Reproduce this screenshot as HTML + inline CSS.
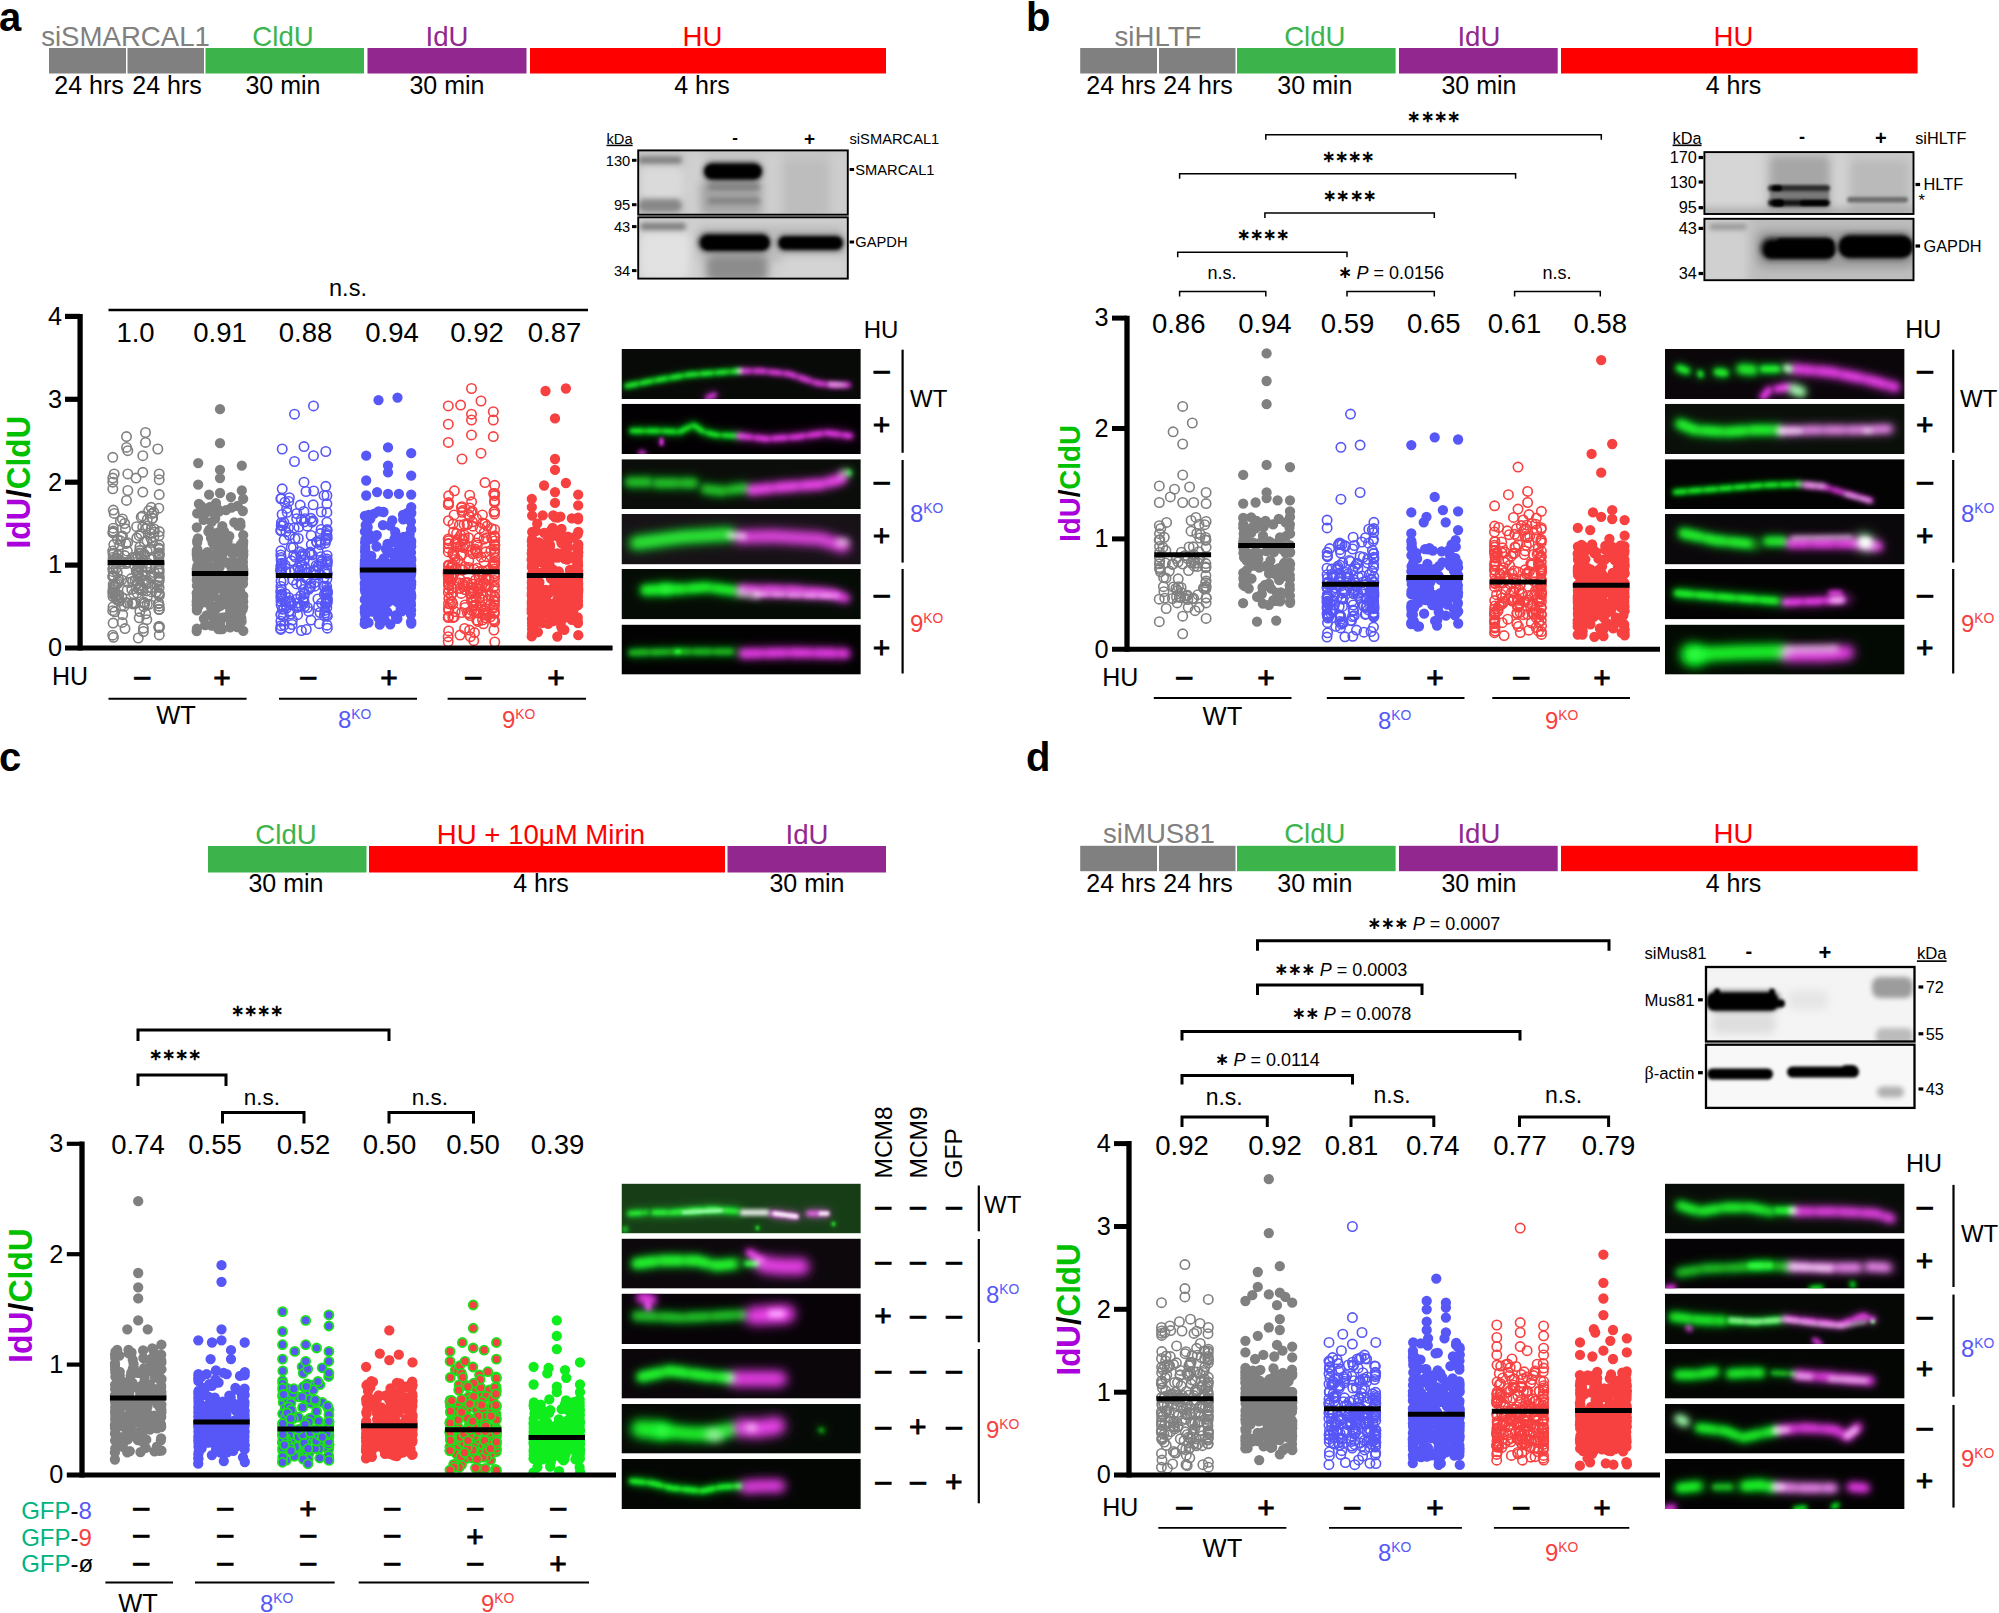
<!DOCTYPE html>
<html><head><meta charset="utf-8"><title>Figure</title>
<style>
html,body{margin:0;padding:0;background:#fff}
svg{display:block}
text{font-family:"Liberation Sans",sans-serif}
.fs{fill:none;stroke-linecap:round;stroke-linejoin:round;mix-blend-mode:screen}
</style></head><body>
<svg width="1999" height="1613" viewBox="0 0 1999 1613">
<defs><marker id="mopen808080" markerUnits="userSpaceOnUse" markerWidth="16" markerHeight="16" refX="8" refY="8"><circle cx="8" cy="8" r="4.7" fill="none" stroke="#808080" stroke-width="1.6"/></marker><marker id="mopen5757f7" markerUnits="userSpaceOnUse" markerWidth="16" markerHeight="16" refX="8" refY="8"><circle cx="8" cy="8" r="4.7" fill="none" stroke="#5757f7" stroke-width="1.6"/></marker><marker id="mopenf74040" markerUnits="userSpaceOnUse" markerWidth="16" markerHeight="16" refX="8" refY="8"><circle cx="8" cy="8" r="4.7" fill="none" stroke="#f74040" stroke-width="1.6"/></marker><marker id="mlime5757f7" markerUnits="userSpaceOnUse" markerWidth="16" markerHeight="16" refX="8" refY="8"><circle cx="8" cy="8" r="4.5" fill="#5757f7" stroke="#1ee01e" stroke-width="1.8"/></marker><marker id="mlimef74040" markerUnits="userSpaceOnUse" markerWidth="16" markerHeight="16" refX="8" refY="8"><circle cx="8" cy="8" r="4.5" fill="#f74040" stroke="#1ee01e" stroke-width="1.8"/></marker><filter id="b1" x="-30%" y="-60%" width="160%" height="220%"><feGaussianBlur stdDeviation="1.0"/></filter><filter id="b2" x="-30%" y="-60%" width="160%" height="220%"><feGaussianBlur stdDeviation="1.7"/></filter><filter id="b3" x="-30%" y="-60%" width="160%" height="220%"><feGaussianBlur stdDeviation="2.6"/></filter><filter id="b4" x="-30%" y="-60%" width="160%" height="220%"><feGaussianBlur stdDeviation="4.5"/></filter><filter id="fb0" filterUnits="userSpaceOnUse" x="-20" y="-20" width="280" height="90"><feGaussianBlur stdDeviation="0.8"/></filter><filter id="fb1" filterUnits="userSpaceOnUse" x="-20" y="-20" width="280" height="90"><feGaussianBlur stdDeviation="1.1"/></filter><filter id="fb2" filterUnits="userSpaceOnUse" x="-20" y="-20" width="280" height="90"><feGaussianBlur stdDeviation="1.5"/></filter><filter id="fb3" filterUnits="userSpaceOnUse" x="-20" y="-20" width="280" height="90"><feGaussianBlur stdDeviation="2.0"/></filter><filter id="fb4" filterUnits="userSpaceOnUse" x="-20" y="-20" width="280" height="90"><feGaussianBlur stdDeviation="2.6"/></filter><filter id="fb5" filterUnits="userSpaceOnUse" x="-20" y="-20" width="280" height="90"><feGaussianBlur stdDeviation="3.2"/></filter><filter id="fb6" filterUnits="userSpaceOnUse" x="-20" y="-20" width="280" height="90"><feGaussianBlur stdDeviation="4.0"/></filter><filter id="fb7" filterUnits="userSpaceOnUse" x="-20" y="-20" width="280" height="90"><feGaussianBlur stdDeviation="5.0"/></filter><filter id="fb8" filterUnits="userSpaceOnUse" x="-20" y="-20" width="280" height="90"><feGaussianBlur stdDeviation="6.0"/></filter><clipPath id="ca1"><rect x="638.2" y="150.4" width="209.6" height="64.3"/></clipPath><clipPath id="ca2"><rect x="638.2" y="217.3" width="209.6" height="61.3"/></clipPath><clipPath id="cb1"><rect x="1704.4" y="152.1" width="209.1" height="61.9"/></clipPath><clipPath id="cb2"><rect x="1704.4" y="218.8" width="209.1" height="61.4"/></clipPath><clipPath id="cd1"><rect x="1706" y="967" width="208.5" height="74.5"/></clipPath><clipPath id="cd2"><rect x="1706" y="1044.7" width="208.5" height="63.2"/></clipPath></defs>
<text x="-1" y="30.5" font-size="40" font-weight="bold">a</text>
<rect x="49" y="48" width="77" height="25.5" fill="#808080"/>
<rect x="127.5" y="48" width="76.5" height="25.5" fill="#808080"/>
<rect x="205.5" y="48" width="158.5" height="25.5" fill="#3cb44b"/>
<rect x="367.5" y="48" width="159" height="25.5" fill="#92278f"/>
<rect x="530" y="48" width="356" height="25.5" fill="#fe0000"/>
<text x="125.5" y="46" font-size="27.6" text-anchor="middle" fill="#808080">siSMARCAL1</text>
<text x="283" y="46" font-size="27.6" text-anchor="middle" fill="#3cb44b">CldU</text>
<text x="447" y="46" font-size="27.6" text-anchor="middle" fill="#92278f">IdU</text>
<text x="702.5" y="46" font-size="27.6" text-anchor="middle" fill="#fe0000">HU</text>
<text x="89" y="94" font-size="25" text-anchor="middle">24 hrs</text>
<text x="167" y="94" font-size="25" text-anchor="middle">24 hrs</text>
<text x="283" y="94" font-size="25" text-anchor="middle">30 min</text>
<text x="447" y="94" font-size="25" text-anchor="middle">30 min</text>
<text x="702" y="94" font-size="25" text-anchor="middle">4 hrs</text>
<polyline points="139.7,578.5 118.5,578.8 113,607 159.3,577.2 138.4,565.9 142.5,515.9 131.2,578.6 142.7,527.1 139.6,550.6 139.2,535.7 113.2,531 115.9,568.7 139.3,553.1 113.5,637.3 113,596.5 117.6,583.5 117.3,572.6 149.8,559 152.6,518.3 141.2,517.2 113.2,575.6 159.3,609.4 115.5,595.5 157.4,585.4 138.2,588 147.3,519.4 115.1,592.6 146.6,590.9 143.8,602.1 159.2,549.5 112.9,560.4 117.4,539.3 159.1,552.7 113.2,553.2 158.8,580.9 127.2,589.9 113.1,623.1 112.9,569.2 151.3,576.4 139.9,611.5 147.4,596.6 117.3,594.5 158.2,569.5 128.1,582.5 112.9,532.9 113.1,554.5 146.8,619.7 127.4,551.2 147.2,551.5 115.6,597 138.4,573.3 152.4,542.4 112.7,610.7 146.1,582.7 138.7,566.7 151.2,507.3 146.9,567.1 120.4,521 114.9,585.9 159,627.6 154.1,572.5 135.6,603.2 158.8,603.7 146.1,580.5 133.7,593.7 113.3,510.1 113.2,557.2 159,555.3 132.5,581.4 144.2,541.8 115.8,584.2 121.5,563.8 137.9,556.9 122.5,536.1 137,569.6 121.6,561.5 154.2,532.2 136.8,537.8 124.8,555.6 153.8,512.3 112.7,550.9 135.1,580.2 139.2,617.8 158.9,626.5 142,574.8 159.3,563.8 152,513.6 159.2,606.2 145.7,528.8 152.2,518.2 151.1,529.4 150.4,577.8 113.1,568.6 113.2,571.7 141,553.4 144.7,555.4 144.8,575.4 114.5,558.9 150.3,549.7 159.1,570.6 139.3,567.6 159.1,555.8 136.4,562.3 124.3,606.2 154.2,528.9 142.8,560.6 117.4,598.8 159.2,595.8 159.3,626.5 158.8,556.8 144.7,603.4 147.5,526.1 125.9,543.6 118.6,581.8 137.2,593 122.4,519 120.5,540.8 150.2,548.4 159.1,572.9 121.6,580 127.8,603.2 127.6,542.7 133.6,604 132,603.2 159.3,531.6 151.6,591.9 135.3,557.3 118.7,594.9 113.3,528.2 137.9,572.7 146.1,567.1 147.3,604.2 149.4,604.2 151.5,587.4 118.7,594.9 144,553.9 133.4,603.2 153.9,536.7 159.1,627.5 119.6,545.1 139.9,547 137.4,583.8 159.2,580 119.4,600.7 113,594.1 126.3,563.6 159.3,593.8 150,533 116.2,562.5 140.9,533.8 143.8,606.7 131.8,589.4 116.9,558.3 159,553.9 136.2,570.7 117.8,555.1 159.3,545.1 142.6,590.3 112.8,592.1 149.7,566.1 121.3,536.6 139.8,563.4 121.3,606.1 158.8,508.2 126.9,562.2 159,568.6 113.1,532.3 122.7,614.7 152.1,576.1 113.2,584.3 140.4,585.5 159,554.3 140.9,588.6 150.8,538.2 150.9,568.3 119.2,559.8 122,597.5 116.7,599.6 148.7,510.7 148,563.3 148.2,582 158.9,548.1 143.4,628.3 146.7,567.7 132.4,557.4 159.1,609.3 122.2,622.4 158.7,603.2 112.8,576.6 143.5,579.9 156,592.4 158.9,609.4 158.9,560.2 113.2,586.8 158.9,582.1 143.4,631.5 113.8,544.6 124.6,523.5 114.8,611.8 118.9,601 145.7,613.8 114.2,513.4 126.6,602.6 136.6,526.7 113.3,575.4 134.2,564.9 159,535.8 159.1,587.4 112.9,564 113,576.4 156.6,591.9 118.1,555.1 147,541 158.7,577.1 158.9,593 113,589.7 136.1,558.8 139.2,589.7 125,628.6 137.8,576.6 125.5,528.8 112.7,635.2 138.3,638 159.3,634.9 126.5,436.6 145.5,432.5 145.5,442.4 126.5,447.4 127.8,450.7 157.8,449 112.8,457.3 142.8,455.7 114.2,473.9 112.8,478.1 112.8,482.2 112.8,488.8 127.8,473.9 136,478.1 142.8,472.3 159.2,473.9 159.2,479.7 127.8,490.5 142.8,492.1 159.2,494.6 126.5,500.4" fill="none" stroke="none" marker-start="url(#mopen808080)" marker-mid="url(#mopen808080)" marker-end="url(#mopen808080)"/>
<path d="M243.2 535.1h0M216.4 585h0M235 591.6h0M234.2 581.5h0M232.4 592.9h0M215.8 606.6h0M218.1 532.5h0M236.4 598.5h0M208.6 567.7h0M217.9 563.1h0M196.8 527.3h0M240.5 525.6h0M199.3 602.6h0M230.5 615.7h0M197 599.2h0M212.2 554.8h0M202.4 571.8h0M225.2 577.4h0M219.7 567h0M202 558.9h0M237.2 627h0M232.5 623h0M243.1 543.4h0M197.2 600.2h0M240.3 522.7h0M233.9 548.4h0M202.3 591.9h0M197.2 574.9h0M230.1 627.3h0M215.2 576.8h0M210 506.9h0M197.2 540.7h0M197.1 608.3h0M201.8 568.2h0M209.4 529.6h0M232.9 589.9h0M203.9 618.6h0M217.2 508.4h0M240.9 544.7h0M203.6 519.9h0M216.5 552.8h0M227.6 541.6h0M234.7 562.7h0M242.8 511h0M243 568.4h0M222 555h0M197 579.7h0M209.6 557.7h0M216 503.1h0M242.9 569.5h0M240.9 613.4h0M243.2 595.9h0M224.4 593.7h0M224.2 602.9h0M243.2 541.3h0M234.2 583.7h0M242.8 582.3h0M197.3 566.2h0M239.8 612.4h0M229.8 587.4h0M242.7 609.3h0M243.3 554.5h0M227.7 600.7h0M234.3 522.3h0M233.1 561.3h0M199.8 595.1h0M196.9 610.4h0M197 596.9h0M205.2 625h0M208.2 564.7h0M196.9 608.9h0M242.9 551.1h0M199.8 589.7h0M218.3 561.9h0M203.6 578.9h0M209.5 580.4h0M215.7 535.4h0M237.7 506h0M212.6 542.5h0M204.9 601.1h0M228.1 605h0M242.7 598.2h0M220.4 539.7h0M201.1 505.8h0M243 571.6h0M213.9 544.5h0M223.7 601.6h0M233.1 611.1h0M197.3 606.8h0M202.4 596.1h0M242.8 547.7h0M239.9 567.8h0M222.3 526.2h0M232.2 591.4h0M211 538h0M202.2 585h0M196.7 601.7h0M225.5 617.2h0M231.7 552.9h0M208.6 589.9h0M211.6 625.5h0M222 617.6h0M218.3 623.8h0M196.9 628.7h0M228.5 590.7h0M243.1 579h0M243 600.9h0M211.6 521.8h0M231.8 570.7h0M230.9 623.2h0M239.9 592.2h0M196.7 593.2h0M197 610.3h0M206 568.8h0M197.2 513.4h0M197.1 604h0M208.4 531.5h0M237.9 581.9h0M239.5 574.8h0M197 555.3h0M219.7 599.9h0M242.4 605.4h0M219 511.6h0M237.3 589.6h0M198.9 503.8h0M242.9 546.5h0M196.8 553.2h0M220.1 624.1h0M235.7 615.3h0M216.3 545.7h0M243.3 551.1h0M243 583.8h0M203.7 577.3h0M213.9 596.4h0M210.6 584.1h0M226.7 595.5h0M209.7 604.6h0M243 577.4h0M242.9 566.2h0M221.5 581.3h0M243.3 569.7h0M217.5 585.8h0M196.9 585.6h0M225.9 543.9h0M241.4 618.4h0M198 538.4h0M242.9 561.9h0M206.6 615.4h0M238.8 552.5h0M241.6 621.6h0M226 510.1h0M233.8 610.4h0M220.1 587h0M233.7 551.3h0M227.4 598.6h0M243.2 606.8h0M198.8 581.2h0M213.6 617.9h0M196.8 555h0M238.2 562.6h0M242.9 557.4h0M197.2 558.6h0M201.9 559.1h0M197.5 555.6h0M213.2 536.3h0M221 599.2h0M225.3 590h0M235.5 601.8h0M229.3 536.2h0M231.5 507.7h0M196.8 550.4h0M231.2 593.5h0M198.6 606.1h0M201.6 595.5h0M234.3 585.3h0M235 550h0M197.1 576.5h0M197.3 554.6h0M232.7 572.2h0M234.9 552.2h0M240.1 590.2h0M196.7 569.1h0M202.2 555.6h0M216.1 608.9h0M201.6 554.9h0M230.2 610.6h0M205.1 602.1h0M242.8 599.5h0M220.4 605.9h0M197.1 567.8h0M226.9 562.4h0M226.2 548.4h0M208.2 590.9h0M242.4 571.4h0M201.7 567.7h0M228.7 588.6h0M214.8 590.4h0M239.7 600.1h0M196.8 552.9h0M197.4 549.4h0M222.8 562.1h0M208.7 599.3h0M227.3 547.5h0M218.7 577.1h0M217.7 544.7h0M215.2 518.6h0M210.3 582.7h0M231.7 616.2h0M197.2 542.5h0M197.2 607.8h0M243.2 601.7h0M208.9 582.1h0M213 512.4h0M214.4 615.1h0M211.4 576.6h0M224.1 531.3h0M233.3 568.2h0M222.5 583.1h0M207.4 552.1h0M237.5 523.8h0M218.4 629.1h0M240.7 548.7h0M202.3 597h0M215 578.4h0M210.5 587.4h0M238 525.5h0M196.8 579.9h0M197.5 598.7h0M208.3 575.9h0M205.3 513.3h0M237.2 605.9h0M215 568.6h0M242.7 564.5h0M228.8 563.9h0M243.2 573.7h0M235.4 616.6h0M210.9 607h0M234.7 550.7h0M229.9 578.5h0M196.7 605h0M233.9 602.5h0M199 577.2h0M204.3 592.4h0M229.6 564.5h0M222 546.3h0M241.6 570.2h0M220.5 553.5h0M196.7 631h0M222.3 629.1h0M243.3 630.9h0M220 409.2h0M220 443.2h0M198.2 463.1h0M241.8 465.6h0M220 469.8h0M220 478.1h0M198.2 484.7h0M241.8 490.5h0M220 493h0M209.1 494.6h0M230.9 497.1h0M243.2 498.8h0" stroke="#808080" stroke-width="10.3" stroke-linecap="round" fill="none"/>
<polyline points="311.3,544.6 327,531 327.1,603.2 311.1,535.5 320.9,556.7 292.4,620.1 310.8,583.2 281.3,572.4 312.1,554.9 327,598.7 281.3,595.1 280.7,591.7 307.6,578.6 324.5,586.4 301.6,584.5 324.4,594.5 297.7,575.6 291,603.7 327,562.4 299.4,551.7 301.1,605.8 305,554.7 300.2,505.1 318.5,606.5 327.1,529.6 314.7,586.2 310,587.7 327,600.4 301.3,519.6 300.8,595.8 290.9,602.3 283.7,580.8 305.1,568.5 327.1,562.3 327.2,592.3 293.7,555.3 281.1,565.9 294.1,527.9 326.9,589.7 302.1,564.7 327.2,538.3 297.6,614.7 307.3,572.6 300.9,556.5 304.5,594 303.5,589.5 327.2,560.7 327.3,616.2 304,560.3 316.8,542.3 298.9,606.4 307.4,607.5 308.8,611.4 296.7,518.7 326.9,579.1 320,574.2 289.9,600.7 296.8,607.5 286.7,508.4 323.7,586.3 301,583.5 318.2,551.3 318.1,566.4 281.2,567.8 311,620.1 318.4,566.7 284.9,502.2 281.1,572 285.9,571.4 280.9,621.2 288.9,597.6 289.4,497.7 293.3,547.3 304.3,521.8 301.4,566.7 326.8,597.6 280.8,569.9 281,597 292.1,624.5 320.4,533.6 281.2,525.6 280.7,569.6 298.7,606.5 310.4,553.3 281.1,559.9 326.7,586.3 290.6,614 299.9,570.3 281.2,557.4 320,612.5 319.2,623.7 294.5,570.6 307.3,526.2 315.4,570.6 311,518.3 306,577.8 327.1,564.9 281.1,598.7 291.2,547.4 321.1,529.4 327,625.2 302.6,553.6 325.1,612.9 304.1,602 280.7,530.7 293,580.1 313.7,491 280.9,550.8 311,571.9 320.8,541.7 281,614.7 288.4,528 281,581.2 327.3,573.6 315.2,575.1 321.3,511.9 301.3,555.8 324,577.6 321.4,561.7 325.8,540.3 310.1,552.1 313,520.8 285.1,565.1 287.1,512.3 281,614.4 327.2,598.9 306.5,578.6 281.9,594.1 281,601.5 280.8,629.4 324.8,610.4 322.1,561.1 285.5,601.8 311.9,522.1 283.5,615.6 327.2,600.6 296.5,599.2 326.8,607.7 324.4,615.4 280.8,554.9 316.6,541.8 319.8,540.5 281,565.6 281.1,595.5 295.4,557.1 284.1,539.7 296.6,583.9 327.1,555.4 326.7,535.1 306,491.5 303.4,599.7 282.3,609.2 326.9,602.3 303.9,597.4 281,625.7 313.2,504.8 320.3,544.7 326.9,522.2 298,567.7 281.1,604.9 285.9,531.9 326.9,503.8 326.9,495.5 297.7,603.1 303.6,601 316.1,565.6 298.3,538.5 289.3,535.3 296.8,513.5 281.1,530 280.9,586.4 321.1,564.2 325.3,543.2 281.2,498.2 313.6,570.5 283.9,522.4 281.3,589.4 286,605.2 321.5,603.1 282.1,514.5 326.8,614.8 327.1,591.1 289.2,611.1 288.7,501.4 327,594.6 298.8,527.1 326.9,512.4 281.4,522.7 305.1,518.7 308.7,589.3 284.2,625.1 283,525.7 327,535.6 325.8,593.7 303.9,511.4 313.1,562.7 281.8,563.2 324.8,571.5 310.5,586.6 290,572 326.8,594.1 291.3,560.8 314.4,582.5 286.5,608 304.6,606.5 326.7,569.5 280.9,498.8 324,495.4 295,538.6 289.7,628.2 300.3,562.5 317.9,599 283.8,608.8 281.2,571.6 326.6,533.4 326.1,603.9 326.9,559 301.4,630.6 285.3,593.7 325.4,604 327.3,592.4 280.7,628.5 306.3,629.5 327.3,628.2 313.5,405.9 294.5,414.2 304,446.6 282.2,449 325.8,451.5 313.5,455.7 294.5,461.5 304,482.2 325.8,486.3 282.2,488.8" fill="none" stroke="none" marker-start="url(#mopen5757f7)" marker-mid="url(#mopen5757f7)" marker-end="url(#mopen5757f7)"/>
<path d="M411.1 610.1h0M402.6 552.5h0M385.8 581.9h0M411.1 542.7h0M411.1 558.1h0M365.3 559.1h0M369 539.4h0M365 611h0M365.1 565.9h0M394.5 578.8h0M382.8 576.2h0M386 599.8h0M396.2 556.1h0M398.9 591.1h0M379.3 585.3h0M366.4 574.9h0M410.8 540.5h0M365.7 525.2h0M385.7 593.3h0M410.7 588h0M376.3 567.7h0M367.7 532.6h0M398.6 570.1h0M386.7 573.9h0M374.9 581.2h0M388 551.5h0M365.1 598.9h0M401.5 574.7h0M396.5 551.6h0M401.6 604.6h0M411.2 581.8h0M376.9 599.1h0M365.1 531.2h0M405 596.6h0M368.2 565.3h0M377.9 592.3h0M364.9 531.6h0M364.7 573.9h0M411 584h0M365.2 559.1h0M364.8 582.8h0M411.2 595.5h0M365 561.7h0M364.8 566.4h0M365.2 547h0M411.1 528.8h0M371.5 582.3h0M403.5 570.7h0M371 595.5h0M403.6 537h0M377.4 587.2h0M410.8 602.4h0M373.8 513.9h0M410.9 587.5h0M395.5 567.6h0M381.1 596.4h0M410.9 614.3h0M378.6 511.3h0M407.5 585.3h0M370.3 518.8h0M389.8 575.4h0M365.2 556.1h0M387.2 611.8h0M365 569.1h0M403.2 519.4h0M370.9 567.8h0M383.1 606h0M365.2 549.4h0M401.7 611.3h0M410.9 575.2h0M409.1 542.5h0M404 548.8h0M365.2 586.3h0M395.5 536.3h0M376.8 535.1h0M411.3 559.9h0M366.2 591.8h0M365.1 587.9h0M411 564.3h0M365 551.6h0M410.8 609.6h0M409.6 551.7h0M365.1 583.3h0M369.4 534.9h0M398.5 579.9h0M386 549h0M364.9 516h0M381 578.7h0M393.4 541.8h0M364.8 607.8h0M400.7 609.4h0M411.3 621.8h0M371.2 572.9h0M379.8 624.7h0M401.1 592h0M407.4 596.7h0M408.4 555.9h0M406.4 561.2h0M386.2 567.7h0M377.3 574.6h0M365.5 564.3h0M396.4 579.8h0M365.3 615h0M383.4 559.3h0M409.6 534.4h0M370.6 576.6h0M411.2 540.9h0M364.8 612h0M395 600.5h0M403.5 564.7h0M408 595.3h0M365.3 612.4h0M400.1 545.3h0M400.5 589.9h0M372 585.6h0M366.9 599.9h0M399.2 603.6h0M379.9 574.4h0M370.2 575.8h0M397.4 602h0M384.8 620.1h0M397.2 589.2h0M411.2 546.3h0M394.4 539.2h0M411 605h0M393 598.4h0M401.8 590.8h0M376.1 598.1h0M364.9 565.6h0M395.6 615.5h0M399.5 564.5h0M364.8 563.4h0M410.9 593.2h0M382.1 576h0M377.7 600.8h0M406.7 609h0M410.9 521.5h0M376.5 546.5h0M411.2 569.5h0M400.6 577.7h0M401.4 543.3h0M396.5 598.4h0M393.1 571.4h0M387.6 602.7h0M368.7 514.8h0M410.9 571.9h0M367.7 527.1h0M368.5 622.7h0M410.8 521.4h0M383.8 558.3h0M387.5 543.9h0M409.4 561.7h0M388 546h0M391.8 596.6h0M382.9 525.1h0M411.2 584.3h0M410.8 610h0M392.3 520.5h0M394.9 558.4h0M364.9 577.1h0M373.7 575h0M407.9 572.2h0M380.8 572.4h0M406.7 593h0M378.2 617.5h0M372.3 611.5h0M382.6 587.1h0M402.2 568.8h0M411 582.4h0M364.9 584.9h0M410.3 552.7h0M374.5 573h0M411.2 597.6h0M395.4 565.4h0M387.4 571.5h0M411.3 513h0M397.3 578h0M371.4 561.2h0M364.8 583.6h0M401.7 540.4h0M375.8 577.2h0M365 620.1h0M410.9 513.9h0M394.6 565.2h0M411 622h0M396.2 617.9h0M411.2 566.1h0M410.9 609.6h0M390.1 525.5h0M388.3 598.2h0M380 615.9h0M364.9 589.4h0M374.1 538.3h0M397.4 618.8h0M364.8 599.7h0M411.2 529.7h0M378.5 593.2h0M390.6 563.6h0M411 546.8h0M364.9 560.6h0M388.6 588.3h0M377.7 585.9h0M410.8 567.2h0M380 562.9h0M401.1 566.1h0M375.9 588.8h0M383.5 512h0M369.8 604.4h0M390.4 552.6h0M407.6 564.1h0M364.9 568.9h0M365 608.1h0M365.3 587.2h0M403 547.3h0M407.5 513h0M394.3 592.3h0M408.3 550.1h0M395.2 531.9h0M390 586.1h0M365.2 591.6h0M365 551.5h0M385 582.4h0M409.3 559.7h0M403.8 559.5h0M365.1 542.4h0M395.6 554.3h0M401.5 560.5h0M365.2 612.6h0M386.9 550h0M367.5 555.2h0M403 514.9h0M365 588.2h0M410.7 576.7h0M404.7 588.4h0M401.8 546.4h0M411 552.4h0M404.7 567.7h0M365.4 539.3h0M375.3 596.8h0M411.2 573.2h0M384.5 577.5h0M379.2 604.9h0M388 586.5h0M400.9 585.5h0M381.5 609.7h0M403.1 581.8h0M371.3 556h0M364.7 623.9h0M390.3 624.3h0M411.3 623.6h0M397.5 397.6h0M378.5 400.1h0M388 447.4h0M411.2 453.2h0M366.2 455.7h0M388 465.6h0M388 472.3h0M411.2 475.6h0M366.2 480.5h0M377.1 492.1h0M388 493.8h0M398.9 493.8h0M411.2 494.6h0M366.2 495.5h0M411.2 507.1h0" stroke="#5757f7" stroke-width="10.3" stroke-linecap="round" fill="none"/>
<polyline points="476.5,518.6 450.4,604 448.8,585.1 454.2,616.9 483.2,614.7 478.9,537.9 465,604.9 455.1,611.7 470.5,590.8 462.6,510.6 476.2,604.9 484,561.8 448.3,551.9 457.2,547.2 494.7,557.7 453,592.4 470.1,615.5 469.7,507.9 494.6,535.9 484.1,610.1 467.4,612.7 455.2,559.4 465,582.7 486.1,617.9 494.6,551.6 462.1,512.3 468.8,560.5 448.4,543.5 494.6,597.1 448.8,598.5 481,593.4 469.7,495.2 490.2,604.9 494.5,576.4 494.6,495.6 448.8,565.5 480.9,606.8 490.9,550.4 470.9,550.1 473.8,606 494.6,502.4 462.7,583.6 484.2,532.4 477.1,553 493.9,630 464.2,538.7 482.9,571.5 494.3,611.5 494.7,562 463.1,569.9 457.6,544 494.5,500.9 473.6,600.3 491.7,538.3 448.7,589.1 461.7,554.6 474.2,590.7 460,588.4 488.6,586.3 491.4,528.5 494.5,553.2 464.7,589.5 485.6,587.5 460.4,546.5 482.4,514.9 493.1,566.3 479.4,574.2 478.9,576.6 468.6,514.6 473.4,605.4 448.5,504.4 464.6,628.5 448.7,585.2 472.9,526.2 494.5,604.8 478,621.5 478.8,588.8 475.5,580 494.7,493.4 475.3,549 481.8,585.8 464.3,535 494.5,613.4 472.8,553.8 493.6,493.5 480.1,528.2 476,597.8 463.3,547.6 474.5,632.6 448.2,572.7 456.1,567.6 494.4,580.4 482.6,574.4 448.2,570.5 484.9,523.8 494.5,514 482.5,620.1 453.5,532 494.7,536.3 493.8,601.5 494.4,564.3 467.4,524.6 454.8,556.4 451.7,567.1 450.6,581.3 494.8,545.2 461.7,612.5 472.4,521.8 448.7,610.4 448.5,564.9 460,635.1 452.6,564.3 474,611.5 483.3,595.7 448.7,578.4 469.7,516.7 448.4,582.7 484.8,611 488.5,599.8 494.7,501.3 450.7,567.9 448.4,520.7 486.1,579.6 494.8,537.3 448.3,548.2 461.9,506.7 494.3,564.2 475.4,550.5 448.2,636.7 494.6,548.9 476.7,551.5 464.7,566.7 448.3,504.5 461.7,569.6 464.8,545.1 452.8,604 465.2,607.4 488.3,570.1 494.4,620.3 468.9,567.5 448.5,578.1 459.4,525.1 452.8,617.5 494.6,621.9 494.7,596.4 471.6,501.8 493.3,619.4 450.9,576.5 478.1,609.7 486.4,537.8 448.6,502.6 476.7,543 448.2,575.5 470.3,594.1 459.4,583.1 474.1,569.4 477.4,545 472.1,587.6 453.6,554.6 448.5,616.4 467,524.1 464.1,524.4 469.6,630.1 467.4,582.6 494.4,575.8 481.2,557.2 486.4,585.5 483.4,623.8 448.6,495.8 494.6,511.5 471.8,583.9 448.4,576.9 448.6,630.9 494.7,485.3 469.1,613.5 494.6,573.5 484.8,613.1 456.8,546.9 459.9,579.1 477.7,613.1 485.7,551.8 463,586.7 479.8,583.2 460.8,555.3 461.3,593.4 454.9,543.1 471.6,610.4 448.9,565.6 490.5,594.9 451.3,595 463.2,540.4 470.4,636.7 454.4,490.8 471.3,512.4 479.5,597.4 454.1,514.9 494.7,541 478.8,589.5 448.6,573.5 482.4,599.9 494.6,590.8 451.9,601.9 494.7,544.8 492.6,607.6 486.4,556.7 462.4,539.2 471.6,601.3 477,568.2 448.7,571.8 489.1,579.5 448.6,544 452.6,577.7 479.2,571.4 476.7,620.2 453.8,573.8 486.7,615.3 471.5,597.4 448.4,608.5 494.5,585.9 494.4,565.4 448.4,592.7 460.7,535.2 485,482.6 448.2,539.1 477.4,585.9 467.6,546.2 452.8,553.4 448.5,603.6 494.2,607.9 488.5,613.2 448.2,617.5 494.7,529.4 452.2,588.1 475.4,610.9 494.6,600.7 448.7,579 494.3,569.1 471.2,593.7 456.9,539.6 473,592.2 487.2,526.1 472.3,511.2 490.5,616.8 494.7,562.5 464.3,585.5 478,591.6 456.6,533.4 482.6,523 448.7,540.7 483.9,539.2 494,511.9 483.6,582.4 453,523.9 461.4,507.7 486.2,584.6 448.2,573.4 456.5,541.7 458,560.4 494.7,546.1 493.8,587.3 468.6,537.7 448.2,641.8 473.8,640.7 494.8,642 471.5,388.5 481,401 460.6,405.1 448.3,405.9 493.3,411.7 471.5,414.2 471.5,420 493.3,420 448.3,424.2 471.5,434.9 493.3,436.6 448.3,442.4 481,453.2 462,459" fill="none" stroke="none" marker-start="url(#mopenf74040)" marker-mid="url(#mopenf74040)" marker-end="url(#mopenf74040)"/>
<path d="M577.9 603.6h0M535.6 572.3h0M543.4 594.8h0M563 600.7h0M544.9 556.9h0M568 556.1h0M550.9 536.5h0M548.9 612.8h0M531.9 618.9h0M560.5 614.6h0M577.8 576.3h0M578 518.6h0M578 588.4h0M543.3 606.2h0M578.1 583.5h0M546.6 554.4h0M567.6 604.4h0M578.3 552.3h0M532 622.8h0M578.1 586.2h0M574.3 577.3h0M577.7 578.6h0M574.9 555.9h0M553.2 515.5h0M570.9 613.9h0M534.4 531.4h0M577.7 584.4h0M532.1 608.2h0M549.7 561h0M555.1 517.3h0M532 550.4h0M550.9 578.6h0M577.8 545.9h0M559.9 538.6h0M544.1 532.8h0M565.9 554.2h0M531.9 592.9h0M542.6 548.3h0M534.8 576.3h0M532 545.5h0M557.4 600.4h0M578.1 605h0M552.2 617h0M532.3 583.7h0M563.1 584.8h0M565.4 580.8h0M535.8 531h0M531.7 609h0M535 588.8h0M577.8 557h0M577.9 566.3h0M531.7 595.5h0M564 603.1h0M532.2 531.9h0M558.6 553.7h0M535.6 619.7h0M567.5 592.5h0M548.2 604.1h0M534.8 561h0M532 565h0M557.1 553.3h0M532 633.6h0M537.2 523.6h0M558.2 595h0M539.4 582.2h0M542.4 611.7h0M569.4 587.7h0M558.8 571.5h0M561.5 529h0M540.8 600.2h0M576.3 602.7h0M578.1 591.2h0M547.6 536.6h0M559.4 573.3h0M536.4 600.8h0M536.2 606.9h0M539.1 542.5h0M551 578.2h0M572.1 574.6h0M532.2 602.9h0M561.2 626.5h0M578.1 592.8h0M578 547.7h0M532.1 635.4h0M565.6 549.5h0M577.9 597.8h0M567.3 559.7h0M578 562.2h0M575.2 574.7h0M542.4 603.3h0M578.1 555.8h0M563 599.8h0M539.6 561.8h0M578.2 583.7h0M554.9 580.9h0M572.3 579.7h0M546.2 597.3h0M578.2 570.8h0M578.2 547.6h0M578 581.2h0M532 574.1h0M560.8 622.4h0M531.8 593.1h0M537.9 632.1h0M550.6 553.5h0M532.8 567.6h0M545.2 544.4h0M531.8 603.8h0M578.1 565h0M574.3 608.3h0M532 584.6h0M531.8 541.1h0M574.3 596.7h0M578.1 545.5h0M531.9 605.8h0M532 602.6h0M551.5 578.2h0M557.6 517.5h0M573.2 537.7h0M546 589.9h0M539.8 547.5h0M575.8 586.4h0M557.4 599.3h0M548.6 565.5h0M550 546.6h0M538.3 561.4h0M533.7 627.3h0M531.8 582.4h0M557.7 557.7h0M543.9 562.5h0M551 530.3h0M532.1 625.8h0M547.8 592.9h0M554 581.9h0M568.4 547.5h0M549.5 615.7h0M531.8 601.9h0M570.3 613.7h0M554.3 535.5h0M541.8 590.8h0M542.7 515.4h0M577.8 594h0M572 571.3h0M554.8 591.7h0M577.8 562.1h0M532.2 554.3h0M577.8 534h0M542.3 622.9h0M578.2 588.7h0M532.2 612.4h0M578.3 590.5h0M570.2 604.2h0M537.4 609.1h0M565.2 578.9h0M532.1 515.6h0M561.9 628.3h0M545.4 601.4h0M564.4 629.8h0M563.4 605.7h0M575.9 568.1h0M577.9 594.4h0M559.3 610.5h0M540.9 615.7h0M532 577.3h0M545.1 593.4h0M564.7 617.5h0M564.7 558.8h0M567.3 536.8h0M539.1 608.9h0M533.9 615.7h0M569.4 589.1h0M578 578.5h0M569.9 570h0M552.4 613.1h0M540.3 604.8h0M538.8 556.8h0M561.5 543h0M574.5 568.6h0M539 545.7h0M564.6 609.8h0M558.8 577.7h0M577.6 581.6h0M541.4 547.8h0M533 585.4h0M531.7 553.6h0M548.9 547.6h0M532.1 539h0M578 549.5h0M572.9 591.4h0M577.8 560.1h0M578.2 574.7h0M565.4 548h0M537.7 604.4h0M548.2 623.9h0M532 599.9h0M532.1 629.2h0M548.7 591.3h0M564.3 586.2h0M578 601.1h0M553.5 557.7h0M531.9 567.4h0M549.9 566.2h0M535.3 576.8h0M559.2 587.4h0M578.1 517.6h0M569.7 597.2h0M578 519.4h0M531.9 559.6h0M557.5 587.3h0M549.6 571.1h0M548.2 593.7h0M577.8 557.9h0M531.8 588h0M575.6 604.8h0M536.3 583.3h0M578.3 544.4h0M567.9 536.6h0M545.6 563.9h0M546.2 599.4h0M531.7 559.9h0M576.1 599.4h0M532 596.1h0M544 547.5h0M532.3 585.6h0M571.8 518.3h0M569.1 579.6h0M531.7 612.5h0M577.8 621.3h0M551.9 568.9h0M563.2 606.2h0M531.8 594.9h0M569.1 576h0M532.1 590.4h0M551.6 608.2h0M552.9 569.4h0M577.9 566.8h0M531.8 558.7h0M534.4 595h0M549.9 544.6h0M577.8 617.5h0M539.5 547.5h0M560.4 516.6h0M539.4 593.4h0M553.4 603.7h0M553 621.1h0M532 611h0M551.4 589.3h0M567.4 545h0M557.8 593h0M578 595.9h0M552.6 527.8h0M534 568.8h0M532.1 579h0M531.9 581.7h0M542.6 571.8h0M540.7 588.4h0M537.4 552.8h0M578 623.1h0M571.8 619.8h0M578.3 531.8h0M575.7 560h0M531.7 636.4h0M557.3 636.6h0M578.3 635.2h0M565.9 388.5h0M545.5 391h0M555 418.4h0M555 459h0M555 469.8h0M565.9 483h0M544.1 485.5h0M555 492.1h0M578.2 494.6h0M531.8 498.8h0M555 502.9h0M578.2 505.4h0M531.8 507.1h0" stroke="#f74040" stroke-width="10.3" stroke-linecap="round" fill="none"/>
<path d="M107.8 562.6L164.2 562.6" stroke="#000" stroke-width="5"/>
<path d="M191.8 573.4L248.2 573.4" stroke="#000" stroke-width="5"/>
<path d="M275.8 575.5L332.2 575.5" stroke="#000" stroke-width="5"/>
<path d="M359.8 570.1L416.2 570.1" stroke="#000" stroke-width="5"/>
<path d="M443.3 571.7L499.7 571.7" stroke="#000" stroke-width="5"/>
<path d="M526.8 575.5L583.2 575.5" stroke="#000" stroke-width="5"/>
<path d="M80.1 313.9L80.1 650.5" stroke="#000" stroke-width="5.3"/>
<path d="M65 648L612.6 648" stroke="#000" stroke-width="5"/>
<text x="62" y="656.3" font-size="25.3" text-anchor="end">0</text>
<path d="M65 565.1L80.1 565.1" stroke="#000" stroke-width="5.2"/>
<text x="62" y="573.4" font-size="25.3" text-anchor="end">1</text>
<path d="M65 482.2L80.1 482.2" stroke="#000" stroke-width="5.2"/>
<text x="62" y="490.5" font-size="25.3" text-anchor="end">2</text>
<path d="M65 399.3L80.1 399.3" stroke="#000" stroke-width="5.2"/>
<text x="62" y="407.6" font-size="25.3" text-anchor="end">3</text>
<path d="M65 316.4L80.1 316.4" stroke="#000" stroke-width="5.2"/>
<text x="62" y="324.7" font-size="25.3" text-anchor="end">4</text>
<text transform="translate(30.4 482.2) rotate(-90) scale(0.95 1)" font-size="33.1" font-weight="bold" text-anchor="middle"><tspan fill="#aa00dc">IdU</tspan>/<tspan fill="#00c000">CldU</tspan></text>
<path d="M108.5 310L588 310" stroke="#000" stroke-width="2.5"/>
<text x="348" y="295.5" font-size="23.5" text-anchor="middle">n.s.</text>
<text x="135.5" y="342" font-size="27.5" text-anchor="middle">1.0</text>
<text x="220" y="342" font-size="27.5" text-anchor="middle">0.91</text>
<text x="305.5" y="342" font-size="27.5" text-anchor="middle">0.88</text>
<text x="392" y="342" font-size="27.5" text-anchor="middle">0.94</text>
<text x="477" y="342" font-size="27.5" text-anchor="middle">0.92</text>
<text x="554.6" y="342" font-size="27.5" text-anchor="middle">0.87</text>
<text x="52" y="685" font-size="25">HU</text>
<text x="142" y="689" font-size="32.5" text-anchor="middle" stroke="#000" stroke-width="0.8">−</text>
<text x="222" y="688.1" font-size="30" text-anchor="middle" stroke="#000" stroke-width="0.8">+</text>
<text x="308" y="689" font-size="32.5" text-anchor="middle" stroke="#000" stroke-width="0.8">−</text>
<text x="389" y="688.1" font-size="30" text-anchor="middle" stroke="#000" stroke-width="0.8">+</text>
<text x="473" y="689" font-size="32.5" text-anchor="middle" stroke="#000" stroke-width="0.8">−</text>
<text x="556" y="688.1" font-size="30" text-anchor="middle" stroke="#000" stroke-width="0.8">+</text>
<path d="M108.5 698.7L246.6 698.7" stroke="#000" stroke-width="1.9"/>
<path d="M279 698.7L417 698.7" stroke="#000" stroke-width="1.9"/>
<path d="M447.6 698.7L586 698.7" stroke="#000" stroke-width="1.9"/>
<text x="176" y="724" font-size="25.5" text-anchor="middle">WT</text>
<text x="338" y="728" font-size="24" fill="#5757f7">8<tspan font-size="13.9" dy="-8.6">KO</tspan></text>
<text x="502" y="728" font-size="24" fill="#f74040">9<tspan font-size="13.9" dy="-8.6">KO</tspan></text>
<text x="606.5" y="143.7" font-size="14.7" text-decoration="underline">kDa</text>
<text x="735" y="143.3" font-size="17" text-anchor="middle" font-weight="bold">-</text>
<text x="809.5" y="145" font-size="19" text-anchor="middle" font-weight="bold">+</text>
<text x="849.5" y="143.7" font-size="14.7">siSMARCAL1</text>
<g clip-path="url(#ca1)">
<rect x="638.2" y="150.4" width="209.6" height="64.3" fill="#c6c6c6"/>
<g filter="url(#b4)">
<rect x="640" y="166" width="44" height="34" rx="8" ry="8" fill="#dadada"/>
<rect x="686" y="150" width="18" height="66" rx="4" ry="4" fill="#d0d0d0"/>
<rect x="700" y="180" width="66" height="34" rx="6" ry="6" fill="#a4a4a4"/>
<rect x="762" y="150" width="20" height="66" rx="4" ry="4" fill="#cecece"/>
<rect x="782" y="160" width="48" height="56" rx="6" ry="6" fill="#bdbdbd"/>
<rect x="830" y="150" width="20" height="66" rx="4" ry="4" fill="#cdcdcd"/>
</g><g filter="url(#b3)">
<rect x="638" y="156.5" width="44" height="7" rx="3.5" ry="3.5" fill="#7e7e7e"/>
<rect x="638" y="199" width="44" height="13" rx="6.5" ry="6.5" fill="#888"/>
<rect x="708" y="184.5" width="52" height="5" rx="2.5" ry="2.5" fill="#777"/>
<rect x="708" y="198" width="52" height="5.5" rx="2.8" ry="2.8" fill="#808080"/>
<rect x="703" y="162" width="60" height="19" rx="9.5" ry="9.5" fill="#333"/>
</g><g filter="url(#b2)">
<rect x="705" y="164.5" width="56" height="14" rx="7" ry="7" fill="#000"/>
</g></g>
<g clip-path="url(#ca2)">
<rect x="638.2" y="217.3" width="209.6" height="61.3" fill="#cfcfcf"/>
<g filter="url(#b4)">
<rect x="640" y="232" width="50" height="48" rx="8" ry="8" fill="#e2e2e2"/>
<rect x="696" y="226" width="150" height="36" rx="10" ry="10" fill="#bcbcbc"/>
<rect x="706" y="254" width="62" height="28" rx="8" ry="8" fill="#8c8c8c"/>
<rect x="780" y="256" width="66" height="26" rx="8" ry="8" fill="#d4d4d4"/>
</g><g filter="url(#b3)">
<rect x="640" y="223" width="46" height="7" rx="3.5" ry="3.5" fill="#7c7c7c"/>
<rect x="698" y="233" width="73" height="19" rx="9.5" ry="9.5" fill="#333"/>
<rect x="777" y="235" width="67" height="16" rx="8" ry="8" fill="#3a3a3a"/>
</g><g filter="url(#b2)">
<rect x="701" y="235.5" width="68" height="14.5" rx="7.2" ry="7.2" fill="#000"/>
<rect x="779" y="237" width="63" height="12" rx="6" ry="6" fill="#000"/>
</g></g>
<rect x="638.2" y="150.4" width="209.6" height="64.3" fill="none" stroke="#000" stroke-width="1.9"/>
<rect x="638.2" y="217.3" width="209.6" height="61.3" fill="none" stroke="#000" stroke-width="1.9"/>
<text x="630.3" y="165.5" font-size="14.7" text-anchor="end">130</text>
<rect x="632" y="158.8" width="4.5" height="3" fill="#000"/>
<text x="630.3" y="209.9" font-size="14.7" text-anchor="end">95</text>
<rect x="632" y="203.2" width="4.5" height="3" fill="#000"/>
<text x="630.3" y="231.8" font-size="14.7" text-anchor="end">43</text>
<rect x="632" y="225.1" width="4.5" height="3" fill="#000"/>
<text x="630.3" y="275.8" font-size="14.7" text-anchor="end">34</text>
<rect x="632" y="269.1" width="4.5" height="3" fill="#000"/>
<rect x="849.6" y="168" width="4.5" height="3" fill="#000"/>
<text x="855.3" y="174.7" font-size="14.7">SMARCAL1</text>
<rect x="849.6" y="240.5" width="4.5" height="3" fill="#000"/>
<text x="855.3" y="247.3" font-size="14.7">GAPDH</text>
<svg x="621.5" y="349" width="239.3" height="50" style="isolation:isolate">
<rect width="239.3" height="50" fill="#080a08"/>
<path d="M5 37L30 32L68 25.6L118 22" stroke="#0cff1a" stroke-width="5.2" class="fs" opacity="0.6" filter="url(#fb5)"/>
<path d="M5 37L30 32L68 25.6L118 22" stroke="#0cff1a" stroke-width="4.3" class="fs" stroke-dasharray="10.4 4.8" filter="url(#fb3)"/>
<path d="M118 22L140 22L168 25L195 34L210 36L227 36" stroke="#de2ade" stroke-width="5.2" class="fs" opacity="0.6" filter="url(#fb5)"/>
<path d="M118 22L140 22L168 25L195 34L210 36L227 36" stroke="#de2ade" stroke-width="4.3" class="fs" stroke-dasharray="10.4 4.8" filter="url(#fb3)"/>
<path d="M86 49L93 46" stroke="#de2ade" stroke-width="5.8" class="fs" opacity="0.6" filter="url(#fb6)"/>
<path d="M86 49L93 46" stroke="#de2ade" stroke-width="4.6" class="fs" stroke-dasharray="11 5" filter="url(#fb3)"/>
<path d="M208 35L222 36" stroke="#fff" stroke-width="3.8" class="fs" opacity="0.55" filter="url(#fb3)"/>
</svg>
<svg x="621.5" y="403.8" width="239.3" height="50.2" style="isolation:isolate">
<rect width="239.3" height="50.2" fill="#030003"/>
<path d="M10 27.1L40 27.1L58 28.1L72 21.1L82 28.1L95 31.1L117 32.1" stroke="#0cff1a" stroke-width="5.8" class="fs" opacity="0.6" filter="url(#fb6)"/>
<path d="M10 27.1L40 27.1L58 28.1L72 21.1L82 28.1L95 31.1L117 32.1" stroke="#0cff1a" stroke-width="4.6" class="fs" stroke-dasharray="11 5" filter="url(#fb3)"/>
<path d="M117 32.1L145 35.1L175 33.1L205 29.1L229 32.1" stroke="#de2ade" stroke-width="6.9" class="fs" opacity="0.6" filter="url(#fb6)"/>
<path d="M117 32.1L145 35.1L175 33.1L205 29.1L229 32.1" stroke="#de2ade" stroke-width="5.2" class="fs" stroke-dasharray="12.2 5.5" filter="url(#fb3)"/>
<path d="M40 36.1L40 40.2" stroke="#de2ade" stroke-width="4" class="fs" opacity="0.6" filter="url(#fb5)"/>
<path d="M40 36.1L40 40.2" stroke="#de2ade" stroke-width="3.7" class="fs" stroke-dasharray="9.2 4.2" filter="url(#fb2)"/>
<path d="M19 49.2L22 49.2" stroke="#de2ade" stroke-width="4.6" class="fs" opacity="0.6" filter="url(#fb5)"/>
<path d="M19 49.2L22 49.2" stroke="#de2ade" stroke-width="4" class="fs" stroke-dasharray="9.8 4.5" filter="url(#fb3)"/>
</svg>
<svg x="621.5" y="459.2" width="239.3" height="49.8" style="isolation:isolate">
<rect width="239.3" height="49.8" fill="#0a0d09"/>
<path d="M8 22.9L28 22.9" stroke="#0aa614" stroke-width="12.6" class="fs" opacity="0.6" filter="url(#fb7)"/>
<path d="M8 22.9L28 22.9" stroke="#0aa614" stroke-width="8.2" class="fs" stroke-dasharray="18.2 8" filter="url(#fb5)"/>
<path d="M36 23.9L72 23.9" stroke="#0aa614" stroke-width="12.6" class="fs" opacity="0.6" filter="url(#fb7)"/>
<path d="M36 23.9L72 23.9" stroke="#0aa614" stroke-width="8.2" class="fs" stroke-dasharray="18.2 8" filter="url(#fb5)"/>
<path d="M84 29.9L100 31.9L122 28.9" stroke="#0aa614" stroke-width="12.6" class="fs" opacity="0.6" filter="url(#fb7)"/>
<path d="M84 29.9L100 31.9L122 28.9" stroke="#0aa614" stroke-width="8.2" class="fs" stroke-dasharray="18.2 8" filter="url(#fb5)"/>
<path d="M130 30.9L160 27.9L200 24.9L220 19.9" stroke="#de2ade" stroke-width="12.6" class="fs" opacity="0.6" filter="url(#fb7)"/>
<path d="M130 30.9L160 27.9L200 24.9L220 19.9" stroke="#de2ade" stroke-width="8.2" class="fs" stroke-dasharray="18.2 8" filter="url(#fb5)"/>
<path d="M221 14.9L224 13.9" stroke="#fff" stroke-width="8" class="fs" opacity="0.55" filter="url(#fb5)"/>
<path d="M227 12.9L228 13.9" stroke="#0cff1a" stroke-width="5.8" class="fs" opacity="0.6" filter="url(#fb6)"/>
<path d="M227 12.9L228 13.9" stroke="#0cff1a" stroke-width="4.6" class="fs" stroke-dasharray="11 5" filter="url(#fb3)"/>
</svg>
<svg x="621.5" y="514" width="239.3" height="50.4" style="isolation:isolate">
<rect width="239.3" height="50.4" fill="#161216"/>
<path d="M14 29.2L60 23.2L108 20.2" stroke="#0cff1a" stroke-width="13.8" class="fs" opacity="0.6" filter="url(#fb8)"/>
<path d="M14 29.2L60 23.2L108 20.2" stroke="#0cff1a" stroke-width="8.8" class="fs" filter="url(#fb6)"/>
<path d="M118 23.2L150 22.2L200 25.2L222 32.3" stroke="#de2ade" stroke-width="13.8" class="fs" opacity="0.6" filter="url(#fb8)"/>
<path d="M118 23.2L150 22.2L200 25.2L222 32.3" stroke="#de2ade" stroke-width="8.8" class="fs" filter="url(#fb6)"/>
<path d="M218 28.2L224 28.2" stroke="#fff" stroke-width="8" class="fs" opacity="0.55" filter="url(#fb5)"/>
<path d="M108 21.2L122 22.2" stroke="#fff" stroke-width="6.6" class="fs" opacity="0.55" filter="url(#fb4)"/>
</svg>
<svg x="621.5" y="569" width="239.3" height="50.3" style="isolation:isolate">
<rect width="239.3" height="50.3" fill="#050c05"/>
<path d="M24 21.1L45 20.1" stroke="#0cff1a" stroke-width="12.6" class="fs" opacity="0.6" filter="url(#fb7)"/>
<path d="M24 21.1L45 20.1" stroke="#0cff1a" stroke-width="8.2" class="fs" stroke-dasharray="18.2 8" filter="url(#fb5)"/>
<path d="M45 20.1L60 20.1L85 18.1L115 22.1" stroke="#0cff1a" stroke-width="11.5" class="fs" opacity="0.6" filter="url(#fb7)"/>
<path d="M45 20.1L60 20.1L85 18.1L115 22.1" stroke="#0cff1a" stroke-width="7.6" class="fs" stroke-dasharray="17 7.5" filter="url(#fb5)"/>
<path d="M120 20.1L170 21.1L210 24.1L224 29.2" stroke="#de2ade" stroke-width="10.3" class="fs" opacity="0.6" filter="url(#fb7)"/>
<path d="M120 20.1L170 21.1L210 24.1L224 29.2" stroke="#de2ade" stroke-width="7" class="fs" stroke-dasharray="15.8 7" filter="url(#fb5)"/>
<path d="M118 24.1L135 26.2" stroke="#fff" stroke-width="8" class="fs" opacity="0.55" filter="url(#fb5)"/>
<path d="M135 25.1L215 27.2" stroke="#d868dc" stroke-width="5.8" class="fs" opacity="0.6" filter="url(#fb6)"/>
<path d="M135 25.1L215 27.2" stroke="#d868dc" stroke-width="4.6" class="fs" stroke-dasharray="11 5" filter="url(#fb3)"/>
</svg>
<svg x="621.5" y="624.6" width="239.3" height="50" style="isolation:isolate">
<rect width="239.3" height="50" fill="#020202"/>
<path d="M10 28L60 27L115 27" stroke="#0aa614" stroke-width="9.2" class="fs" opacity="0.6" filter="url(#fb7)"/>
<path d="M10 28L60 27L115 27" stroke="#0aa614" stroke-width="6.4" class="fs" stroke-dasharray="14.6 6.5" filter="url(#fb4)"/>
<path d="M55 27L58 27" stroke="#0cff1a" stroke-width="3.4" class="fs" opacity="0.6" filter="url(#fb5)"/>
<path d="M55 27L58 27" stroke="#0cff1a" stroke-width="3.4" class="fs" stroke-dasharray="8.6 4" filter="url(#fb2)"/>
<path d="M122 29L170 28L224 29" stroke="#de2ade" stroke-width="11.5" class="fs" opacity="0.6" filter="url(#fb7)"/>
<path d="M122 29L170 28L224 29" stroke="#de2ade" stroke-width="7.6" class="fs" stroke-dasharray="17 7.5" filter="url(#fb5)"/>
</svg>
<text x="863.7" y="337.6" font-size="24">HU</text>
<text x="881.6" y="382.6" font-size="32.5" text-anchor="middle" stroke="#000" stroke-width="0.8">−</text>
<text x="881.6" y="434.8" font-size="30" text-anchor="middle" stroke="#000" stroke-width="0.8">+</text>
<text x="881.6" y="494" font-size="32.5" text-anchor="middle" stroke="#000" stroke-width="0.8">−</text>
<text x="881.6" y="545.6" font-size="30" text-anchor="middle" stroke="#000" stroke-width="0.8">+</text>
<text x="881.6" y="606.5" font-size="32.5" text-anchor="middle" stroke="#000" stroke-width="0.8">−</text>
<text x="881.6" y="658.1" font-size="30" text-anchor="middle" stroke="#000" stroke-width="0.8">+</text>
<path d="M902.6 349.7L902.6 452.8" stroke="#000" stroke-width="2.2"/>
<path d="M902.6 460L902.6 562.6" stroke="#000" stroke-width="2.2"/>
<path d="M902.6 569L902.6 673.5" stroke="#000" stroke-width="2.2"/>
<text x="910" y="407" font-size="24">WT</text>
<text x="910" y="521.5" font-size="24" fill="#5757f7">8<tspan font-size="13.9" dy="-8.6">KO</tspan></text>
<text x="910" y="632" font-size="24" fill="#f74040">9<tspan font-size="13.9" dy="-8.6">KO</tspan></text>
<text x="1026" y="30.5" font-size="40" font-weight="bold">b</text>
<rect x="1080.2" y="48" width="76.8" height="25.5" fill="#808080"/>
<rect x="1159" y="48" width="76.5" height="25.5" fill="#808080"/>
<rect x="1237" y="48" width="158.6" height="25.5" fill="#3cb44b"/>
<rect x="1399" y="48" width="158.7" height="25.5" fill="#92278f"/>
<rect x="1561" y="48" width="356.6" height="25.5" fill="#fe0000"/>
<text x="1158" y="46" font-size="27.6" text-anchor="middle" fill="#808080">siHLTF</text>
<text x="1314.8" y="46" font-size="27.6" text-anchor="middle" fill="#3cb44b">CldU</text>
<text x="1478.9" y="46" font-size="27.6" text-anchor="middle" fill="#92278f">IdU</text>
<text x="1733.5" y="46" font-size="27.6" text-anchor="middle" fill="#fe0000">HU</text>
<text x="1121" y="94" font-size="25" text-anchor="middle">24 hrs</text>
<text x="1198" y="94" font-size="25" text-anchor="middle">24 hrs</text>
<text x="1314.8" y="94" font-size="25" text-anchor="middle">30 min</text>
<text x="1478.9" y="94" font-size="25" text-anchor="middle">30 min</text>
<text x="1733.5" y="94" font-size="25" text-anchor="middle">4 hrs</text>
<polyline points="1205.7,582.8 1194.8,563.2 1193.6,598.3 1178.2,578.8 1193.3,546.8 1194.3,566.2 1205.9,563.6 1163.4,586.7 1159.6,567.6 1205.9,588.8 1188.5,570.5 1187.8,599.6 1206.1,581 1206.1,547.3 1205.9,575.6 1193.7,554.6 1164.7,598.2 1176.3,558.6 1205.6,537.5 1205.8,567.6 1205.9,586.8 1205.6,567.7 1198.1,563 1173.5,587 1184.4,555.8 1199.9,558.3 1178.1,562 1169.3,571 1165.9,550.6 1179.3,597.1 1159.7,561.1 1181.4,552.2 1159.8,539.7 1189.1,546.9 1159.6,552.5 1172.9,564 1204.2,588.3 1159.5,533.7 1159.4,563.8 1163.6,577.6 1187.6,595.3 1196.8,533.4 1191.1,563 1193.4,560.4 1206.2,597.9 1182.8,564 1166,578.1 1191,531.2 1177.3,590.5 1175.9,588.4 1204.7,524.7 1172.4,564.4 1159.5,546.5 1178.4,586.7 1206.1,521.4 1199,524.4 1197.9,594.7 1172.4,598.5 1203.4,588.1 1195.9,517.4 1206,540 1166.6,522.4 1197.7,566.4 1160.5,571.8 1200.5,534.5 1159.6,569.3 1164.3,537.3 1180.7,597.5 1162.9,547.4 1206,566.9 1160.7,528.4 1163.9,591.7 1159.2,540.1 1199.7,538 1165.4,563 1186.4,596 1181.1,587.5 1206.1,586.6 1205.6,540.2 1198.8,551.7 1159.4,557.2 1198.8,560.2 1187.8,558.7 1192.3,598.8 1191.1,520.5 1181.7,592.8 1194.5,559.9 1159.3,525.7 1176.5,597 1159.2,599.2 1185,598 1206.2,597.8 1182.7,633.8 1159.3,621.7 1206.1,618.4 1182.7,616.2 1166.2,608.5 1188.2,607.3 1199.2,607.3 1177.2,602.9 1206.1,602.9 1195.1,610.7 1182.7,406.4 1192.3,423 1173.1,431.8 1182.7,444 1182.7,474.9 1159.3,485.9 1189.6,487 1174.5,489.2 1206.1,492.5 1170.3,496.9 1159.3,502.5 1182.7,502.5 1193.7,502.5 1206.1,503.6" fill="none" stroke="none" marker-start="url(#mopen808080)" marker-mid="url(#mopen808080)" marker-end="url(#mopen808080)"/>
<path d="M1282.7 576.4h0M1279.2 580.2h0M1289.7 562.9h0M1244.7 586.2h0M1255.5 555.1h0M1289.7 585.4h0M1289.5 527.8h0M1251.5 578.7h0M1251.6 554.3h0M1285.2 548.3h0M1280 601.4h0M1253.3 563.6h0M1266.6 551.2h0M1285.5 522.3h0M1289.7 568.8h0M1276.7 592.6h0M1280 537.4h0M1243.2 547.2h0M1284.9 562.4h0M1284 572.7h0M1285.8 553.2h0M1261.8 594h0M1243.3 541.3h0M1273.5 543.7h0M1290 516.9h0M1245.4 540.8h0M1266.4 585.8h0M1278.8 518.8h0M1251.2 532.9h0M1289.8 575.5h0M1251.5 554.2h0M1243.2 518h0M1246.5 541.4h0M1266.4 565.7h0M1273.9 552.2h0M1271.1 588.7h0M1243.7 533.7h0M1287.7 565.8h0M1246.8 570.2h0M1243.4 525h0M1268.1 584.6h0M1287.5 576.4h0M1278.6 574.1h0M1269 573.6h0M1257.1 596.9h0M1278.9 568.1h0M1245.3 551h0M1258.3 559.1h0M1262.5 587.4h0M1252.9 526.8h0M1246.6 560.5h0M1253.6 543h0M1255.5 528.4h0M1243.3 524.1h0M1290.1 533.7h0M1289.9 579.1h0M1243.4 585.2h0M1243.3 542.8h0M1243.4 552.9h0M1263 535.7h0M1248.7 588.5h0M1253.2 565.6h0M1243.5 577.9h0M1263.6 526.9h0M1270.4 560.6h0M1290.1 551.8h0M1276.4 575.2h0M1255.7 560.9h0M1284.1 550.4h0M1259.7 543h0M1289.7 565.6h0M1282.8 546h0M1289.8 589.2h0M1245.6 540.1h0M1243.5 579h0M1265.9 566.5h0M1243.7 538.3h0M1259.3 567.6h0M1289.9 595.7h0M1265.5 521h0M1273.1 524.4h0M1256.6 521h0M1244.1 581.4h0M1269.4 567.8h0M1280.8 592.3h0M1244.4 581h0M1280 597.9h0M1271.9 548.6h0M1279.3 545.4h0M1290.1 564.2h0M1282.6 571.8h0M1283.7 546.4h0M1290.1 602.8h0M1290.1 552.6h0M1275.7 569.8h0M1283.2 550.1h0M1244.1 557.6h0M1251.2 517.3h0M1289.9 524.3h0M1275.8 600.9h0M1255.3 545.2h0M1268.9 583.7h0M1265 584.8h0M1268.9 568.5h0M1249.2 553.7h0M1243.3 527.7h0M1248.2 557.3h0M1262.8 603.6h0M1289.7 545.2h0M1286.4 535.8h0M1273.2 600.4h0M1289.5 550.9h0M1258.8 553.3h0M1270 567.3h0M1243.3 573h0M1281.1 543.2h0M1252.1 542.9h0M1284 563.4h0M1258.8 566.3h0M1269.3 541.5h0M1243.1 603.2h0M1268.9 605h0M1290.1 601.2h0M1257 621.7h0M1276.2 620.6h0M1266.6 353.4h0M1266.6 381h0M1266.6 404.2h0M1266.6 464.9h0M1290 467.1h0M1243.2 474.9h0M1266.6 492.5h0M1266.6 498.1h0M1277.6 500.3h0M1290 500.3h0M1255.6 502.5h0M1243.2 503.6h0M1290 511.3h0" stroke="#808080" stroke-width="10.3" stroke-linecap="round" fill="none"/>
<polyline points="1372.1,600.9 1357.7,563.6 1334.5,604.8 1371.5,579.1 1363.3,590.5 1373,615.1 1327.2,582.6 1342.6,562.8 1373.5,586.9 1373.6,601.4 1363.3,557.2 1340.5,578.6 1355,566.4 1373.5,539.1 1370.6,600.3 1360.1,556.4 1353.1,537.2 1341.6,624.2 1327.5,578.2 1352.6,549 1369.3,574.4 1327.2,555.5 1355.9,582.8 1373.7,616.8 1329.6,548.6 1363.1,605.2 1358.5,576.9 1358.1,595.6 1373.8,528.6 1373.7,532.6 1353.2,590.6 1327,568.2 1355.8,586 1339.7,542.9 1373.6,553.6 1373.7,590.6 1331.7,569.1 1337.7,568.3 1363.9,632.2 1370.2,600 1365.3,614.4 1373.5,627.1 1327.1,574.7 1344.9,636.8 1337.8,566.3 1327,587.5 1367.6,563 1350.7,584.1 1344.9,591.8 1373.9,582.5 1351.5,620.7 1327.3,584 1328.1,614.6 1327.2,588.2 1362,576.1 1355.4,589.7 1349.8,586.2 1327.5,602.8 1365.9,607.6 1372.4,608 1338.4,585.8 1327.1,607.8 1340.3,617.2 1339.7,581.8 1339,578.8 1331.6,610.1 1371.5,584.8 1343.3,622.8 1366,581 1368.8,529.2 1327.1,613.3 1342.3,593.2 1373.6,581.9 1332.6,577.4 1342.5,606.4 1334,600.9 1353.8,593.8 1373.7,596.3 1328.7,616.6 1337.1,597.5 1372.4,596.9 1352.5,616.5 1327.4,556 1327.1,527.9 1353.2,605 1327.1,596.7 1327.6,632.8 1347.8,574.1 1370.6,590.8 1327.8,597 1373.5,602.5 1341.3,598.6 1327.2,606.3 1369.7,604.3 1327.2,615.4 1373.9,616.1 1363.7,606.3 1332.3,591.3 1328,618.1 1373.4,591.3 1337.9,569.6 1343.5,588.9 1340.5,627.9 1361.7,542 1356.8,563.8 1341.3,598.8 1373.9,593.1 1353.5,610.9 1327,598.7 1345,545.7 1363.2,582 1373.6,564.3 1340,616.1 1346.1,577 1360.4,598 1327.4,556.7 1327.2,552.3 1346.1,572.5 1327.5,622.7 1373.6,567.6 1327.5,587.8 1339.7,621.5 1352.7,570.2 1327.3,613.8 1373.8,596.2 1329.7,602.9 1331.7,601.6 1349.2,560.4 1362.6,589.5 1371,631.5 1333,609.1 1351.9,601.5 1340.8,616.1 1373.7,553.3 1373.1,541 1328.1,616.4 1347.5,578.1 1370.1,592.1 1365.5,537.7 1373.6,612.6 1344,590.9 1368.5,543.2 1342,622.1 1353.1,610.1 1327.5,595.9 1361.9,592 1340.1,544.6 1373.8,613.3 1373.8,576.6 1373.6,558.5 1353.7,579.6 1328.4,581.9 1327.1,601.8 1367.1,598.1 1365.9,599.2 1372.4,550.4 1367.9,609.7 1331.9,574.2 1331.7,611.1 1327.3,609 1372.3,529.8 1338.4,544.6 1373.5,603.4 1335.8,626.3 1340,549.7 1372,571.1 1358,568.6 1341.2,585.9 1339.3,615 1373.5,586.5 1348,576.4 1373.8,557.2 1373.6,592.8 1374,608.7 1345.3,546.5 1367.6,559.3 1350.7,561.4 1373.8,558.9 1334.4,575.6 1339.5,573.1 1373.7,604.1 1342,544.5 1342.9,599.2 1327.2,603.2 1341.2,576.3 1350.7,620.5 1366,613.9 1339.2,606.4 1340.7,553 1374,606.6 1330.9,584.6 1357.9,593.3 1332.6,584.9 1327.2,601.2 1339.7,565.2 1364.6,584.9 1354.4,545.5 1335.5,587.8 1327.3,596.7 1327.4,594.5 1356.5,630.1 1330.6,612.9 1354.9,591.6 1373.8,594.9 1373.6,597.9 1366.7,606.5 1373.8,613.9 1354.3,615.7 1327,637.1 1352.8,636.3 1374,636.5 1350.5,414.1 1360.1,445.1 1340.9,447.3 1360.1,492.5 1340.9,499.2 1327.1,520.1 1373.9,522.3" fill="none" stroke="none" marker-start="url(#mopen5757f7)" marker-mid="url(#mopen5757f7)" marker-end="url(#mopen5757f7)"/>
<path d="M1416.2 552.8h0M1442.4 562.5h0M1411.4 608.9h0M1432.4 605.2h0M1439.7 578h0M1440.3 579.9h0M1449.8 581.3h0M1427.4 563.8h0M1457.9 574.8h0M1411.7 571.7h0M1418.3 602.9h0M1416.9 597h0M1423.8 571.2h0M1449.9 584.4h0M1432.8 550.6h0M1457.9 585.3h0M1455.4 558.2h0M1450.4 557.5h0M1413.9 608.2h0M1429.1 588.2h0M1458 611.1h0M1418 588.4h0M1438.7 611.9h0M1426 600.2h0M1430.4 582h0M1411.6 613.4h0M1411.7 583.9h0M1415.3 574.9h0M1432.2 575.7h0M1433.5 594.9h0M1431.8 572.8h0M1451.7 595.2h0M1411.2 607h0M1411.3 541.2h0M1437.9 607.7h0M1411.5 591h0M1449.1 582.7h0M1422.8 591.3h0M1412.9 614.7h0M1429.4 548.1h0M1413.2 563h0M1438.3 575.4h0M1419.9 568.8h0M1438.9 603h0M1411.4 548.1h0M1455.3 575.3h0M1449.7 595.7h0M1450 565.8h0M1438.7 604.5h0M1412.5 605.1h0M1411.4 555.3h0M1417.1 558.7h0M1449.3 587.3h0M1411.2 622.9h0M1411.7 543.2h0M1421.6 598.9h0M1416.6 586.4h0M1444.8 586.5h0M1423.6 598.6h0M1455.1 598h0M1457.9 595.7h0M1451.6 544.6h0M1447.7 592.5h0M1445.5 584.8h0M1441.7 551.3h0M1437.2 620h0M1453.9 609.1h0M1418.7 598.5h0M1457.9 602.9h0M1457.7 588.6h0M1411.4 614.8h0M1457.2 580.7h0M1411.7 544.6h0M1449.7 582.6h0M1445.7 581.4h0M1446.3 601.8h0M1447.6 585.6h0M1457.7 612.1h0M1411.3 540.8h0M1458.1 575.6h0M1439.3 566h0M1411.5 604.6h0M1455.6 540.2h0M1449.8 554.4h0M1419.8 586.2h0M1458.1 567.5h0M1453.9 570.7h0M1411.2 579.6h0M1453.5 597.1h0M1435.4 569h0M1412.1 547.9h0M1422.6 572h0M1418.7 576.6h0M1449.6 549.3h0M1449.4 591.5h0M1411.3 594h0M1440.1 596.1h0M1412.9 582.7h0M1411.6 566.4h0M1457.7 563.1h0M1428.8 570.1h0M1424.1 613.7h0M1421.5 595.2h0M1445.9 615.6h0M1419 626.3h0M1411.2 579.4h0M1422 590.4h0M1449.2 586.7h0M1456.7 586.1h0M1425.1 549.2h0M1426.8 584.4h0M1418.9 582.7h0M1434.9 598h0M1455 615.3h0M1458.1 592.8h0M1455.8 546.8h0M1426.8 598.2h0M1450.2 581h0M1428.5 549.4h0M1417.8 626.5h0M1447.3 604.7h0M1440.3 593.1h0M1451.8 557.6h0M1421.5 599.9h0M1426.5 578.9h0M1458.2 611.3h0M1413.9 621.5h0M1411.4 571.5h0M1435.1 620.9h0M1457.7 604h0M1419.2 585.4h0M1426.1 586.4h0M1411.2 624h0M1437 625.6h0M1458.2 623.5h0M1434.7 437.3h0M1458.1 439.5h0M1411.3 445.1h0M1434.7 496.9h0M1442.9 510.2h0M1458.1 511.3h0M1411.3 512.4h0M1426.5 516.8h0M1423.7 522.3h0M1445.7 522.3h0M1458.1 530.1h0M1411.3 533.4h0" stroke="#5757f7" stroke-width="10.3" stroke-linecap="round" fill="none"/>
<polyline points="1514.7,534.3 1513.4,578.6 1541.2,556.7 1513.5,517.4 1494.8,628 1507.2,530.8 1520.1,612.4 1541.2,614.8 1503.1,567.7 1512.8,553.6 1495,557 1500,573.8 1495,620 1532.1,523.5 1530.5,606.5 1514.2,570.8 1518.4,626.4 1495,580.7 1526.4,545.4 1494.5,569.9 1541.1,555.8 1538.8,622 1501.7,542 1541,586.7 1516.8,613.3 1515.5,547.7 1507.9,577.7 1540.5,570.1 1532.9,613.9 1524.2,601.7 1502.6,603.5 1539.2,601.6 1536.1,627.4 1541.2,607.9 1495,582.8 1536.3,611.9 1521.3,525.6 1535.2,591.2 1502.5,547.8 1536.4,518.1 1541.2,592.8 1538.3,547.8 1533.3,554.4 1511.9,573.6 1517.5,607 1500.4,582.4 1518.3,600.3 1495.1,564.5 1527.7,614.4 1541.2,573.5 1495,631.1 1502.3,583.1 1494.7,553.5 1494.5,545.2 1524.7,601.6 1527,525.2 1515.6,583.2 1541.1,613.3 1494.8,575.2 1502.2,622.7 1541.3,615.2 1513.9,591.6 1494.9,564 1494.8,547.1 1494.6,550.6 1528.2,602.4 1521.6,579 1496.5,594.7 1497.3,581.9 1534.6,573 1494.8,570.5 1529.4,571.4 1534.1,613.9 1518.2,544.7 1523.2,520 1541,585 1494.6,566.1 1528,595.5 1495,561.3 1501.8,552.8 1508.4,598.9 1513.6,591.5 1510.2,584.1 1503.6,601.6 1501.4,570 1517.3,599.1 1494.6,608.9 1531.6,604.8 1538.4,552.9 1541.4,566.8 1529.7,536.3 1519.4,604.9 1541.3,590.7 1494.8,613.6 1509.6,565.3 1531.9,612.6 1517.2,613 1539.4,600.5 1523.8,530.4 1541.4,601.7 1494.6,526.1 1538.5,631.2 1495.1,553.4 1541.5,594.6 1494.8,614.3 1495,626.8 1541.2,592.4 1494.6,586.9 1524.8,578 1515.8,588.2 1524.3,554.5 1541.3,540.4 1537.2,585.9 1511.5,592.4 1514.6,553.2 1536.7,530 1519.9,603.5 1505.4,577.2 1531.3,564.9 1541.5,626 1494.7,619.7 1541.2,579.7 1541.4,631.6 1505.9,589.9 1541.1,594 1528.3,600.2 1512.1,600.6 1498.7,527.4 1541.2,542.7 1540.9,557.4 1495,611.6 1541.3,620.5 1494.7,613.2 1541.3,527.7 1527.4,572.7 1500.7,605.1 1494.5,615.1 1537.1,554.2 1517.5,536.2 1526.1,528.8 1541.2,529.3 1538.5,564.3 1494.6,550.8 1536.2,617.7 1519.1,589.7 1538.5,563.6 1517.7,606 1502.6,582.9 1532.3,564.5 1541.3,570.3 1520.2,585.2 1541.1,539.4 1535.5,609.9 1526.5,574.1 1521.6,592.7 1525,569.8 1515,547 1541.1,607.7 1529.1,542.9 1516.8,623.6 1541.2,585.6 1497.1,552.3 1536.1,537.4 1541.3,581.8 1507.7,619.2 1501.4,594.5 1525.1,550.9 1504,572.7 1537.7,589.7 1507.8,559.7 1541.3,561.8 1523.2,614.7 1498,611 1541.5,571.5 1541.1,579.3 1502.3,597.9 1494.8,541.8 1495,583.7 1494.7,621.4 1512.3,601.1 1539.6,589.4 1531.3,622.8 1538.5,613.6 1535.7,524.2 1499.2,605.7 1495,606 1527.5,537.2 1494.9,541.4 1530.8,563.6 1541.4,551.1 1538.4,597.8 1498,609 1534.6,594.8 1534.5,581.8 1528.8,630.2 1494.7,600.6 1506.9,579.2 1500.2,574.4 1504.8,552 1494.6,623.3 1516.5,528.6 1511.3,556.2 1539.6,558 1494.5,532 1509.3,534.7 1518.3,571.9 1541,607.1 1513.9,598.5 1504.1,635.6 1540.9,540.8 1541.2,597.8 1525.2,536.5 1527.7,537.4 1497.3,553.8 1531.9,595.2 1495.5,558 1541.4,568.8 1533.7,575.2 1505.3,562.5 1513.2,600.3 1494.9,563.9 1494.5,632.7 1520.3,632.6 1541.5,634.4 1518,467.1 1527.6,491.4 1508.4,494.7 1527.6,502.5 1494.6,505.8 1518,509.1 1541.4,511.3 1529,514.6" fill="none" stroke="none" marker-start="url(#mopenf74040)" marker-mid="url(#mopenf74040)" marker-end="url(#mopenf74040)"/>
<path d="M1604.9 590.9h0M1594.6 613.3h0M1577.8 571.1h0M1577.9 569h0M1621.3 592.5h0M1624.2 610.8h0M1611 610.3h0M1578 592.1h0M1583.1 571.9h0M1577.8 598.8h0M1624.3 586.4h0M1604.8 606.1h0M1594.4 636.8h0M1624.4 559.7h0M1605.1 549.7h0M1577.9 602.5h0M1582.9 555.4h0M1614.7 560h0M1624.7 565.5h0M1585.3 592.5h0M1614.1 594.7h0M1578.2 553.9h0M1623.3 615.5h0M1612.9 594.5h0M1624.2 603.7h0M1585.4 559.3h0M1577.9 573.2h0M1593.7 616.9h0M1621.9 546h0M1577.8 597.3h0M1601.3 584.8h0M1577.9 613.4h0M1624.2 605.9h0M1580.7 564.5h0M1604.7 577.4h0M1624.2 624.5h0M1617.5 579.8h0M1601.5 607.7h0M1621.3 593.4h0M1578.3 605.9h0M1612.7 581.6h0M1599.8 580.2h0M1601.8 593h0M1624.7 573.5h0M1615.6 589.4h0M1603.7 592.5h0M1578 609.4h0M1583 598.8h0M1580.9 586.1h0M1600 602.8h0M1613.2 628.4h0M1583.3 546.3h0M1585.7 613.3h0M1622 547.3h0M1582.7 631.1h0M1624.6 611.1h0M1578.1 606.6h0M1582.7 576.6h0M1584.5 551.9h0M1598.8 608.5h0M1624.5 550.9h0M1582.5 634.5h0M1619.3 593.2h0M1589.2 608.2h0M1592.8 586.6h0M1588.1 569.9h0M1624.2 598.9h0M1588.4 609.4h0M1577.9 570.4h0M1584.2 623.6h0M1599.9 573.9h0M1594.3 553h0M1587.9 568.1h0M1612.4 595.6h0M1624.3 589.4h0M1588.2 599.4h0M1590.4 624.3h0M1598.4 558.7h0M1584.9 591.9h0M1579.2 604.7h0M1624.6 633.2h0M1624.3 585h0M1612.7 572.9h0M1605.3 545.9h0M1616.4 590.1h0M1583.4 609.9h0M1624.3 601.4h0M1624.1 607.5h0M1624.5 588.8h0M1578.1 560h0M1581.3 565.7h0M1607.9 603.8h0M1606.4 606h0M1582.3 598.8h0M1621.2 545.5h0M1577.8 596.1h0M1602.6 595.7h0M1624.3 624.9h0M1587.4 598.1h0M1582.5 580.9h0M1577.9 573.6h0M1599.2 587.2h0M1611.6 546.4h0M1580.4 579.2h0M1611.1 556.8h0M1589 618.9h0M1604.1 615.1h0M1589.4 585.6h0M1606.1 608.6h0M1588.9 599h0M1621.7 632.9h0M1577.9 600.7h0M1594.1 616.2h0M1588.3 589.4h0M1620.5 607.1h0M1590.8 588.8h0M1624 583.3h0M1624.2 603.1h0M1577.7 626.4h0M1604.9 559.5h0M1605.3 590.8h0M1578.7 548.8h0M1578.1 590.3h0M1590.6 569.5h0M1624.4 587.8h0M1624.3 590.5h0M1603.3 629.6h0M1581.1 561.6h0M1602 574h0M1619.8 571.9h0M1599.9 628.4h0M1623.9 588.8h0M1624.6 596.8h0M1581.3 578.5h0M1577.9 584.9h0M1624.4 593.6h0M1624.5 606.7h0M1597.8 596.6h0M1624.4 562.4h0M1605.1 605.3h0M1600.6 605.7h0M1619.4 618.2h0M1602.1 634.4h0M1607.4 581.5h0M1578 558.5h0M1586.5 593.4h0M1592.1 544.4h0M1584.8 573h0M1624.5 611.1h0M1594.4 579.6h0M1607.4 603.9h0M1603.7 617.6h0M1620.7 584.2h0M1618.2 557h0M1603.6 580.1h0M1595.1 603.1h0M1624.3 607.2h0M1602.8 601.5h0M1613.2 623.7h0M1589.7 600.8h0M1577.9 608.2h0M1606.3 613.4h0M1578 604.1h0M1578 615.1h0M1624.2 589.7h0M1624.3 571.4h0M1577.9 567.3h0M1624.4 567.1h0M1591.3 575.6h0M1624.4 582.8h0M1617.9 566.2h0M1624.1 624.5h0M1624.2 561.4h0M1583.8 623.6h0M1578 589.7h0M1577.7 623.1h0M1614.1 601h0M1582.8 557.8h0M1589.8 576.9h0M1624.1 598.7h0M1577.8 602h0M1577.9 546.7h0M1581.7 583.7h0M1602.6 600.6h0M1582.8 613h0M1585.3 610.2h0M1606.3 622.9h0M1624.2 561.4h0M1603.4 586.5h0M1592.3 597.7h0M1589 599h0M1616.7 602.8h0M1594.1 550.7h0M1607.5 551.5h0M1624.4 546.1h0M1595.1 589.9h0M1582.3 561h0M1609.6 552h0M1583.7 599.9h0M1577.7 620.3h0M1595.4 604.7h0M1594 610.6h0M1624.7 629.8h0M1624.2 553.4h0M1602.1 566.3h0M1581.5 545h0M1585.3 573.3h0M1621.8 623.4h0M1597.9 596.9h0M1615.7 617.4h0M1578.1 575.2h0M1601.6 615.5h0M1612.2 585.5h0M1619.3 553.1h0M1577.7 553.7h0M1585 569.7h0M1620.4 545.7h0M1592.2 545.6h0M1599 569.6h0M1596 552.1h0M1597.6 593.8h0M1584.7 592.9h0M1597.1 592.6h0M1582.2 620.7h0M1599.3 592.9h0M1599.7 575.3h0M1584.5 588.7h0M1613 600h0M1615.1 558h0M1624.4 596.2h0M1615.3 553.3h0M1584.2 572.6h0M1577.9 590.1h0M1623.8 593.6h0M1577.7 634.6h0M1603.5 636.2h0M1624.7 635.3h0M1601.2 360.1h0M1612.2 444h0M1591.6 453.9h0M1601.2 472.7h0M1612.2 510.2h0M1593 512.4h0M1601.2 516.8h0M1612.2 519h0M1624.6 520.1h0M1577.8 527.9h0M1590.2 530.1h0M1624.6 535.6h0M1609.4 538.9h0" stroke="#f74040" stroke-width="10.3" stroke-linecap="round" fill="none"/>
<path d="M1154.3 554.8L1211.1 554.8" stroke="#000" stroke-width="5"/>
<path d="M1238.2 545.5L1295 545.5" stroke="#000" stroke-width="5"/>
<path d="M1322.1 584.2L1378.9 584.2" stroke="#000" stroke-width="5"/>
<path d="M1406.3 577.5L1463.1 577.5" stroke="#000" stroke-width="5"/>
<path d="M1489.6 582L1546.4 582" stroke="#000" stroke-width="5"/>
<path d="M1572.8 585.3L1629.6 585.3" stroke="#000" stroke-width="5"/>
<path d="M1127 315.7L1127 651.8" stroke="#000" stroke-width="5.3"/>
<path d="M1112 649.3L1660 649.3" stroke="#000" stroke-width="5"/>
<text x="1108.7" y="657.6" font-size="25.3" text-anchor="end">0</text>
<path d="M1112 538.9L1127 538.9" stroke="#000" stroke-width="5"/>
<text x="1108.7" y="547.2" font-size="25.3" text-anchor="end">1</text>
<path d="M1112 428.5L1127 428.5" stroke="#000" stroke-width="5"/>
<text x="1108.7" y="436.8" font-size="25.3" text-anchor="end">2</text>
<path d="M1112 318.1L1127 318.1" stroke="#000" stroke-width="5"/>
<text x="1108.7" y="326.4" font-size="25.3" text-anchor="end">3</text>
<text transform="translate(1079.8 483.5) rotate(-90) scale(0.95 1)" font-size="29.1" font-weight="bold" text-anchor="middle"><tspan fill="#aa00dc">IdU</tspan>/<tspan fill="#00c000">CldU</tspan></text>
<text x="1433.8" y="122.4" font-size="15.5" text-anchor="middle" font-family="DejaVu Sans" font-weight="bold" letter-spacing="0.2">∗∗∗∗</text>
<path d="M1265.8 139.7V134.7H1601.3V139.7" fill="none" stroke="#000" stroke-width="1.5"/>
<text x="1348" y="161.6" font-size="15.5" text-anchor="middle" font-family="DejaVu Sans" font-weight="bold" letter-spacing="0.2">∗∗∗∗</text>
<path d="M1179.6 178.8V173.8H1515.6V178.8" fill="none" stroke="#000" stroke-width="1.5"/>
<text x="1349.6" y="200.8" font-size="15.5" text-anchor="middle" font-family="DejaVu Sans" font-weight="bold" letter-spacing="0.2">∗∗∗∗</text>
<path d="M1264.9 218V213H1434.3V218" fill="none" stroke="#000" stroke-width="1.5"/>
<text x="1263" y="239.9" font-size="15.5" text-anchor="middle" font-family="DejaVu Sans" font-weight="bold" letter-spacing="0.2">∗∗∗∗</text>
<path d="M1177.7 257.2V252.2H1347V257.2" fill="none" stroke="#000" stroke-width="1.5"/>
<text x="1222" y="279" font-size="18" text-anchor="middle">n.s.</text>
<path d="M1179.6 296.4V291.4H1265.8V296.4" fill="none" stroke="#000" stroke-width="1.5"/>
<text x="1391" y="278.5" font-size="18" text-anchor="middle"><tspan font-family="DejaVu Sans" font-weight="bold" letter-spacing="-0.8" font-size="17" dy="-1">∗</tspan> <tspan font-style="italic" dy="1">P</tspan> = 0.0156</text>
<path d="M1347 296.4V291.4H1434.3V296.4" fill="none" stroke="#000" stroke-width="1.5"/>
<text x="1557" y="279" font-size="18" text-anchor="middle">n.s.</text>
<path d="M1514.6 296.4V291.4H1600.3V296.4" fill="none" stroke="#000" stroke-width="1.5"/>
<text x="1178.7" y="333" font-size="27.5" text-anchor="middle">0.86</text>
<text x="1264.9" y="333" font-size="27.5" text-anchor="middle">0.94</text>
<text x="1347.6" y="333" font-size="27.5" text-anchor="middle">0.59</text>
<text x="1433.8" y="333" font-size="27.5" text-anchor="middle">0.65</text>
<text x="1514.6" y="333" font-size="27.5" text-anchor="middle">0.61</text>
<text x="1600.3" y="333" font-size="27.5" text-anchor="middle">0.58</text>
<text x="1102.3" y="685.5" font-size="25">HU</text>
<text x="1184" y="689" font-size="32.5" text-anchor="middle" stroke="#000" stroke-width="0.8">−</text>
<text x="1266" y="688.1" font-size="30" text-anchor="middle" stroke="#000" stroke-width="0.8">+</text>
<text x="1352" y="689" font-size="32.5" text-anchor="middle" stroke="#000" stroke-width="0.8">−</text>
<text x="1435" y="688.1" font-size="30" text-anchor="middle" stroke="#000" stroke-width="0.8">+</text>
<text x="1521" y="689" font-size="32.5" text-anchor="middle" stroke="#000" stroke-width="0.8">−</text>
<text x="1602" y="688.1" font-size="30" text-anchor="middle" stroke="#000" stroke-width="0.8">+</text>
<path d="M1153.8 698L1291.5 698" stroke="#000" stroke-width="1.9"/>
<path d="M1326.8 698L1464.5 698" stroke="#000" stroke-width="1.9"/>
<path d="M1492.3 698L1630 698" stroke="#000" stroke-width="1.9"/>
<text x="1222.4" y="724.8" font-size="25.5" text-anchor="middle">WT</text>
<text x="1378" y="728.5" font-size="24" fill="#5757f7">8<tspan font-size="13.9" dy="-8.6">KO</tspan></text>
<text x="1545" y="728.5" font-size="24" fill="#f74040">9<tspan font-size="13.9" dy="-8.6">KO</tspan></text>
<text x="1672.6" y="143.5" font-size="16.3" text-decoration="underline">kDa</text>
<text x="1802" y="142.5" font-size="18" text-anchor="middle" font-weight="bold">-</text>
<text x="1880.8" y="144.5" font-size="20" text-anchor="middle" font-weight="bold">+</text>
<text x="1915.2" y="143.5" font-size="16.3">siHLTF</text>
<g clip-path="url(#cb1)">
<rect x="1704.4" y="152.1" width="209.1" height="61.9" fill="#c9c9c9"/>
<g filter="url(#b4)">
<rect x="1700" y="150" width="64" height="66" rx="6" ry="6" fill="#d6d6d6"/>
<rect x="1770" y="156" width="60" height="60" rx="6" ry="6" fill="#a6a6a6"/>
<rect x="1832" y="150" width="16" height="66" rx="4" ry="4" fill="#d2d2d2"/>
<rect x="1850" y="160" width="58" height="56" rx="6" ry="6" fill="#bababa"/>
<rect x="1700" y="208" width="215" height="10" rx="3" ry="3" fill="#a8a8a8"/>
</g><g filter="url(#b2)">
<rect x="1770" y="188" width="59" height="15" rx="3" ry="3" fill="#7a7a7a"/>
<rect x="1768" y="185" width="62" height="6.5" rx="3.2" ry="3.2" fill="#2a2a2a"/>
<rect x="1768" y="199" width="62" height="7.5" rx="3.8" ry="3.8" fill="#161616"/>
<rect x="1847" y="197" width="61" height="5.5" rx="2.8" ry="2.8" fill="#6c6c6c"/>
</g><g filter="url(#b1)">
<rect x="1772" y="185.5" width="10" height="5.5" rx="2.8" ry="2.8" fill="#000"/>
<rect x="1772" y="199.5" width="12" height="7" rx="3.5" ry="3.5" fill="#000"/>
<rect x="1800" y="200.5" width="28" height="5" rx="2.5" ry="2.5" fill="#000"/>
</g></g>
<g clip-path="url(#cb2)">
<rect x="1704.4" y="218.8" width="209.1" height="61.4" fill="#bdbdbd"/>
<g filter="url(#b4)">
<rect x="1700" y="216" width="48" height="68" rx="4" ry="4" fill="#d0d0d0"/>
<rect x="1756" y="230" width="160" height="38" rx="10" ry="10" fill="#9c9c9c"/>
</g><g filter="url(#b3)">
<rect x="1709" y="223.5" width="38" height="6.5" rx="3.2" ry="3.2" fill="#989898"/>
<rect x="1760" y="237" width="76" height="23" rx="11.5" ry="11.5" fill="#2a2a2a"/>
<rect x="1838" y="234" width="75" height="25" rx="12.5" ry="12.5" fill="#2a2a2a"/>
</g><g filter="url(#b2)">
<rect x="1764" y="241" width="70.5" height="17" rx="7" ry="7" fill="#000"/>
<rect x="1775" y="238.5" width="59" height="11.5" rx="5.8" ry="5.8" fill="#000"/>
<rect x="1839.5" y="236.5" width="72.5" height="20.5" rx="9" ry="9" fill="#000"/>
</g></g>
<rect x="1704.4" y="152.1" width="209.1" height="61.9" fill="none" stroke="#000" stroke-width="1.9"/>
<rect x="1704.4" y="218.8" width="209.1" height="61.4" fill="none" stroke="#000" stroke-width="1.9"/>
<text x="1696.8" y="163.1" font-size="16.3" text-anchor="end">170</text>
<rect x="1698.6" y="155.9" width="4.6" height="3.2" fill="#000"/>
<text x="1696.8" y="187.6" font-size="16.3" text-anchor="end">130</text>
<rect x="1698.6" y="180.4" width="4.6" height="3.2" fill="#000"/>
<text x="1696.8" y="213.3" font-size="16.3" text-anchor="end">95</text>
<rect x="1698.6" y="206.1" width="4.6" height="3.2" fill="#000"/>
<text x="1696.8" y="234" font-size="16.3" text-anchor="end">43</text>
<rect x="1698.6" y="226.8" width="4.6" height="3.2" fill="#000"/>
<text x="1696.8" y="279.1" font-size="16.3" text-anchor="end">34</text>
<rect x="1698.6" y="271.9" width="4.6" height="3.2" fill="#000"/>
<rect x="1915.5" y="182.9" width="4.6" height="3.2" fill="#000"/>
<text x="1923.6" y="190.3" font-size="16.3">HLTF</text>
<text x="1918.5" y="205.5" font-size="16.3">*</text>
<rect x="1915.5" y="244.4" width="4.6" height="3.2" fill="#000"/>
<text x="1923.6" y="251.8" font-size="16.3">GAPDH</text>
<svg x="1665" y="349" width="239.6" height="50" style="isolation:isolate">
<rect width="239.6" height="50" fill="#0a060a"/>
<path d="M14 19L22 22" stroke="#0cff1a" stroke-width="8" class="fs" opacity="0.6" filter="url(#fb6)"/>
<path d="M14 19L22 22" stroke="#0cff1a" stroke-width="5.8" class="fs" stroke-dasharray="13.4 6" filter="url(#fb4)"/>
<path d="M35 24L36 26" stroke="#0cff1a" stroke-width="6.9" class="fs" opacity="0.6" filter="url(#fb6)"/>
<path d="M35 24L36 26" stroke="#0cff1a" stroke-width="5.2" class="fs" stroke-dasharray="12.2 5.5" filter="url(#fb3)"/>
<path d="M52.1 23L60.1 24" stroke="#0cff1a" stroke-width="9.2" class="fs" opacity="0.6" filter="url(#fb7)"/>
<path d="M52.1 23L60.1 24" stroke="#0cff1a" stroke-width="6.4" class="fs" stroke-dasharray="14.6 6.5" filter="url(#fb4)"/>
<path d="M76.1 20L88.1 21" stroke="#0cff1a" stroke-width="11.5" class="fs" opacity="0.6" filter="url(#fb7)"/>
<path d="M76.1 20L88.1 21" stroke="#0cff1a" stroke-width="7.6" class="fs" stroke-dasharray="17 7.5" filter="url(#fb5)"/>
<path d="M98.1 20L112.1 20" stroke="#0cff1a" stroke-width="9.2" class="fs" opacity="0.6" filter="url(#fb7)"/>
<path d="M98.1 20L112.1 20" stroke="#0cff1a" stroke-width="6.4" class="fs" stroke-dasharray="14.6 6.5" filter="url(#fb4)"/>
<path d="M121.2 19L124.2 20" stroke="#8dff9a" stroke-width="9.2" class="fs" opacity="0.6" filter="url(#fb7)"/>
<path d="M121.2 19L124.2 20" stroke="#8dff9a" stroke-width="6.4" class="fs" filter="url(#fb4)"/>
<path d="M130.2 20L165.2 23L200.3 30L230.3 38" stroke="#de2ade" stroke-width="11.5" class="fs" opacity="0.6" filter="url(#fb7)"/>
<path d="M130.2 20L165.2 23L200.3 30L230.3 38" stroke="#de2ade" stroke-width="7.6" class="fs" stroke-dasharray="17 7.5" filter="url(#fb5)"/>
<path d="M98.1 48L104.1 41" stroke="#de2ade" stroke-width="8" class="fs" opacity="0.6" filter="url(#fb6)"/>
<path d="M98.1 48L104.1 41" stroke="#de2ade" stroke-width="5.8" class="fs" stroke-dasharray="13.4 6" filter="url(#fb4)"/>
<path d="M112.1 40L122.2 38" stroke="#de2ade" stroke-width="9.2" class="fs" opacity="0.6" filter="url(#fb7)"/>
<path d="M112.1 40L122.2 38" stroke="#de2ade" stroke-width="6.4" class="fs" stroke-dasharray="14.6 6.5" filter="url(#fb4)"/>
<path d="M128.2 40L136.2 43" stroke="#8dff9a" stroke-width="11.5" class="fs" opacity="0.6" filter="url(#fb7)"/>
<path d="M128.2 40L136.2 43" stroke="#8dff9a" stroke-width="7.6" class="fs" filter="url(#fb5)"/>
</svg>
<svg x="1665" y="403.8" width="239.6" height="50.2" style="isolation:isolate">
<rect width="239.6" height="50.2" fill="#0a0f0a"/>
<path d="M15 20.1L30 26.1L60.1 28.1L90.1 26.1L112.1 26.1" stroke="#0cff1a" stroke-width="11.5" class="fs" opacity="0.6" filter="url(#fb7)"/>
<path d="M15 20.1L30 26.1L60.1 28.1L90.1 26.1L112.1 26.1" stroke="#0cff1a" stroke-width="7.6" class="fs" stroke-dasharray="17 7.5" filter="url(#fb5)"/>
<path d="M116.1 27.1L150.2 26.1L190.2 26.1L225.3 25.1" stroke="#d868dc" stroke-width="10.3" class="fs" opacity="0.6" filter="url(#fb7)"/>
<path d="M116.1 27.1L150.2 26.1L190.2 26.1L225.3 25.1" stroke="#d868dc" stroke-width="7" class="fs" stroke-dasharray="15.8 7" filter="url(#fb5)"/>
<path d="M116.1 27.1L135.2 27.1" stroke="#fff" stroke-width="5.2" class="fs" opacity="0.55" filter="url(#fb4)"/>
<path d="M200.3 27.1L205.3 27.1" stroke="#fff" stroke-width="5.2" class="fs" opacity="0.55" filter="url(#fb4)"/>
</svg>
<svg x="1665" y="459.2" width="239.6" height="49.8" style="isolation:isolate">
<rect width="239.6" height="49.8" fill="#020302"/>
<path d="M10 32.9L50.1 29.9L100.1 25.9L133.2 24.9" stroke="#0cff1a" stroke-width="5.2" class="fs" opacity="0.6" filter="url(#fb5)"/>
<path d="M10 32.9L50.1 29.9L100.1 25.9L133.2 24.9" stroke="#0cff1a" stroke-width="4.3" class="fs" stroke-dasharray="10.4 4.8" filter="url(#fb3)"/>
<path d="M134.2 24.9L158.2 26.9" stroke="#fff" stroke-width="5.2" class="fs" opacity="0.55" filter="url(#fb4)"/>
<path d="M140.2 25.9L160.2 27.9L180.2 33.9L207.3 41.8" stroke="#de2ade" stroke-width="4.6" class="fs" opacity="0.6" filter="url(#fb5)"/>
<path d="M140.2 25.9L160.2 27.9L180.2 33.9L207.3 41.8" stroke="#de2ade" stroke-width="4" class="fs" stroke-dasharray="9.8 4.5" filter="url(#fb3)"/>
<path d="M180.2 34.9L205.3 41.8" stroke="#fff" stroke-width="3.8" class="fs" opacity="0.55" filter="url(#fb3)"/>
</svg>
<svg x="1665" y="514" width="239.6" height="50.4" style="isolation:isolate">
<rect width="239.6" height="50.4" fill="#0b080b"/>
<path d="M18 19.2L50.1 26.2L90.1 30.2" stroke="#0cff1a" stroke-width="11.5" class="fs" opacity="0.6" filter="url(#fb7)"/>
<path d="M18 19.2L50.1 26.2L90.1 30.2" stroke="#0cff1a" stroke-width="7.6" class="fs" stroke-dasharray="17 7.5" filter="url(#fb5)"/>
<path d="M102.1 27.2L118.1 27.2" stroke="#0cff1a" stroke-width="10.3" class="fs" opacity="0.6" filter="url(#fb7)"/>
<path d="M102.1 27.2L118.1 27.2" stroke="#0cff1a" stroke-width="7" class="fs" stroke-dasharray="15.8 7" filter="url(#fb5)"/>
<path d="M125.2 29.2L160.2 29.2L190.2 29.2L213.3 32.3" stroke="#de2ade" stroke-width="11.5" class="fs" opacity="0.6" filter="url(#fb7)"/>
<path d="M125.2 29.2L160.2 29.2L190.2 29.2L213.3 32.3" stroke="#de2ade" stroke-width="7.6" class="fs" stroke-dasharray="17 7.5" filter="url(#fb5)"/>
<path d="M128.2 24.2L185.2 23.2" stroke="#fff" stroke-width="5.2" class="fs" opacity="0.55" filter="url(#fb4)"/>
<path d="M198.2 27.2L202.3 29.2" stroke="#8dff9a" stroke-width="16.1" class="fs" opacity="0.6" filter="url(#fb8)"/>
<path d="M198.2 27.2L202.3 29.2" stroke="#8dff9a" stroke-width="10" class="fs" filter="url(#fb6)"/>
<path d="M199.2 28.2L201.3 28.2" stroke="#fff" stroke-width="8" class="fs" opacity="0.95" filter="url(#fb4)"/>
</svg>
<svg x="1665" y="569" width="239.6" height="50.3" style="isolation:isolate">
<rect width="239.6" height="50.3" fill="#030303"/>
<path d="M12 24.1L60.1 28.2L115.1 32.2" stroke="#0cff1a" stroke-width="9.2" class="fs" opacity="0.6" filter="url(#fb7)"/>
<path d="M12 24.1L60.1 28.2L115.1 32.2" stroke="#0cff1a" stroke-width="6.4" class="fs" stroke-dasharray="14.6 6.5" filter="url(#fb4)"/>
<path d="M120.2 33.2L150.2 32.2L182.2 30.2" stroke="#de2ade" stroke-width="9.2" class="fs" opacity="0.6" filter="url(#fb7)"/>
<path d="M120.2 33.2L150.2 32.2L182.2 30.2" stroke="#de2ade" stroke-width="6.4" class="fs" stroke-dasharray="14.6 6.5" filter="url(#fb4)"/>
<path d="M168.2 31.2L176.2 31.2" stroke="#fff" stroke-width="6.6" class="fs" opacity="0.55" filter="url(#fb4)"/>
<path d="M165.2 24.1L176.2 24.1" stroke="#de2ade" stroke-width="4.6" class="fs" opacity="0.6" filter="url(#fb5)"/>
<path d="M165.2 24.1L176.2 24.1" stroke="#de2ade" stroke-width="4" class="fs" stroke-dasharray="9.8 4.5" filter="url(#fb3)"/>
</svg>
<svg x="1665" y="624.6" width="239.6" height="50" style="isolation:isolate">
<rect width="239.6" height="50" fill="#030a03"/>
<path d="M26 30L30 31" stroke="#0cff1a" stroke-width="23" class="fs" opacity="0.6" filter="url(#fb8)"/>
<path d="M26 30L30 31" stroke="#0cff1a" stroke-width="13.6" class="fs" filter="url(#fb8)"/>
<path d="M28 30L70.1 28L115.1 27" stroke="#0cff1a" stroke-width="16.1" class="fs" opacity="0.6" filter="url(#fb8)"/>
<path d="M28 30L70.1 28L115.1 27" stroke="#0cff1a" stroke-width="10" class="fs" filter="url(#fb6)"/>
<path d="M122.2 30L160.2 30L182.2 28" stroke="#de2ade" stroke-width="16.1" class="fs" opacity="0.6" filter="url(#fb8)"/>
<path d="M122.2 30L160.2 30L182.2 28" stroke="#de2ade" stroke-width="10" class="fs" filter="url(#fb6)"/>
<path d="M122.2 25L170.2 24" stroke="#fff" stroke-width="8" class="fs" opacity="0.55" filter="url(#fb5)"/>
</svg>
<text x="1905.3" y="337.6" font-size="25">HU</text>
<text x="1924.7" y="382.6" font-size="32.5" text-anchor="middle" stroke="#000" stroke-width="0.8">−</text>
<text x="1924.7" y="434.8" font-size="30" text-anchor="middle" stroke="#000" stroke-width="0.8">+</text>
<text x="1924.7" y="494" font-size="32.5" text-anchor="middle" stroke="#000" stroke-width="0.8">−</text>
<text x="1924.7" y="545.6" font-size="30" text-anchor="middle" stroke="#000" stroke-width="0.8">+</text>
<text x="1924.7" y="606.5" font-size="32.5" text-anchor="middle" stroke="#000" stroke-width="0.8">−</text>
<text x="1924.7" y="658.1" font-size="30" text-anchor="middle" stroke="#000" stroke-width="0.8">+</text>
<path d="M1953.2 349.7L1953.2 452.8" stroke="#000" stroke-width="2.2"/>
<path d="M1953.2 460L1953.2 562.6" stroke="#000" stroke-width="2.2"/>
<path d="M1953.2 569L1953.2 673.5" stroke="#000" stroke-width="2.2"/>
<text x="1960" y="407" font-size="24">WT</text>
<text x="1961" y="521.5" font-size="24" fill="#5757f7">8<tspan font-size="13.9" dy="-8.6">KO</tspan></text>
<text x="1961" y="632" font-size="24" fill="#f74040">9<tspan font-size="13.9" dy="-8.6">KO</tspan></text>
<text x="-1" y="771" font-size="40" font-weight="bold">c</text>
<rect x="208" y="846" width="158.5" height="26.5" fill="#3cb44b"/>
<rect x="369" y="846" width="356" height="26.5" fill="#fe0000"/>
<rect x="727.5" y="846" width="158.5" height="26.5" fill="#92278f"/>
<text x="286" y="844" font-size="27.6" text-anchor="middle" fill="#3cb44b">CldU</text>
<text x="541" y="844" font-size="27.6" text-anchor="middle" fill="#fe0000">HU + 10μM Mirin</text>
<text x="807" y="844" font-size="27.6" text-anchor="middle" fill="#92278f">IdU</text>
<text x="286" y="892" font-size="25" text-anchor="middle">30 min</text>
<text x="541" y="892" font-size="25" text-anchor="middle">4 hrs</text>
<text x="807" y="892" font-size="25" text-anchor="middle">30 min</text>
<path d="M139.1 1398.8h0M145.8 1396.1h0M141.4 1430.4h0M133.2 1408.1h0M134.3 1372.1h0M161.2 1427.1h0M161.4 1361.8h0M160.8 1440.4h0M138.7 1403.5h0M115.4 1353.4h0M150.6 1422.8h0M160.3 1405.3h0M161.1 1386.1h0M126.5 1383.8h0M161 1424.5h0M149.6 1393.8h0M160.9 1406.1h0M147.1 1402.1h0M157.1 1428.4h0M152.9 1367.7h0M161.4 1394.9h0M117.2 1350h0M161.2 1398.3h0M128.8 1393.7h0M130.6 1388.9h0M152.3 1348.4h0M159.5 1394.6h0M161.1 1385.3h0M158.7 1390.3h0M150.3 1388.3h0M159.2 1362.7h0M138.9 1416h0M119.2 1423.2h0M115.5 1351.6h0M149.3 1401.2h0M115.2 1448.6h0M127.3 1452.4h0M118.6 1437h0M156.9 1446.7h0M140.4 1409.2h0M152.3 1358h0M121.3 1418.3h0M143.1 1350.4h0M129.1 1416.1h0M160.9 1398.2h0M161.4 1412.6h0M115 1366.1h0M116.8 1412.4h0M115.2 1433.1h0M160.8 1369.4h0M145.6 1406.1h0M132.9 1368.6h0M139.5 1421h0M115 1427.7h0M136.4 1400.5h0M119.4 1355.6h0M133.6 1364.1h0M115.1 1389.1h0M145.1 1411.5h0M134.8 1417.4h0M144.2 1382.3h0M115.8 1405.1h0M143 1442.1h0M124 1442.1h0M161.1 1387.4h0M115.3 1403.1h0M115 1354.4h0M116.8 1397.4h0M161 1413.1h0M161.4 1362.6h0M120.8 1380.1h0M142.8 1431.7h0M120.6 1444.9h0M133.7 1367.5h0M137.8 1372.9h0M160.6 1418.1h0M124.2 1426.9h0M155.1 1377.7h0M127.9 1439.3h0M115.2 1407.1h0M146 1384h0M150.2 1388.7h0M138.2 1422.2h0M115.1 1369.7h0M141.8 1399.4h0M120.1 1418.4h0M119.8 1371.8h0M135 1417.4h0M115.1 1411.6h0M121.7 1421h0M114.9 1395.5h0M154.1 1426.9h0M128.8 1353.4h0M156.7 1389.8h0M122.1 1415.7h0M115.3 1417.7h0M150 1429.5h0M115.6 1429.8h0M144.1 1420.9h0M157.3 1375h0M131.1 1428.9h0M121.1 1407.1h0M128.5 1435h0M115.9 1372.6h0M141.2 1437.5h0M115 1433.8h0M159.5 1450.9h0M118.8 1374.7h0M129.5 1403.2h0M115.2 1396h0M128.5 1349.8h0M154.7 1360.2h0M161.2 1360.3h0M131.2 1415.9h0M143.5 1405.4h0M140.1 1395.7h0M161.3 1397.7h0M115 1398.9h0M114.9 1424.8h0M131.2 1406.8h0M120.9 1388.2h0M157.4 1373.6h0M161.3 1394.6h0M115.3 1423.2h0M147.6 1413.4h0M137.9 1440.1h0M129.8 1451.1h0M129.9 1380h0M147.4 1407.1h0M115.5 1369.5h0M146.3 1439.7h0M144.6 1377.4h0M115 1400.9h0M128 1415.7h0M142.1 1386.7h0M153.3 1422.7h0M161.1 1355h0M161.4 1404.7h0M161.5 1378.9h0M144.2 1397.2h0M154 1415.6h0M129.2 1407.4h0M134.9 1434.8h0M157.4 1391.7h0M131.5 1352.5h0M161.1 1407.4h0M139.6 1390h0M143.1 1395.1h0M125.7 1394.3h0M154.5 1451.3h0M150.6 1388h0M131.3 1353.4h0M118.9 1390.1h0M115.1 1384.9h0M138.8 1434.4h0M122.1 1437.1h0M161.2 1417h0M125.1 1387.6h0M150.8 1363.4h0M161.4 1410.1h0M115.2 1419.4h0M131.3 1372.6h0M115.1 1440.5h0M115.1 1412.6h0M140.2 1392.1h0M115.2 1357.7h0M129.1 1394.5h0M122.8 1446.8h0M130.7 1375.7h0M161.1 1397h0M157.4 1404.2h0M139 1407.4h0M119.4 1441.5h0M127 1432.6h0M157.4 1370.6h0M130.7 1384.4h0M161.2 1354.7h0M115.4 1376.7h0M115.3 1372.4h0M144.2 1438.9h0M161.1 1385.9h0M119.7 1375.4h0M130.2 1420.4h0M154.1 1392.2h0M144.6 1381.5h0M146.7 1425.8h0M115 1363.4h0M143.4 1358h0M161.2 1379.4h0M161.5 1369.3h0M116.6 1421.2h0M128.3 1381.6h0M119.7 1399.6h0M117.6 1375.3h0M156.9 1394.2h0M141.4 1385.8h0M115.1 1433h0M161.1 1438.3h0M148.9 1424h0M139.3 1433h0M132.8 1360h0M115.3 1414.3h0M115.4 1403.9h0M152 1387.9h0M115.7 1417.6h0M159.8 1407.3h0M161.1 1408h0M153.7 1427.9h0M144.1 1368.2h0M115.9 1353.1h0M161.4 1379.7h0M126.8 1390.1h0M129.3 1392.8h0M127.7 1429.8h0M161.4 1391.9h0M161.1 1425.6h0M118.1 1410.8h0M154.2 1368h0M132.5 1382.8h0M138.3 1431.8h0M123.5 1423.6h0M115.4 1415.9h0M115.3 1409.8h0M121.8 1441.7h0M143.5 1385h0M126.5 1428.8h0M126.9 1402.2h0M149.4 1370.6h0M149.9 1384.7h0M115.3 1408.9h0M160.6 1425.8h0M145.7 1447.8h0M149 1371.2h0M153.3 1350.1h0M114.9 1452.4h0M140.5 1452.2h0M161.5 1450.7h0M114.9 1459.5h0M138.2 1201.2h0M138.2 1273h0M138.2 1287.3h0M138.2 1298.4h0M138.2 1320.4h0M127.3 1329.3h0M147.7 1329.3h0M161.4 1344.7h0" stroke="#808080" stroke-width="10.3" stroke-linecap="round" fill="none"/>
<path d="M198.3 1412.3h0M230.2 1443.6h0M218.8 1430.6h0M227.9 1436.3h0M235.3 1410h0M214.9 1424.6h0M210.7 1434.8h0M238.3 1411.4h0M198.8 1432.8h0M243 1401.8h0M235.3 1425.8h0M198.3 1375.5h0M216.5 1432.6h0M215.8 1405.3h0M198.3 1425.2h0M244.2 1414.8h0M244.3 1448.5h0M234.9 1421.6h0M229.3 1395.6h0M198.3 1463.6h0M204.1 1432.7h0M226.7 1374.1h0M215.1 1444.6h0M210.5 1434h0M234.7 1426.9h0M198.3 1407.3h0M198.3 1391.8h0M198.2 1426.5h0M235.4 1388h0M242 1396.2h0M198.7 1405.8h0M243 1457.3h0M198.2 1378.6h0M198.4 1431.8h0M244.7 1410.9h0M221.3 1430.4h0M209.8 1438.3h0M198.6 1452h0M244.7 1419.7h0M235.2 1426.1h0M235.3 1429.1h0M244.6 1425.1h0M211.9 1455.1h0M198.3 1436.4h0M210.4 1437.4h0M235.8 1406.3h0M198.7 1442.9h0M244.8 1372.2h0M243.5 1442.3h0M219.1 1424.3h0M208.5 1442.6h0M244.5 1394.7h0M198.7 1442h0M198.7 1439.3h0M209.8 1437.2h0M198.3 1416.4h0M243.1 1444.8h0M198.3 1440.5h0M204.8 1428.4h0M198.4 1374.2h0M204.3 1440.5h0M207.1 1409.2h0M217 1416.2h0M198.5 1428.2h0M238.1 1444.7h0M237.8 1417.6h0M243.9 1419.1h0M198.5 1398.3h0M198.5 1394.8h0M212.5 1441.1h0M207.1 1424.5h0M198.6 1425.7h0M221 1446.5h0M198.5 1453.5h0M203.4 1429.5h0M226.3 1414.9h0M244.8 1445.2h0M244.5 1402.5h0M237.3 1434.9h0M198.4 1438.4h0M230.4 1425.6h0M229.4 1424.3h0M214.1 1413.4h0M244.5 1423.4h0M244.6 1424.2h0M198.7 1444.4h0M223.4 1408.2h0M210 1438.8h0M198.5 1416.6h0M198.7 1410.5h0M208.8 1396.9h0M198.4 1381.2h0M229.8 1426.7h0M227.7 1439.3h0M218.6 1382.6h0M217.8 1402.2h0M244.6 1388.7h0M237.3 1405.5h0M203.1 1430.1h0M227.2 1452.4h0M198.5 1409.2h0M232.2 1449.8h0M210 1418.4h0M209.8 1413.6h0M244.2 1393.4h0M214.8 1397.6h0M198.5 1446.7h0M208.2 1415.1h0M244.3 1435.4h0M205.8 1437.8h0M244.6 1417.1h0M198.5 1401h0M218.8 1447h0M244.4 1436.6h0M234.6 1422h0M198.3 1393.5h0M222 1405.6h0M203.6 1418.4h0M209 1406.1h0M243.7 1396.7h0M210.3 1417.7h0M229.2 1404.6h0M244.4 1401.8h0M222.8 1411.2h0M240.1 1418.2h0M198.5 1422.1h0M226.7 1408h0M244.3 1405.3h0M244.3 1405.6h0M202.7 1431.3h0M244.6 1426.1h0M225.3 1421.2h0M198.5 1403.2h0M236.7 1446.1h0M198.5 1458.7h0M244.2 1440h0M198.7 1442.8h0M198.7 1390.7h0M198.6 1400h0M220.6 1410.4h0M209.3 1384.1h0M224.1 1435.1h0M220.1 1452.4h0M216 1450h0M244.7 1395.1h0M244.2 1438.7h0M242.3 1401.5h0M243.9 1438.3h0M241.6 1419.4h0M198.6 1414.3h0M233.8 1420.8h0M231.3 1401.5h0M221.1 1410.4h0M244.5 1430.9h0M220.8 1437.2h0M201.6 1435.3h0M236.4 1389.6h0M244.6 1415h0M198.7 1405.5h0M198.4 1440.2h0M229.7 1433h0M214 1399.4h0M202.7 1387.9h0M222.7 1401.7h0M244.3 1432.2h0M244.4 1440.5h0M242.2 1397.2h0M232.6 1439.7h0M223.6 1372.8h0M198.3 1453.9h0M244.5 1445.2h0M224.7 1425.5h0M210.4 1429.5h0M228.7 1429h0M240 1375.9h0M220.4 1425.4h0M214 1434.1h0M198.2 1458.2h0M200.3 1404h0M244.5 1425.2h0M198.8 1402.6h0M237.4 1420.4h0M231.6 1403.4h0M198.7 1391.7h0M231.5 1426.9h0M213.1 1437.5h0M240.8 1419.2h0M207.9 1424.6h0M215.5 1379.5h0M244.5 1436.4h0M203.4 1394.8h0M231.5 1449.1h0M233.3 1450.8h0M238.9 1404h0M244.7 1375h0M198.7 1410.3h0M224.7 1407h0M198.2 1463.4h0M244.5 1424.5h0M198.7 1452.8h0M234.6 1430.4h0M198.6 1442.6h0M224.2 1445.8h0M212 1385.8h0M201 1413.1h0M212.4 1429.4h0M198.3 1397.9h0M201.6 1448.3h0M230.7 1397.5h0M206.6 1374.1h0M198.8 1427h0M215.9 1370.5h0M212.4 1407.6h0M198.7 1427.1h0M205.1 1388.7h0M202.6 1412.9h0M220.1 1404h0M244.6 1449.4h0M241.2 1440.4h0M203.4 1433.1h0M244.7 1431.8h0M227.9 1428.4h0M218.3 1405.3h0M209.8 1403h0M201.3 1376.8h0M244.8 1419h0M198.4 1426.5h0M202.6 1412.7h0M202.8 1416.6h0M198.6 1440.7h0M198.6 1417.9h0M236.9 1438.2h0M222.2 1437.6h0M198.5 1443.2h0M198.2 1463.7h0M223.8 1461.1h0M244.8 1462h0M221.5 1265.2h0M221.5 1281.8h0M221.5 1329.3h0M198.3 1340.3h0M244.7 1342.5h0M212 1342.5h0M221.5 1340.3h0M231 1350.2h0M231 1359.1h0M210.6 1359.1h0" stroke="#5757f7" stroke-width="10.3" stroke-linecap="round" fill="none"/>
<polyline points="282.9,1449 293.5,1434.9 286.3,1460.2 301,1454.4 306.4,1429.5 298.7,1396.8 290.9,1442.1 302.1,1366.8 322.2,1402.4 328.6,1376.5 328.6,1455.8 317.2,1436.4 282.5,1380.7 287.8,1444.6 287.3,1388.3 283,1435.2 306,1450.3 288.9,1400.8 328.6,1436 307.1,1439.3 288,1416.9 309.2,1453 319.8,1458 328.2,1432.8 282.4,1442.4 328.7,1458.4 289,1416.5 294.5,1415.9 282.8,1390.2 305.7,1420.6 328.9,1430 322.2,1367.8 327.5,1407.1 282.8,1395.7 297,1451.7 282.5,1423.5 283.1,1435.7 323.2,1446.6 328.5,1432.6 297.2,1449.1 297.2,1446.8 310.5,1436.7 284.1,1433.9 328.4,1441.7 303.6,1450.4 328.9,1373 311.9,1385.1 286.2,1414 298.1,1436.6 283.2,1402.5 286.1,1423.9 310,1418.1 304.3,1448.4 282.8,1370.9 282.6,1450.5 329,1421.9 282.7,1396.4 328.7,1446.6 313.7,1417.3 287.6,1398.7 328.8,1447 328.6,1446.5 282.9,1393.5 328.9,1425.1 282.9,1428.9 282.7,1383.5 328.7,1449.5 317.9,1444.5 307.4,1450.5 282.9,1437.1 310.8,1418.2 282.9,1413.5 328,1437.2 329,1444.5 293,1393.5 282.5,1427.6 328.9,1444.7 283.2,1432.9 304.8,1398 282.5,1434.7 307.1,1383.9 303.7,1440.7 282.6,1388 329,1409.6 291,1403 328.7,1421.4 298.4,1436.8 319.6,1429 328.7,1435 289.3,1435 316.5,1411.4 298.5,1417.2 328.5,1424.2 328.7,1444.4 285.5,1437.8 307.1,1441.4 306.7,1451 307,1391.7 285.2,1408.2 328.5,1455.7 282.8,1413.9 282.7,1447.8 286.6,1441.5 323.9,1441 303.8,1444.7 282.8,1459.9 293.4,1418.5 283.8,1437.4 287.2,1411.4 282.7,1456.9 313.3,1389.9 308.4,1422.5 325.4,1446.8 312.9,1435.1 328.9,1414.7 318.9,1442.7 282.6,1442.6 305.2,1430.5 319.2,1448.7 319.5,1429.3 308.2,1458.8 303.3,1427.3 327.6,1406 303.2,1373.3 294.3,1456.3 328.6,1444.4 285.6,1416.5 324.3,1429.7 318.6,1421 313.8,1437.7 282.8,1435 302.6,1407.4 289.3,1445.2 304.2,1443.1 303.3,1386.7 282.9,1424.1 310.9,1403.3 315.2,1448.7 326.9,1432.5 309.8,1399.3 302.9,1434.6 316.2,1441 310.4,1432.4 288.9,1406.8 291.4,1409.9 319.1,1435.1 289.7,1426.3 298.6,1429.4 308.9,1421.9 320,1384.7 303.3,1459.2 290.4,1447.8 291.1,1450.9 328.9,1436.8 328.5,1430.4 283.7,1394.4 328.6,1435.4 282.7,1431.1 308,1448.7 287.3,1413 293.8,1388.7 328.8,1441.6 282.9,1439.4 283.6,1394.6 328.8,1422.9 306.4,1386.5 316.1,1429.5 290.7,1418.5 315.7,1401.6 328.9,1434.8 327,1433.6 301.9,1396.9 284.4,1445.1 328.4,1426.5 328.9,1421.3 322.4,1437.1 282.7,1423.5 282.8,1434.3 305,1424.7 317.9,1381.5 307.7,1369.1 315.2,1399.8 282.4,1462.3 308,1463.8 329,1460.4 282.5,1311.6 328.9,1314.9 305.7,1320.4 328.9,1326 282.5,1331.5 305.7,1344.7 282.5,1344.7 316.6,1348 294.8,1351.4 328.9,1351.4 282.5,1359.1 305.7,1361.3 328.9,1361.3" fill="none" stroke="none" marker-start="url(#mlime5757f7)" marker-mid="url(#mlime5757f7)" marker-end="url(#mlime5757f7)"/>
<path d="M411.3 1383.6h0M412.2 1381.6h0M404.1 1426.8h0M405.4 1387.5h0M410.7 1413.2h0M385 1453.9h0M367.7 1436.2h0M366.1 1428.2h0M368.3 1447.2h0M381.4 1407.3h0M366.1 1448.6h0M378.3 1422.5h0M394.6 1412.9h0M366.2 1399.2h0M370.2 1405.1h0M397.9 1449h0M399.8 1440.7h0M387.1 1448.9h0M389.2 1429.5h0M405.3 1435.5h0M386.2 1448.4h0M401.2 1452.5h0M412.2 1454.9h0M394.4 1438.8h0M396.1 1443.8h0M406.9 1386.4h0M412.6 1385.3h0M405.7 1424.1h0M406.1 1409.1h0M400.6 1425.1h0M366.5 1448h0M366 1428.4h0M411.4 1429.6h0M367.4 1427.2h0M376 1438.9h0M366.1 1428.2h0M375.5 1430.9h0M404.2 1444.2h0M377.6 1398.1h0M412 1413.9h0M398.3 1437.7h0M412.6 1401h0M389.6 1437.1h0M412.3 1442h0M366.5 1432.3h0M377.1 1419.3h0M392.1 1413h0M399.2 1404.8h0M375.9 1436.1h0M366.4 1436.9h0M370.3 1387.4h0M412.5 1427.9h0M398.5 1399.2h0M374.1 1444.9h0M390.4 1412.2h0M386.8 1437h0M376.3 1444.6h0M410.7 1453.2h0M371.9 1456.8h0M402.4 1438.6h0M412.5 1396.2h0M380.6 1421.4h0M404.4 1403.3h0M412.6 1415.5h0M369.8 1401.4h0M399.5 1403.2h0M382.2 1433.9h0M366.5 1403.1h0M399.6 1443.8h0M406.6 1418.3h0M366.1 1422.1h0M377.7 1435h0M412.4 1400.7h0M398.4 1453.2h0M408.1 1409.8h0M399.6 1391.9h0M366.5 1385.4h0M373 1381.9h0M406.4 1399.4h0M367.5 1384.5h0M387 1412h0M412 1415.8h0M397.3 1443.1h0M402.7 1452.6h0M412.3 1434.6h0M366.5 1427.1h0M412.4 1424.8h0M400.9 1430.7h0M377.2 1438.2h0M375.4 1402.7h0M378.6 1395.4h0M385.3 1438.4h0M398.3 1412.8h0M412.4 1406.1h0M412 1387h0M367.8 1426.5h0M366.2 1445.9h0M412.1 1406h0M396.8 1433h0M368 1434.1h0M412.5 1416.9h0M366.4 1401.9h0M371.4 1452.1h0M412.2 1440.4h0M381.7 1431.7h0M412.5 1440.4h0M399.8 1407.8h0M405.8 1438.4h0M371.4 1381.2h0M406.1 1419.2h0M385.5 1447.3h0M410.7 1441.9h0M368.3 1448.3h0M372.2 1406.2h0M400.2 1453.1h0M390.9 1441.2h0M366 1424.8h0M366.2 1421.3h0M390.6 1444.2h0M412.1 1428.5h0M366.3 1448h0M387.8 1416.6h0M412.3 1426.9h0M390.2 1440.1h0M384.4 1421h0M395.4 1413.4h0M376.5 1446.7h0M382.4 1430.9h0M412.6 1422.7h0M366.1 1457.6h0M410.6 1449.2h0M388.6 1425h0M396.7 1456.1h0M403 1440.2h0M366.4 1402.3h0M396.9 1436.9h0M412.3 1420.7h0M412.3 1405.2h0M407.6 1440.1h0M367.7 1439.6h0M412.2 1421.1h0M389.1 1399.6h0M377.9 1428.1h0M399.2 1399.9h0M366.2 1436.6h0M397.2 1410.9h0M408.5 1422.4h0M369.9 1404.3h0M384 1449.7h0M367.6 1387h0M396.5 1436.1h0M371.4 1445.7h0M380.2 1436.2h0M407.6 1438.4h0M412.4 1424.4h0M405.8 1397.9h0M366.5 1425.1h0M393.4 1430.6h0M366.6 1433.3h0M371 1399.2h0M400.2 1437.7h0M408.3 1417.3h0M380.7 1417.6h0M386.3 1430.4h0M407.3 1424.6h0M411.7 1409.3h0M376.9 1413.1h0M391 1446h0M383.2 1441.7h0M401.5 1406h0M395.6 1455.9h0M370.1 1451.4h0M368.4 1398.4h0M376.5 1444.1h0M409.8 1408h0M390.5 1388.5h0M407.5 1442.4h0M381 1441.1h0M376.8 1430.8h0M412.4 1432.4h0M412.3 1434.6h0M412.2 1418.1h0M368.3 1433.5h0M366.1 1433.9h0M403.2 1428.4h0M412.4 1433.3h0M412.6 1434.7h0M404.4 1423h0M412.5 1433.4h0M373 1405.7h0M396.3 1393.5h0M403 1430.6h0M396.9 1382.9h0M412.3 1434.7h0M387.8 1447.4h0M412.1 1402.2h0M390 1448.3h0M366.3 1412.3h0M393.3 1425.2h0M387.3 1424.5h0M373.1 1428.2h0M412.2 1396.9h0M366 1437.6h0M367.2 1409.6h0M404.5 1423.5h0M368 1391h0M409.5 1432.1h0M388.3 1446.4h0M395.3 1438.6h0M366.4 1446.1h0M366.5 1412.3h0M385.4 1395.7h0M366.6 1413.7h0M377.4 1423h0M384.6 1446.8h0M366.5 1439.3h0M411.8 1438.2h0M366.1 1441.3h0M371.9 1445.7h0M366.3 1421.2h0M412 1405.2h0M366.2 1427.5h0M396.3 1412.6h0M372.3 1436.6h0M366.1 1438.6h0M395.1 1421.5h0M366.6 1403.3h0M404.1 1426.3h0M368.2 1400h0M366 1451h0M374.1 1443.8h0M393.9 1455.3h0M399.7 1383.3h0M366.5 1444.2h0M387.4 1395h0M366.4 1431.1h0M390.8 1405.3h0M390.6 1454.1h0M396.3 1421.8h0M412.5 1421.7h0M412.3 1393.9h0M383.3 1411.2h0M412.1 1384.9h0M400.8 1404.4h0M412.6 1429.1h0M408.1 1398.5h0M386.4 1433.2h0M366 1458.3h0M391.6 1454.2h0M412.6 1454.6h0M389.3 1330.4h0M379.8 1353.6h0M398.8 1354.7h0M389.3 1360.2h0M412.5 1362.4h0M366.1 1366.8h0" stroke="#f74040" stroke-width="10.3" stroke-linecap="round" fill="none"/>
<polyline points="486.9,1426 454.2,1442.3 477,1424.8 490.3,1441.3 453.1,1436.9 459.5,1440.7 468.9,1407.5 463.1,1430.8 496,1417.3 475.9,1408.6 496,1435.3 496.1,1414 474.8,1418.5 455.3,1369.7 464.3,1409.6 496.2,1430.3 486.1,1423.8 465.1,1435.1 485.6,1408 479.2,1429.5 449.9,1432.7 496.1,1388.6 496.5,1449.2 495.9,1376.8 480,1387.3 496.3,1377.9 450.3,1405.5 495.5,1469.4 496.4,1428.3 450.1,1429.4 459.1,1458.6 461.6,1464.6 496.4,1406 496.2,1440.4 450.2,1435.7 454.1,1442.2 474.5,1442.9 458.1,1432.8 450.2,1400.4 481.9,1450.5 496,1386.7 468.8,1396.6 477.4,1443.2 467.6,1408.1 496.3,1443.4 477.8,1427.2 481.9,1396.2 489.2,1390 450.1,1431.3 496.3,1451.7 469.8,1437.1 451.9,1444.5 458,1426.9 486.3,1396.4 478.7,1445 456.8,1437.5 457.2,1446.9 456.5,1454 459.4,1440.1 494.7,1436.9 459.1,1384.9 494,1416.9 490.7,1460.1 476,1388.7 489.8,1427.5 495.9,1417.3 467.4,1458.3 486.4,1436.6 467.5,1416.9 462.6,1439.2 492,1399.5 496.3,1378.2 475.9,1418.9 450.5,1404.4 496.4,1390.9 496.4,1419.6 475.3,1441.5 459.6,1405 457.9,1370.9 480.3,1423.8 461.3,1410.9 449.9,1401.9 452.4,1416.6 457.6,1431.5 471.7,1458 450.1,1431.5 469.3,1444.8 450,1421.9 450.4,1449 491.2,1453.6 465.4,1443.5 468.4,1448.3 480.1,1415.9 483.2,1411.3 455.1,1439.7 493.1,1398.7 492.5,1406.7 474.2,1453.1 459,1439.5 459.7,1365.7 471.6,1420.2 460.9,1456.5 449.9,1446.8 469.4,1424.4 449.9,1423.5 482.4,1420.5 458.7,1390.1 491.1,1413.1 480.3,1468.9 461.6,1442.5 475.4,1436.1 484.9,1416.8 488.4,1441.5 467.6,1418.2 471.5,1424.4 456.9,1431.2 496.4,1436.8 484.5,1440.6 470,1441.5 494,1436.8 478.8,1431.6 450.3,1439.4 461.5,1373.4 474.4,1447.2 496.2,1407.1 459.1,1467.4 450.1,1423.2 461.1,1433.2 496.5,1433.6 466.5,1401.5 470.5,1399.1 451.3,1431.2 464,1443.6 496.1,1448.9 489.4,1432.9 486.8,1457.2 485.3,1468.5 485.3,1431.3 487.9,1447.7 495.9,1430.2 460.3,1437.1 450.2,1431.3 482.2,1401.1 494.8,1387.6 463,1409.8 496.2,1444.9 450.4,1412.5 473.7,1396.6 479.5,1374.9 456.7,1411.2 472.8,1449.9 469.9,1435.1 495.9,1405.1 483,1457.3 472.9,1367 453.7,1464.4 450.3,1377.5 496.4,1441.9 451.7,1400.5 449.9,1450.8 450,1450.6 496,1430.6 454.2,1467.2 458.2,1419.8 474,1426.6 487,1450.8 467.4,1447.9 477.1,1459.2 450.1,1432.9 461.6,1399.2 480.6,1387.7 485.2,1423.7 490.5,1448.7 450.5,1411.2 463.9,1433.7 480,1379.5 465.8,1385.1 469.7,1403.9 479.1,1404.4 467.9,1440.6 495.9,1393.9 496.4,1431.5 478.1,1416.2 469.3,1429.6 462.7,1377.3 472.6,1421.1 464.6,1452.7 485.6,1426.1 491.1,1416.1 461.6,1412.2 481.7,1404.9 473.6,1383.2 467.9,1386.6 487.8,1371.7 450.4,1440.3 449.9,1470.1 475.5,1468.1 496.5,1470.3 473.2,1305 473.2,1328.2 462.3,1342.5 496.4,1342.5 473.2,1348 484.1,1350.2 450,1351.4 496.4,1359.1 450,1361.3 465,1361.3" fill="none" stroke="none" marker-start="url(#mlimef74040)" marker-mid="url(#mlimef74040)" marker-end="url(#mlimef74040)"/>
<path d="M580.1 1430.3h0M577.6 1439.7h0M547.8 1425.2h0M570.9 1427.2h0M541.4 1409.4h0M536.8 1412.1h0M550.9 1461.7h0M542.3 1448.9h0M575.8 1436.9h0M571.5 1431.4h0M557.9 1429.2h0M576.6 1456.5h0M579.7 1455h0M564.8 1437h0M574.6 1401.9h0M576.8 1435.7h0M563.7 1424.8h0M546.5 1424.7h0M563 1435h0M577.9 1403.5h0M572.6 1412.2h0M560 1452.2h0M577.4 1447h0M579.9 1453.6h0M553.4 1433h0M579.6 1442.8h0M545.8 1414.1h0M533.9 1449.6h0M543.8 1431.5h0M572.5 1447.2h0M534.1 1445.3h0M556.5 1454.2h0M579.6 1442.3h0M579.6 1445.8h0M542.3 1435h0M579.4 1433.4h0M580.1 1444.1h0M556.6 1450h0M533.8 1436.1h0M533.8 1443.9h0M564.2 1448.8h0M579.6 1399.5h0M562.7 1422.1h0M534.1 1403.5h0M534 1456.7h0M569.8 1412.2h0M534.5 1413.4h0M559.4 1433.7h0M579.9 1410.3h0M567.5 1420.7h0M565.4 1454.7h0M535.3 1443.2h0M561.7 1434.4h0M559 1434.3h0M563.5 1460.3h0M571.9 1448.9h0M580.1 1422.5h0M553.4 1445.3h0M568.2 1442.9h0M545.6 1431h0M547.3 1445.7h0M533.7 1423.1h0M555.5 1450.4h0M566 1400.5h0M552.5 1436.3h0M539.4 1406.4h0M540.7 1438.3h0M579.8 1438.1h0M567.1 1443.4h0M579.8 1442.6h0M539.6 1442.5h0M564.2 1443.7h0M551.5 1432.5h0M539.6 1443.5h0M533.6 1405.5h0M579.9 1451.1h0M536.6 1435.2h0M543.8 1417.5h0M533.8 1449.5h0M534.1 1441.6h0M534 1435.1h0M579.7 1402.9h0M563 1458.6h0M579.6 1425.7h0M580.1 1436h0M533.7 1427.9h0M540.2 1440.5h0M555 1448.4h0M548.9 1436.6h0M579.9 1421.5h0M566.2 1443.4h0M556.9 1433.5h0M558.6 1439.9h0M545.7 1443.2h0M538.5 1461h0M550.3 1410.1h0M559.4 1424.2h0M575.8 1430.6h0M536.3 1445.8h0M533.7 1418.8h0M562.2 1453.6h0M533.5 1458.6h0M541.5 1413.8h0M553.8 1426.5h0M539.5 1440.5h0M565.7 1438h0M570.5 1433.5h0M580 1444h0M557.5 1448.1h0M561.1 1451.4h0M549.1 1412.9h0M543.4 1427.2h0M565.9 1441.6h0M533.8 1458.9h0M569.1 1407.3h0M579.6 1451.7h0M547.9 1455.2h0M555.7 1448.7h0M579.7 1409h0M544.9 1446.8h0M579.6 1420.7h0M560 1422.9h0M566.6 1451.4h0M550.1 1466.5h0M579.8 1448.1h0M533.6 1424.1h0M551.4 1457.9h0M566.6 1409h0M559.1 1440.9h0M534.3 1440.7h0M533.7 1455.1h0M579.6 1426.6h0M579.5 1428.2h0M538.3 1448.5h0M539.7 1429.2h0M544 1442.1h0M537.9 1444.1h0M544.2 1445.9h0M543.9 1450.6h0M537.3 1443.6h0M534 1440.1h0M577.4 1418h0M550 1453.6h0M579.6 1437.7h0M571.3 1449.1h0M555.3 1447.5h0M555.5 1427.2h0M566.3 1405.9h0M578.9 1410.4h0M547.7 1446.2h0M562.6 1443h0M579.6 1442.1h0M569.5 1438h0M540.9 1459.4h0M543.6 1446.5h0M579.6 1436h0M547.1 1422.5h0M551.1 1429.5h0M562.2 1458.9h0M533.6 1443.8h0M533.8 1441.3h0M547.5 1446.1h0M565.9 1447.6h0M580.1 1439.5h0M579.8 1450.9h0M533.5 1423.2h0M579.6 1406h0M566.9 1443h0M574.9 1435.3h0M579.8 1442.1h0M540.7 1404.7h0M571.8 1423.3h0M562.7 1444.3h0M555.5 1443h0M535.3 1405.2h0M555.8 1434.1h0M567.2 1437.8h0M537.9 1454.7h0M573.9 1445.5h0M548.9 1454.2h0M541.4 1425.2h0M577.1 1428.9h0M572.8 1423.4h0M575.4 1459.3h0M579.7 1406.1h0M533.9 1402.4h0M571 1402.7h0M573.9 1447.2h0M579.1 1440h0M534 1407.4h0M567.9 1432h0M567.1 1421h0M533.8 1443.4h0M533.7 1438.7h0M570.1 1426h0M579.7 1432.2h0M548.5 1453.3h0M580.1 1450h0M562.7 1455.7h0M549.3 1399.4h0M537.4 1467.1h0M541 1451.6h0M557.9 1455.3h0M562.4 1424.1h0M549.1 1431.5h0M533.7 1442.8h0M579.9 1415.1h0M534.1 1422.6h0M554.1 1456.2h0M533.5 1442.5h0M564.8 1407.6h0M562.1 1437h0M547.8 1449.4h0M565 1404.2h0M559.4 1431.7h0M576.1 1417.1h0M533.9 1439.3h0M554.5 1451.1h0M564.5 1459.1h0M579.9 1458.6h0M571.2 1427h0M544.9 1419.8h0M551 1451.6h0M533.8 1433.9h0M545.5 1431.6h0M565.4 1443h0M541 1455.8h0M563 1451h0M579.7 1449.4h0M533.7 1437h0M533.8 1442.7h0M562.2 1426.1h0M533.7 1427.6h0M558.1 1447.9h0M554.1 1431.3h0M561.6 1409.2h0M533.9 1445.7h0M541.2 1437.2h0M580 1450.9h0M576.8 1443.6h0M533.6 1451.2h0M533.6 1431.8h0M542.6 1459.3h0M558.9 1419.3h0M561.5 1448.3h0M579.5 1418.6h0M579.6 1467.4h0M533.5 1472.4h0M559.1 1471.1h0M580.1 1472.2h0M556.8 1320.4h0M556.8 1335.9h0M556.8 1349.1h0M580 1362.4h0M533.6 1366.8h0M548.6 1367.9h0M565 1370.1h0M547.3 1373.4h0M566.3 1377.8h0M533.6 1384.5h0M580 1384.5h0M556.8 1386.7h0M556.8 1392.2h0M580 1392.2h0" stroke="#0fee1c" stroke-width="10.3" stroke-linecap="round" fill="none"/>
<path d="M110 1397.9L166.4 1397.9" stroke="#000" stroke-width="5"/>
<path d="M193.3 1422L249.7 1422" stroke="#000" stroke-width="5"/>
<path d="M277.5 1429.1L333.9 1429.1" stroke="#000" stroke-width="5"/>
<path d="M361.1 1425.7L417.5 1425.7" stroke="#000" stroke-width="5"/>
<path d="M445 1429.7L501.4 1429.7" stroke="#000" stroke-width="5"/>
<path d="M528.6 1437.5L585 1437.5" stroke="#000" stroke-width="5"/>
<path d="M82 1141.6L82 1477.5" stroke="#000" stroke-width="5.3"/>
<path d="M66.8 1475L616 1475" stroke="#000" stroke-width="5"/>
<text x="63.3" y="1483.3" font-size="25.3" text-anchor="end">0</text>
<path d="M66.8 1364.6L82 1364.6" stroke="#000" stroke-width="4.2"/>
<text x="63.3" y="1372.9" font-size="25.3" text-anchor="end">1</text>
<path d="M66.8 1254.2L82 1254.2" stroke="#000" stroke-width="4.2"/>
<text x="63.3" y="1262.5" font-size="25.3" text-anchor="end">2</text>
<path d="M66.8 1143.8L82 1143.8" stroke="#000" stroke-width="4.2"/>
<text x="63.3" y="1152.1" font-size="25.3" text-anchor="end">3</text>
<text transform="translate(31.5 1295.5) rotate(-90) scale(0.95 1)" font-size="33.6" font-weight="bold" text-anchor="middle"><tspan fill="#aa00dc">IdU</tspan>/<tspan fill="#00c000">CldU</tspan></text>
<text x="257" y="1016.4" font-size="15.5" text-anchor="middle" font-family="DejaVu Sans" font-weight="bold" letter-spacing="0.2">∗∗∗∗</text>
<path d="M138 1041V1030H389V1041" fill="none" stroke="#000" stroke-width="3"/>
<text x="175" y="1060.4" font-size="15.5" text-anchor="middle" font-family="DejaVu Sans" font-weight="bold" letter-spacing="0.2">∗∗∗∗</text>
<path d="M138 1086V1075H226V1086" fill="none" stroke="#000" stroke-width="3"/>
<text x="262" y="1105" font-size="22.5" text-anchor="middle">n.s.</text>
<path d="M222.5 1123.5V1112.5H304V1123.5" fill="none" stroke="#000" stroke-width="3"/>
<text x="430" y="1105" font-size="22.5" text-anchor="middle">n.s.</text>
<path d="M389 1123.5V1112.5H473.5V1123.5" fill="none" stroke="#000" stroke-width="3"/>
<text x="138" y="1153.5" font-size="27.5" text-anchor="middle">0.74</text>
<text x="215" y="1153.5" font-size="27.5" text-anchor="middle">0.55</text>
<text x="303.5" y="1153.5" font-size="27.5" text-anchor="middle">0.52</text>
<text x="389.5" y="1153.5" font-size="27.5" text-anchor="middle">0.50</text>
<text x="473" y="1153.5" font-size="27.5" text-anchor="middle">0.50</text>
<text x="557.5" y="1153.5" font-size="27.5" text-anchor="middle">0.39</text>
<text x="21.2" y="1518.6" font-size="24"><tspan fill="#00b480">GFP</tspan>-<tspan fill="#5757f7">8</tspan></text>
<text x="21.2" y="1545.7" font-size="24"><tspan fill="#00b480">GFP</tspan>-<tspan fill="#f74040">9</tspan></text>
<text x="21.2" y="1571.6" font-size="24"><tspan fill="#00b480">GFP</tspan>-ø</text>
<text x="141" y="1520" font-size="32.5" text-anchor="middle" stroke="#000" stroke-width="0.8">−</text>
<text x="225" y="1520" font-size="32.5" text-anchor="middle" stroke="#000" stroke-width="0.8">−</text>
<text x="308" y="1519.1" font-size="30" text-anchor="middle" stroke="#000" stroke-width="0.8">+</text>
<text x="392" y="1520" font-size="32.5" text-anchor="middle" stroke="#000" stroke-width="0.8">−</text>
<text x="475" y="1520" font-size="32.5" text-anchor="middle" stroke="#000" stroke-width="0.8">−</text>
<text x="558" y="1520" font-size="32.5" text-anchor="middle" stroke="#000" stroke-width="0.8">−</text>
<text x="141" y="1547.4" font-size="32.5" text-anchor="middle" stroke="#000" stroke-width="0.8">−</text>
<text x="225" y="1547.4" font-size="32.5" text-anchor="middle" stroke="#000" stroke-width="0.8">−</text>
<text x="308" y="1547.4" font-size="32.5" text-anchor="middle" stroke="#000" stroke-width="0.8">−</text>
<text x="392" y="1547.4" font-size="32.5" text-anchor="middle" stroke="#000" stroke-width="0.8">−</text>
<text x="475" y="1546.5" font-size="30" text-anchor="middle" stroke="#000" stroke-width="0.8">+</text>
<text x="558" y="1547.4" font-size="32.5" text-anchor="middle" stroke="#000" stroke-width="0.8">−</text>
<text x="141" y="1574.8" font-size="32.5" text-anchor="middle" stroke="#000" stroke-width="0.8">−</text>
<text x="225" y="1574.8" font-size="32.5" text-anchor="middle" stroke="#000" stroke-width="0.8">−</text>
<text x="308" y="1574.8" font-size="32.5" text-anchor="middle" stroke="#000" stroke-width="0.8">−</text>
<text x="392" y="1574.8" font-size="32.5" text-anchor="middle" stroke="#000" stroke-width="0.8">−</text>
<text x="475" y="1574.8" font-size="32.5" text-anchor="middle" stroke="#000" stroke-width="0.8">−</text>
<text x="558" y="1573.9" font-size="30" text-anchor="middle" stroke="#000" stroke-width="0.8">+</text>
<path d="M105.4 1582.5L173 1582.5" stroke="#000" stroke-width="1.9"/>
<path d="M195 1582.5L334.7 1582.5" stroke="#000" stroke-width="1.9"/>
<path d="M358.7 1582.5L589 1582.5" stroke="#000" stroke-width="1.9"/>
<text x="138" y="1612" font-size="25.5" text-anchor="middle">WT</text>
<text x="260" y="1612" font-size="24" fill="#5757f7">8<tspan font-size="13.9" dy="-8.6">KO</tspan></text>
<text x="481" y="1612" font-size="24" fill="#f74040">9<tspan font-size="13.9" dy="-8.6">KO</tspan></text>
<svg x="621.5" y="1183.6" width="239.3" height="49.8" style="isolation:isolate">
<rect width="239.3" height="49.8" fill="#173d17"/>
<path d="M8 29.9L25 28.9" stroke="#0cff1a" stroke-width="5.8" class="fs" opacity="0.6" filter="url(#fb6)"/>
<path d="M8 29.9L25 28.9" stroke="#0cff1a" stroke-width="4.6" class="fs" stroke-dasharray="11 5" filter="url(#fb3)"/>
<path d="M32 28.9L50 28.9L90 25.9L118 27.9" stroke="#0cff1a" stroke-width="6.9" class="fs" opacity="0.6" filter="url(#fb6)"/>
<path d="M32 28.9L50 28.9L90 25.9L118 27.9" stroke="#0cff1a" stroke-width="5.2" class="fs" stroke-dasharray="12.2 5.5" filter="url(#fb3)"/>
<path d="M62 28.9L100 26.9" stroke="#8dff9a" stroke-width="2.9" class="fs" opacity="0.6" filter="url(#fb5)"/>
<path d="M62 28.9L100 26.9" stroke="#8dff9a" stroke-width="3.1" class="fs" filter="url(#fb2)"/>
<path d="M121 28.9L145 28.9" stroke="#fff" stroke-width="6" class="fs" opacity="0.95" filter="url(#fb3)"/>
<path d="M150 29.9L175 32.9" stroke="#de2ade" stroke-width="6.9" class="fs" opacity="0.6" filter="url(#fb6)"/>
<path d="M150 29.9L175 32.9" stroke="#de2ade" stroke-width="5.2" class="fs" stroke-dasharray="12.2 5.5" filter="url(#fb3)"/>
<path d="M153 29.9L175 32.9" stroke="#fff" stroke-width="4" class="fs" opacity="0.95" filter="url(#fb2)"/>
<path d="M187 29.9L205 29.9" stroke="#de2ade" stroke-width="6.9" class="fs" opacity="0.6" filter="url(#fb6)"/>
<path d="M187 29.9L205 29.9" stroke="#de2ade" stroke-width="5.2" class="fs" stroke-dasharray="12.2 5.5" filter="url(#fb3)"/>
<path d="M199 29.9L206 29.9" stroke="#fff" stroke-width="4" class="fs" opacity="0.95" filter="url(#fb2)"/>
<path d="M3 45.8L4 45.8" stroke="#0cff1a" stroke-width="4.6" class="fs" opacity="0.6" filter="url(#fb5)"/>
<path d="M3 45.8L4 45.8" stroke="#0cff1a" stroke-width="4" class="fs" stroke-dasharray="9.8 4.5" filter="url(#fb3)"/>
<path d="M136 43.8L136 44.8" stroke="#0cff1a" stroke-width="3.4" class="fs" opacity="0.6" filter="url(#fb5)"/>
<path d="M136 43.8L136 44.8" stroke="#0cff1a" stroke-width="3.4" class="fs" stroke-dasharray="8.6 4" filter="url(#fb2)"/>
<path d="M212 39.8L212 40.8" stroke="#0cff1a" stroke-width="3.4" class="fs" opacity="0.6" filter="url(#fb5)"/>
<path d="M212 39.8L212 40.8" stroke="#0cff1a" stroke-width="3.4" class="fs" stroke-dasharray="8.6 4" filter="url(#fb2)"/>
</svg>
<svg x="621.5" y="1238.6" width="239.3" height="50" style="isolation:isolate">
<rect width="239.3" height="50" fill="#0c080c"/>
<path d="M15 25L40 22L75 22L95 27L115 25" stroke="#0cff1a" stroke-width="12.6" class="fs" opacity="0.6" filter="url(#fb7)"/>
<path d="M15 25L40 22L75 22L95 27L115 25" stroke="#0cff1a" stroke-width="8.2" class="fs" stroke-dasharray="18.2 8" filter="url(#fb5)"/>
<path d="M125 25L135 25" stroke="#0cff1a" stroke-width="6.9" class="fs" opacity="0.6" filter="url(#fb6)"/>
<path d="M125 25L135 25" stroke="#0cff1a" stroke-width="5.2" class="fs" stroke-dasharray="12.2 5.5" filter="url(#fb3)"/>
<path d="M128 14L140 22" stroke="#de2ade" stroke-width="9.2" class="fs" opacity="0.6" filter="url(#fb7)"/>
<path d="M128 14L140 22" stroke="#de2ade" stroke-width="6.4" class="fs" stroke-dasharray="14.6 6.5" filter="url(#fb4)"/>
<path d="M142 26L160 28L180 28" stroke="#de2ade" stroke-width="18.4" class="fs" opacity="0.6" filter="url(#fb8)"/>
<path d="M142 26L160 28L180 28" stroke="#de2ade" stroke-width="11.2" class="fs" filter="url(#fb7)"/>
</svg>
<svg x="621.5" y="1293.6" width="239.3" height="50.4" style="isolation:isolate">
<rect width="239.3" height="50.4" fill="#070307"/>
<path d="M20 4L30 6" stroke="#de2ade" stroke-width="11.5" class="fs" opacity="0.6" filter="url(#fb7)"/>
<path d="M20 4L30 6" stroke="#de2ade" stroke-width="7.6" class="fs" stroke-dasharray="17 7.5" filter="url(#fb5)"/>
<path d="M26 10.1L27 14.1" stroke="#de2ade" stroke-width="6.9" class="fs" opacity="0.6" filter="url(#fb6)"/>
<path d="M26 10.1L27 14.1" stroke="#de2ade" stroke-width="5.2" class="fs" stroke-dasharray="12.2 5.5" filter="url(#fb3)"/>
<path d="M15 22.2L60 24.2L120 21.2" stroke="#0aa614" stroke-width="12.6" class="fs" opacity="0.6" filter="url(#fb7)"/>
<path d="M15 22.2L60 24.2L120 21.2" stroke="#0aa614" stroke-width="8.2" class="fs" stroke-dasharray="18.2 8" filter="url(#fb5)"/>
<path d="M132 22.2L165 20.2" stroke="#de2ade" stroke-width="20.7" class="fs" opacity="0.6" filter="url(#fb8)"/>
<path d="M132 22.2L165 20.2" stroke="#de2ade" stroke-width="12.4" class="fs" filter="url(#fb7)"/>
<path d="M150 20.2L160 20.2" stroke="#d868dc" stroke-width="9.2" class="fs" opacity="0.6" filter="url(#fb7)"/>
<path d="M150 20.2L160 20.2" stroke="#d868dc" stroke-width="6.4" class="fs" stroke-dasharray="14.6 6.5" filter="url(#fb4)"/>
</svg>
<svg x="621.5" y="1349" width="239.3" height="49.6" style="isolation:isolate">
<rect width="239.3" height="49.6" fill="#0a060a"/>
<path d="M20 27.8L48 21.8L85 26.8L108 28.8" stroke="#0cff1a" stroke-width="12.6" class="fs" opacity="0.6" filter="url(#fb7)"/>
<path d="M20 27.8L48 21.8L85 26.8L108 28.8" stroke="#0cff1a" stroke-width="8.2" class="fs" stroke-dasharray="18.2 8" filter="url(#fb5)"/>
<path d="M114 29.8L135 29.8L158 29.8" stroke="#de2ade" stroke-width="17.2" class="fs" opacity="0.6" filter="url(#fb8)"/>
<path d="M114 29.8L135 29.8L158 29.8" stroke="#de2ade" stroke-width="10.6" class="fs" filter="url(#fb7)"/>
</svg>
<svg x="621.5" y="1404" width="239.3" height="49.6" style="isolation:isolate">
<rect width="239.3" height="49.6" fill="#060a06"/>
<path d="M18 24.8L40 26.8" stroke="#0cff1a" stroke-width="19.5" class="fs" opacity="0.6" filter="url(#fb8)"/>
<path d="M18 24.8L40 26.8" stroke="#0cff1a" stroke-width="11.8" class="fs" filter="url(#fb7)"/>
<path d="M40 26.8L70 29.8L90 29.8L108 25.8" stroke="#0cff1a" stroke-width="14.9" class="fs" opacity="0.6" filter="url(#fb8)"/>
<path d="M40 26.8L70 29.8L90 29.8L108 25.8" stroke="#0cff1a" stroke-width="9.4" class="fs" filter="url(#fb6)"/>
<path d="M90 30.8L96 31.7" stroke="#fff" stroke-width="12.2" class="fs" opacity="0.55" filter="url(#fb6)"/>
<path d="M120 23.8L135 24.8L155 21.8" stroke="#de2ade" stroke-width="20.7" class="fs" opacity="0.6" filter="url(#fb8)"/>
<path d="M120 23.8L135 24.8L155 21.8" stroke="#de2ade" stroke-width="12.4" class="fs" filter="url(#fb7)"/>
<path d="M128 23.8L132 23.8" stroke="#fff" stroke-width="8" class="fs" opacity="0.55" filter="url(#fb5)"/>
<path d="M199 25.8L201 26.8" stroke="#0aa614" stroke-width="5.8" class="fs" opacity="0.6" filter="url(#fb6)"/>
<path d="M199 25.8L201 26.8" stroke="#0aa614" stroke-width="4.6" class="fs" stroke-dasharray="11 5" filter="url(#fb3)"/>
</svg>
<svg x="621.5" y="1459" width="239.3" height="50" style="isolation:isolate">
<rect width="239.3" height="50" fill="#030603"/>
<path d="M10 22L30 24L50 29L80 32L100 28L118 27" stroke="#0cff1a" stroke-width="6.9" class="fs" opacity="0.6" filter="url(#fb6)"/>
<path d="M10 22L30 24L50 29L80 32L100 28L118 27" stroke="#0cff1a" stroke-width="5.2" class="fs" stroke-dasharray="12.2 5.5" filter="url(#fb3)"/>
<path d="M124 28L140 27L158 27" stroke="#de2ade" stroke-width="13.8" class="fs" opacity="0.6" filter="url(#fb8)"/>
<path d="M124 28L140 27L158 27" stroke="#de2ade" stroke-width="8.8" class="fs" filter="url(#fb6)"/>
</svg>
<text transform="translate(891.8 1178.5) rotate(-90)" font-size="24.5">MCM8</text>
<text transform="translate(926.8 1178.5) rotate(-90)" font-size="24.5">MCM9</text>
<text transform="translate(961.5 1178.5) rotate(-90)" font-size="24.5">GFP</text>
<text x="882.9" y="1219" font-size="32.5" text-anchor="middle" stroke="#000" stroke-width="0.8">−</text>
<text x="917.8" y="1219" font-size="32.5" text-anchor="middle" stroke="#000" stroke-width="0.8">−</text>
<text x="953.8" y="1219" font-size="32.5" text-anchor="middle" stroke="#000" stroke-width="0.8">−</text>
<text x="882.9" y="1274" font-size="32.5" text-anchor="middle" stroke="#000" stroke-width="0.8">−</text>
<text x="917.8" y="1274" font-size="32.5" text-anchor="middle" stroke="#000" stroke-width="0.8">−</text>
<text x="953.8" y="1274" font-size="32.5" text-anchor="middle" stroke="#000" stroke-width="0.8">−</text>
<text x="882.9" y="1326.1" font-size="30" text-anchor="middle" stroke="#000" stroke-width="0.8">+</text>
<text x="917.8" y="1328" font-size="32.5" text-anchor="middle" stroke="#000" stroke-width="0.8">−</text>
<text x="953.8" y="1328" font-size="32.5" text-anchor="middle" stroke="#000" stroke-width="0.8">−</text>
<text x="882.9" y="1382.5" font-size="32.5" text-anchor="middle" stroke="#000" stroke-width="0.8">−</text>
<text x="917.8" y="1382.5" font-size="32.5" text-anchor="middle" stroke="#000" stroke-width="0.8">−</text>
<text x="953.8" y="1382.5" font-size="32.5" text-anchor="middle" stroke="#000" stroke-width="0.8">−</text>
<text x="882.9" y="1438.7" font-size="32.5" text-anchor="middle" stroke="#000" stroke-width="0.8">−</text>
<text x="917.8" y="1436.8" font-size="30" text-anchor="middle" stroke="#000" stroke-width="0.8">+</text>
<text x="953.8" y="1438.7" font-size="32.5" text-anchor="middle" stroke="#000" stroke-width="0.8">−</text>
<text x="882.9" y="1493.8" font-size="32.5" text-anchor="middle" stroke="#000" stroke-width="0.8">−</text>
<text x="917.8" y="1493.8" font-size="32.5" text-anchor="middle" stroke="#000" stroke-width="0.8">−</text>
<text x="953.8" y="1491.9" font-size="30" text-anchor="middle" stroke="#000" stroke-width="0.8">+</text>
<path d="M978.8 1185.5L978.8 1231.3" stroke="#000" stroke-width="2.2"/>
<path d="M978.8 1239L978.8 1342.3" stroke="#000" stroke-width="2.2"/>
<path d="M978.8 1349L978.8 1503.3" stroke="#000" stroke-width="2.2"/>
<text x="984" y="1212.7" font-size="24">WT</text>
<text x="986" y="1302.5" font-size="24" fill="#5757f7">8<tspan font-size="13.9" dy="-8.6">KO</tspan></text>
<text x="986" y="1437.5" font-size="24" fill="#f74040">9<tspan font-size="13.9" dy="-8.6">KO</tspan></text>
<text x="1026" y="771" font-size="40" font-weight="bold">d</text>
<rect x="1080.2" y="845.8" width="76.8" height="25.4" fill="#808080"/>
<rect x="1159" y="845.8" width="76.5" height="25.4" fill="#808080"/>
<rect x="1237" y="845.8" width="158.6" height="25.4" fill="#3cb44b"/>
<rect x="1399" y="845.8" width="158.7" height="25.4" fill="#92278f"/>
<rect x="1561" y="845.8" width="356.6" height="25.4" fill="#fe0000"/>
<text x="1159" y="842.8" font-size="27.6" text-anchor="middle" fill="#808080">siMUS81</text>
<text x="1314.8" y="842.8" font-size="27.6" text-anchor="middle" fill="#3cb44b">CldU</text>
<text x="1478.9" y="842.8" font-size="27.6" text-anchor="middle" fill="#92278f">IdU</text>
<text x="1733.5" y="842.8" font-size="27.6" text-anchor="middle" fill="#fe0000">HU</text>
<text x="1121" y="891.8" font-size="25" text-anchor="middle">24 hrs</text>
<text x="1198" y="891.8" font-size="25" text-anchor="middle">24 hrs</text>
<text x="1314.8" y="891.8" font-size="25" text-anchor="middle">30 min</text>
<text x="1478.9" y="891.8" font-size="25" text-anchor="middle">30 min</text>
<text x="1733.5" y="891.8" font-size="25" text-anchor="middle">4 hrs</text>
<polyline points="1193.5,1400.3 1189.1,1448.7 1200.1,1373.7 1188.9,1365.7 1186.7,1408.4 1200.9,1415.6 1208.4,1433.8 1165.6,1361 1161.4,1397.6 1177,1395.5 1161.7,1381 1207.7,1440 1208.2,1430.6 1186.3,1455.2 1206.6,1400 1208.2,1399.5 1208.1,1432.7 1189.1,1409.4 1177.4,1406.1 1202.3,1445.7 1170.9,1394.3 1208.2,1416.3 1191.1,1383.9 1161.6,1414.1 1161.5,1358.5 1207.9,1443.8 1190.5,1413.8 1176.7,1422.1 1202.6,1435.7 1178.4,1415.6 1200,1430.4 1208.2,1443.8 1198.6,1412.5 1180.3,1438.8 1197.1,1389.5 1208.3,1363.1 1176.4,1362.8 1162,1460.1 1195.6,1412.5 1161.6,1372.7 1191.9,1379.9 1199.4,1407.5 1188.7,1442.7 1207.9,1386.8 1196.7,1331.2 1201.3,1430.8 1161.5,1422.7 1173.9,1412.8 1188.3,1375.9 1194.8,1423.5 1166.1,1356.1 1194.9,1380.8 1186.9,1373.5 1201.7,1387.1 1176.1,1400.5 1208.2,1431.3 1190.4,1372.5 1184.1,1440.6 1207.9,1351.1 1207.9,1392.3 1173.4,1451.4 1204.5,1378.9 1161.6,1420.4 1164.1,1403.7 1208.3,1377.3 1195.3,1390.5 1198.1,1422.8 1162,1439.6 1166.2,1445.4 1208.2,1352.9 1202.2,1385.4 1196.6,1348.3 1207.9,1399.6 1208.3,1360.4 1190,1364.8 1189.7,1447.8 1186,1464.7 1166.8,1375.1 1180,1397.9 1203.2,1398.2 1161.7,1429.5 1161.5,1430.9 1208.3,1382.6 1170.3,1356.6 1181.8,1420.7 1161.8,1381.1 1167.4,1367.9 1196.3,1400.3 1193.7,1371.4 1204.7,1358.6 1201.2,1397.4 1181.1,1406.9 1167.9,1399 1164,1434.3 1177.6,1398.6 1208.2,1359.5 1202.9,1464.7 1183.5,1409.4 1205.2,1419.2 1207.8,1424.1 1162.3,1405.9 1185.7,1399.9 1161.8,1351.6 1188.6,1395.2 1192.1,1355.6 1167.3,1405.4 1190.3,1438.1 1208,1399.4 1162.4,1388 1180.1,1374.7 1201.7,1405.8 1186.9,1403.5 1173.3,1427 1205.3,1408 1207.8,1439.5 1186.7,1414.8 1204.2,1370.5 1180,1375.5 1161.5,1453.5 1180.3,1370.4 1189.3,1374.5 1189.9,1413.2 1192.7,1434.2 1190.9,1438.6 1162.7,1369.5 1170.7,1330.6 1208.1,1402.4 1170.7,1431.5 1193.3,1430.3 1174,1425.8 1164.8,1396.5 1191.2,1362.3 1208.2,1401.3 1161.7,1335.4 1182,1331 1204.8,1366.8 1208.4,1407 1177.8,1426.3 1208.1,1416.4 1197.7,1444.3 1178.2,1398.8 1161.6,1367.2 1208,1410.3 1173.7,1420.9 1179.4,1402.1 1196.8,1392.2 1208.3,1419.4 1207.9,1414.2 1176.6,1345.9 1164.5,1366.1 1184.8,1398.3 1208.4,1462.3 1164.3,1442 1169.1,1412.4 1189.8,1457.8 1166.1,1411.3 1174.1,1423.4 1208.2,1411.1 1191.1,1422 1170.3,1418.7 1197.3,1355.2 1208.4,1349.2 1197.3,1371.9 1161.8,1333.3 1194.4,1443.1 1206.9,1422.4 1161.5,1411.7 1182.4,1395.4 1208.2,1356.5 1203.1,1372.5 1205.9,1388 1185.5,1419.1 1161.6,1330.9 1161.4,1432.5 1177.5,1382.6 1207.9,1358.7 1175.7,1392.1 1167.4,1468.3 1168.6,1421.8 1204.9,1350.9 1207.8,1415.5 1201.3,1357.5 1164,1397.8 1208.1,1382 1164.7,1424.9 1185.3,1431.8 1183.4,1408.9 1167.3,1434.9 1207.9,1391.1 1200.1,1406.4 1173.6,1364.6 1181.1,1385.8 1196.2,1445.8 1208.1,1437.7 1171.3,1395.3 1194,1333.4 1196,1438.7 1207.9,1426.1 1186,1351.7 1188.3,1437.3 1174.6,1428.8 1208.3,1437.4 1208.2,1402.3 1206.9,1422.8 1178.1,1426.9 1161.4,1383.9 1170.7,1398.4 1174.6,1382.5 1165.3,1377.8 1185.7,1449.5 1165.7,1390.6 1161.7,1416.9 1187.3,1434.5 1175.6,1453.1 1161.5,1425.2 1202.6,1408.2 1185.6,1413.8 1161.9,1383.5 1204.2,1350.9 1186.4,1391.5 1208,1333.7 1192.6,1423.4 1201.2,1381.3 1169.5,1365.5 1199.3,1421.8 1196.4,1438.8 1208.4,1394.6 1172.6,1393.9 1200.3,1343.4 1172.3,1397.4 1164.8,1332.6 1161.7,1404.2 1162.3,1437.4 1194.9,1428.3 1208,1384.6 1208.1,1411.7 1208,1398.1 1172.6,1463.9 1163.2,1415.4 1193.9,1395.6 1190.2,1363 1167.3,1410.1 1174.8,1452.7 1161.7,1438.6 1169.1,1366.3 1185.1,1353.7 1182.3,1448.6 1161.4,1467.3 1187.2,1465.5 1208.4,1467.2 1184.9,1264.6 1184.9,1288.6 1184.9,1296.9 1208.3,1299.4 1161.5,1302.7 1190.4,1319.2 1179.4,1321.7 1200,1323.4 1169.8,1325.9 1161.5,1327.5 1208.3,1327.5" fill="none" stroke="none" marker-start="url(#mopen808080)" marker-mid="url(#mopen808080)" marker-end="url(#mopen808080)"/>
<path d="M1273.4 1440.3h0M1245.5 1444.3h0M1278.3 1384.6h0M1245.3 1372h0M1255.9 1394.8h0M1245.8 1412.8h0M1287.2 1406.8h0M1292.2 1375.4h0M1245.5 1439.4h0M1262.8 1432.4h0M1284.9 1430.4h0M1262.6 1412.8h0M1268.9 1386.5h0M1275.3 1423.8h0M1257.9 1399.6h0M1253.9 1409.6h0M1267 1392.8h0M1245.4 1375.6h0M1259.1 1382.7h0M1260.4 1369.8h0M1291.7 1420.1h0M1292.1 1393.5h0M1261.5 1386.9h0M1279.6 1382.4h0M1268.4 1424h0M1273.6 1431.6h0M1286 1448.1h0M1282.1 1391.2h0M1245.8 1404h0M1256.4 1371.3h0M1286.6 1402h0M1252.5 1441.3h0M1279.6 1405.1h0M1245.4 1374.8h0M1263.4 1398h0M1283.1 1450h0M1291.7 1446.5h0M1291.9 1398.8h0M1292.2 1425.1h0M1281 1405.1h0M1254.2 1383.3h0M1249.8 1402h0M1276.8 1382.7h0M1288.2 1409.2h0M1245.6 1375.4h0M1261.6 1395.6h0M1292.3 1402.3h0M1291.8 1433.6h0M1245.4 1378.5h0M1292.3 1408.3h0M1258.5 1413.6h0M1286.5 1390.3h0M1269.7 1406.2h0M1269.7 1424.2h0M1279.5 1427.9h0M1290.8 1437.8h0M1288.6 1394.1h0M1266.5 1399.5h0M1291.9 1427.4h0M1250.1 1372.1h0M1273.9 1404.2h0M1245.6 1430.7h0M1249.1 1382.7h0M1274 1424.6h0M1261 1418.3h0M1264.9 1395.6h0M1245.6 1396.5h0M1268.6 1430.2h0M1292.1 1406.3h0M1245.8 1388.3h0M1286.8 1431.9h0M1273.1 1384.7h0M1291.9 1432h0M1272.7 1408.9h0M1245.8 1399.8h0M1291.8 1431.7h0M1258 1419.1h0M1291.8 1407.8h0M1292.3 1421.5h0M1286.9 1427.3h0M1279.8 1403.1h0M1245.7 1372.7h0M1289.1 1403.1h0M1249.6 1377.2h0M1281.5 1385.6h0M1292 1393.7h0M1278 1376.4h0M1252.7 1370.7h0M1272.9 1402.7h0M1258.8 1421.4h0M1245.9 1391.2h0M1262.6 1398.9h0M1277.9 1422.5h0M1275.2 1374.6h0M1245.3 1378.5h0M1245.9 1415.3h0M1245.6 1399.3h0M1260.2 1411h0M1281.5 1413.6h0M1283.3 1391h0M1292 1439.2h0M1286.4 1413.8h0M1284.5 1424.4h0M1257.6 1432.8h0M1291.7 1397.9h0M1284.9 1425.9h0M1245.4 1440.8h0M1272.4 1433h0M1279.2 1430.4h0M1266.9 1422.3h0M1292.2 1391.9h0M1266.2 1403.5h0M1280.3 1396.6h0M1258 1435.8h0M1267.6 1433.6h0M1253.1 1386.9h0M1291.8 1371.3h0M1288 1437.6h0M1272.2 1447.2h0M1292.2 1435.9h0M1245.5 1388.4h0M1291.6 1423h0M1270.8 1422h0M1274.2 1408.2h0M1263.6 1406.4h0M1268.9 1380.2h0M1249.4 1438.1h0M1285.4 1375.8h0M1271.7 1397.9h0M1291.8 1447.3h0M1292 1411.8h0M1269.7 1379.2h0M1264.4 1412.8h0M1268.4 1441.4h0M1272.2 1424.2h0M1273.3 1406.1h0M1286.6 1418.3h0M1290.8 1405.5h0M1268.2 1422.5h0M1287.1 1394h0M1266.1 1436.4h0M1245.5 1410.4h0M1245.3 1382.7h0M1263.6 1446.3h0M1291.9 1425.2h0M1291.5 1423.7h0M1292 1369.7h0M1269.6 1398.2h0M1245.4 1419.4h0M1283 1404.5h0M1271.4 1423.4h0M1266.3 1433.8h0M1279.2 1374.9h0M1246.1 1409.1h0M1259 1410.3h0M1292.1 1423.7h0M1245.4 1367.9h0M1287.7 1381.7h0M1276.9 1396.2h0M1245.9 1374.1h0M1245.4 1437.4h0M1280.3 1427.2h0M1291.9 1410.7h0M1245.6 1403.5h0M1282.9 1372.9h0M1285.4 1417.6h0M1270.6 1379.2h0M1283.2 1423.8h0M1277.8 1393.4h0M1253.1 1401.9h0M1261.2 1389.3h0M1284 1387h0M1270.7 1425.4h0M1276.6 1414.8h0M1258 1441h0M1266.1 1394.4h0M1245.8 1397.8h0M1268 1437.5h0M1245.5 1393.5h0M1292.3 1428.2h0M1266.8 1415.9h0M1258.8 1402.9h0M1292 1400.6h0M1292.1 1426.6h0M1269.1 1423.2h0M1253.8 1409.1h0M1245.9 1416.9h0M1250.3 1417.9h0M1285.4 1380h0M1246.6 1430.5h0M1245.9 1440h0M1245.5 1415.4h0M1258 1403.7h0M1275.2 1432h0M1278 1380.7h0M1273.4 1424.3h0M1264.2 1401h0M1262.4 1388.2h0M1288.3 1419.6h0M1254.7 1414.2h0M1288.9 1436.3h0M1292.3 1450h0M1268.7 1393h0M1258 1370.9h0M1291.4 1376.1h0M1258.6 1414.3h0M1285 1414.6h0M1292.1 1406.5h0M1245.7 1422.6h0M1247.6 1448.2h0M1286.2 1397.5h0M1246.4 1435.8h0M1275.6 1377.3h0M1253.5 1408.3h0M1270.8 1396.1h0M1292 1432.3h0M1283.5 1402h0M1277.1 1394.6h0M1245.8 1398.8h0M1286.1 1434.7h0M1291.9 1392.8h0M1292.1 1373.5h0M1269.5 1381.5h0M1279.5 1440.2h0M1245.5 1396.2h0M1252.7 1381.2h0M1258.2 1417.6h0M1274.8 1403.5h0M1286.4 1405.8h0M1267.3 1429.9h0M1276.2 1421.9h0M1267.2 1423.9h0M1276.9 1422.6h0M1245.7 1437.1h0M1257.2 1380.2h0M1280.4 1386.1h0M1291.9 1434.3h0M1285.7 1432.6h0M1282.2 1431.4h0M1274.9 1385.8h0M1272.4 1429h0M1268.8 1385.4h0M1259.7 1380.7h0M1246.8 1392.8h0M1249.8 1439.4h0M1252.3 1391.9h0M1258.6 1391.4h0M1260.6 1395.2h0M1284.7 1402.2h0M1257.5 1380.9h0M1283.5 1401h0M1270.2 1422h0M1245.4 1429h0M1273.5 1368.4h0M1292 1444.1h0M1287.2 1412.2h0M1245.9 1384h0M1284.7 1382.4h0M1292.3 1373.8h0M1258.2 1395.8h0M1284.7 1431.6h0M1273.7 1388.2h0M1281.2 1420.2h0M1285.3 1421.5h0M1288.5 1381.3h0M1252.1 1417.3h0M1278.3 1428.2h0M1271.7 1420.7h0M1253.7 1382.4h0M1249.4 1422.7h0M1250.5 1424.3h0M1254 1399.7h0M1247.2 1381.8h0M1245.3 1448.3h0M1271.1 1447.8h0M1292.3 1450.1h0M1259.2 1460.1h0M1279.8 1454.3h0M1268.8 1179.2h0M1268.8 1233.1h0M1279.8 1266.2h0M1257.8 1272h0M1257.8 1286.9h0M1279.8 1292.7h0M1268.8 1294.4h0M1252.3 1295.2h0M1285.3 1296.9h0M1245.4 1301h0M1292.2 1302.7h0M1277 1305.2h0M1279.8 1319.2h0M1268.8 1327.5h0M1279.8 1330h0M1257.8 1335.8h0M1245.4 1340.8h0M1277 1344.9h0M1292.2 1346.6h0M1282.5 1350.7h0M1245.4 1352.4h0M1263.3 1354.9h0M1274.3 1356.5h0M1292.2 1357.4h0M1255.1 1359h0" stroke="#808080" stroke-width="10.3" stroke-linecap="round" fill="none"/>
<polyline points="1365.3,1358.5 1351.8,1376.2 1375.6,1430.2 1352.8,1388 1343.8,1376.7 1351.2,1424.1 1333.1,1443.1 1334.7,1378.6 1375.7,1442.4 1375.8,1434 1360,1443 1344,1382.9 1331.5,1418.8 1329.5,1430.6 1375.8,1430.7 1366.9,1441.7 1374.6,1379.5 1354.8,1444.7 1375.6,1404.9 1331.8,1384.5 1363.6,1397.3 1358.2,1368.2 1371.2,1444.2 1329.4,1455.7 1335.7,1421.5 1375.4,1374.9 1374.9,1435.8 1375.4,1400.7 1341.8,1450.7 1329,1399 1374.3,1431.8 1360.6,1423.8 1362.6,1416.1 1333.1,1431.9 1352.5,1362.2 1333.3,1381.6 1341.9,1439.3 1369.9,1463.3 1372.8,1440.7 1333.8,1396.3 1352.2,1448 1369.7,1447.3 1356.9,1422.6 1346.9,1404.8 1375.4,1399.8 1370.6,1440.1 1332.6,1357.6 1358.7,1407.2 1375.7,1397.7 1333.1,1383.9 1373.2,1424.7 1364.1,1413.3 1329,1425.3 1375.3,1439.6 1333.3,1393.7 1357.3,1410.4 1352.6,1418.6 1329.3,1392.4 1361.2,1357.5 1373.6,1408 1337.8,1430.9 1349.3,1401.7 1366.7,1359.1 1338.1,1377.9 1329.1,1412.5 1355.6,1430.4 1329.3,1435.5 1375.6,1397.5 1329,1384 1356.3,1387.8 1351.2,1423.1 1369.4,1429 1329,1404.9 1346.4,1430.3 1365.1,1379.2 1358.3,1429.3 1375.4,1376.5 1333.6,1434.8 1358.2,1415.8 1367.1,1376.9 1363.9,1415.8 1329.1,1434.7 1375.7,1420.5 1375.5,1415.3 1334.4,1398.1 1366.6,1414.7 1346.6,1375.4 1358.9,1398.9 1354.7,1415.4 1329.3,1442.2 1329.3,1409.7 1355.6,1412.4 1335.9,1395.9 1329.4,1434.8 1338.2,1363.6 1375.3,1372.3 1355.4,1432.5 1369,1437.7 1361.6,1446.3 1375.6,1413.9 1334.2,1401.3 1355.2,1418.7 1345.7,1410.9 1359.3,1422.1 1350.9,1441.5 1339.3,1445.4 1351.9,1446.1 1331.8,1423.3 1372.7,1423.4 1366.1,1402.1 1340.4,1438 1329.2,1439.1 1329,1373.6 1375.7,1412.2 1375.5,1417.4 1333,1413.7 1368.6,1433.2 1349,1408.3 1343.9,1381.2 1331.7,1371.4 1375.6,1447.1 1357.7,1414.3 1340.3,1369.3 1329.4,1451.9 1354.2,1408.3 1345.4,1462.6 1338.5,1442.5 1372.8,1393.8 1357.8,1419.8 1353.5,1365.6 1346.4,1422.9 1363.1,1378.8 1340.2,1433.7 1329.3,1391.6 1331.8,1413 1361.8,1409.1 1354.7,1440.7 1353.9,1400.2 1357.8,1418.6 1364.5,1440.3 1329.6,1362.1 1329,1413.3 1368.4,1421.9 1334.4,1444.1 1343.8,1401.7 1355,1412.3 1338.5,1386.5 1375.7,1452.9 1333.5,1430.6 1365.5,1423.8 1331.9,1385 1331.6,1426 1350.1,1417.4 1359.9,1407.2 1358.6,1459.9 1373.7,1415.4 1351.6,1436.2 1354.7,1434 1333.6,1434 1342.1,1419.3 1334.9,1397.3 1338.7,1416.5 1357.5,1425.2 1366.7,1381.7 1334.4,1383.4 1342.4,1438.6 1347.3,1424.7 1345.6,1378.7 1370.6,1431.1 1357.3,1359 1360.1,1380.4 1368,1414.4 1336.7,1431.6 1367.1,1432.1 1374.6,1366 1363.2,1422.4 1343,1443.5 1375.8,1403.3 1339.9,1385.5 1349.7,1413.3 1375.8,1429.9 1344.8,1413.4 1366.9,1431.1 1352.7,1430.4 1367.8,1418 1373,1399.2 1353.4,1429.1 1356.1,1411.5 1359.3,1382.8 1372.7,1412.2 1350.2,1423.2 1362.1,1388.5 1358,1403.2 1364.5,1355.1 1344.5,1397.8 1346.3,1432.1 1336.1,1423.9 1368.6,1420.8 1364.6,1449.9 1375.7,1395.5 1329.3,1368.4 1335.1,1424.8 1375.7,1373.5 1362.6,1456.1 1375.4,1454.9 1344.6,1406.1 1353.4,1416.1 1328.9,1418.4 1348.2,1415.2 1362.9,1372.7 1372.9,1418.6 1375.6,1392.3 1369.7,1398.5 1339,1416.6 1353.9,1380.7 1345.6,1432.4 1359.2,1359.5 1329.3,1402.9 1359.1,1398 1375.4,1366.3 1328.9,1361.1 1338.4,1437.9 1375.6,1434.9 1375.4,1403.5 1361.2,1393.1 1337.1,1359.7 1375.8,1436.6 1375.8,1442.6 1339.3,1388.1 1340.7,1420.6 1329.1,1402.8 1353,1364.9 1355.2,1415.3 1364.6,1388.5 1362.8,1416.7 1334,1437.3 1329.9,1378.2 1359.5,1411.3 1366.1,1412.3 1348.4,1365 1329.5,1367 1329.9,1367.1 1338.8,1371.1 1339.6,1419.2 1375.7,1445.3 1340.8,1454.6 1329,1403.1 1328.9,1464.7 1354.8,1464.7 1375.9,1463.6 1352.4,1226.5 1352.4,1317.6 1362,1332.5 1342.8,1334.2 1329,1342.4 1375.8,1342.4 1352.4,1344.1 1341.4,1350.7" fill="none" stroke="none" marker-start="url(#mopen5757f7)" marker-mid="url(#mopen5757f7)" marker-end="url(#mopen5757f7)"/>
<path d="M1439.6 1435.9h0M1437.8 1352.8h0M1450.5 1417.2h0M1413.4 1439h0M1450.7 1380.9h0M1423.1 1442.9h0M1437.2 1434.5h0M1431.7 1455.4h0M1439.5 1397.9h0M1413.3 1372.4h0M1418.8 1421.5h0M1415.9 1398.4h0M1459.4 1445.5h0M1459.8 1409.3h0M1421 1457.2h0M1451.5 1382h0M1459.3 1416.9h0M1417.4 1433.3h0M1415.7 1375.3h0M1414.5 1437.5h0M1430.7 1402.5h0M1459.5 1451.8h0M1413.3 1365.2h0M1445 1424.3h0M1455.9 1438h0M1459.3 1414h0M1454.4 1455.7h0M1413.1 1425.9h0M1446.2 1417.6h0M1412.9 1446h0M1435.8 1433.6h0M1459.5 1388.9h0M1459.5 1428.9h0M1459.7 1391.2h0M1459.2 1386.8h0M1454.6 1446.2h0M1452 1381.5h0M1459.6 1435.7h0M1429.6 1378.5h0M1453.3 1452.8h0M1412.9 1395.5h0M1444.8 1427.5h0M1454.4 1417.9h0M1459.4 1431.5h0M1428.3 1418.1h0M1442.4 1378.4h0M1425.5 1426.3h0M1436.7 1387.2h0M1428.9 1407.5h0M1452.9 1356.5h0M1438.5 1442.2h0M1445.7 1427.4h0M1416.8 1389.3h0M1428.8 1431.9h0M1459.7 1391.8h0M1438.5 1447.7h0M1416.2 1407.6h0M1426.8 1456.7h0M1423.1 1398.1h0M1413.3 1410.5h0M1430.6 1395.6h0M1413.2 1399.3h0M1459.2 1455.2h0M1415.9 1379.6h0M1421.4 1405.3h0M1446.7 1427.7h0M1443.3 1426.1h0M1459.7 1410.8h0M1413.2 1408.9h0M1459.3 1411.1h0M1459.5 1401.1h0M1442.3 1377.5h0M1453 1421.6h0M1454.8 1430.2h0M1420.5 1359.6h0M1450.9 1411.8h0M1413.4 1365.1h0M1413.3 1379.8h0M1445 1435h0M1459.3 1367.2h0M1416.1 1358.5h0M1459.3 1437.9h0M1438.8 1464.8h0M1451.8 1429.7h0M1421.3 1402.8h0M1413 1394.3h0M1416.2 1435h0M1412.9 1455.3h0M1420 1433.6h0M1456.1 1443.1h0M1432.5 1379.3h0M1448.7 1405.1h0M1437.7 1370.4h0M1432.4 1392.5h0M1413.3 1364.1h0M1459.2 1403h0M1425.2 1406.3h0M1413.2 1342.5h0M1442.6 1418.9h0M1459.5 1428.4h0M1440.3 1392.1h0M1437.5 1433h0M1459.4 1423.2h0M1412.8 1439.7h0M1435.7 1404.8h0M1459.5 1360.8h0M1430.9 1438.1h0M1456.4 1402.4h0M1432.2 1375.7h0M1437.4 1441.1h0M1432.2 1437h0M1422.7 1417.9h0M1413 1385.2h0M1459.4 1411.9h0M1452 1383.5h0M1457.5 1390.4h0M1436.4 1423h0M1459.7 1423.6h0M1459.8 1348.7h0M1444.2 1420.7h0M1414.4 1421.3h0M1458.8 1427.6h0M1426.3 1369.2h0M1424.1 1413.2h0M1434.7 1420.3h0M1435.3 1415.9h0M1434.3 1389.1h0M1452 1402.8h0M1456.9 1422h0M1413 1419.1h0M1459.6 1384h0M1436.7 1423.6h0M1459.3 1423.5h0M1412.9 1433.1h0M1413.2 1458.2h0M1429 1412.2h0M1459.4 1387.1h0M1413 1396.2h0M1413.3 1431.6h0M1442.5 1388.1h0M1420.7 1421h0M1440.9 1436h0M1452.4 1439.5h0M1459.2 1410.5h0M1435.1 1397.6h0M1434.2 1407.3h0M1447 1406.4h0M1426.5 1436.5h0M1456.2 1392h0M1415.2 1437.9h0M1437.1 1412.1h0M1459.5 1429.7h0M1424.9 1378.3h0M1459.5 1431h0M1456.7 1399.1h0M1429.8 1387.2h0M1440.3 1373.4h0M1450.9 1404.9h0M1459.4 1369.6h0M1458.5 1426.6h0M1446 1452.3h0M1412.8 1438.4h0M1413 1449.2h0M1456 1344.9h0M1412.9 1408.4h0M1427.4 1417.8h0M1437.1 1397.6h0M1457.9 1347.1h0M1422.4 1382.7h0M1413.2 1416.3h0M1444.9 1402.9h0M1435.5 1353.3h0M1440.8 1463.4h0M1417.2 1436.2h0M1413.2 1360.7h0M1459.8 1354.8h0M1459.3 1381.5h0M1453.1 1393.8h0M1457.9 1360.9h0M1459.2 1422.1h0M1434.6 1401.7h0M1450.4 1366.2h0M1413.3 1409h0M1440.8 1393.4h0M1425.2 1369.2h0M1434.1 1375h0M1427.6 1377.1h0M1429.3 1435.8h0M1414.9 1426.8h0M1459.6 1448.7h0M1459.3 1438.8h0M1452.4 1437.6h0M1415.5 1376.2h0M1457.8 1438.1h0M1424.3 1415.3h0M1413.2 1413.8h0M1427.8 1380.9h0M1416 1421.5h0M1453.5 1419.1h0M1420.7 1432.1h0M1427.7 1407.3h0M1441.1 1456.2h0M1457.5 1365.1h0M1441.3 1436.6h0M1446.9 1449.6h0M1429 1396.3h0M1432.7 1394.1h0M1452.7 1378.4h0M1417.3 1367.4h0M1413.4 1426.1h0M1450 1416.6h0M1459.5 1417.5h0M1445 1387.1h0M1421.2 1392.9h0M1434.4 1392.1h0M1453.5 1422.4h0M1429.5 1424.5h0M1459.6 1425h0M1412.9 1357.4h0M1439.6 1426.2h0M1417.2 1430.7h0M1420.2 1450.4h0M1438.9 1461.9h0M1433.8 1453.6h0M1427.3 1397.1h0M1417.2 1370h0M1457.3 1416.7h0M1451.3 1434.1h0M1413.3 1423.2h0M1418.4 1414.9h0M1431.5 1420.7h0M1412.9 1350.8h0M1459.6 1385.8h0M1459.2 1422.1h0M1459.7 1416.8h0M1413.1 1354.1h0M1420.1 1432h0M1445.9 1447.5h0M1448.3 1385.7h0M1459.6 1347.4h0M1413.2 1426.2h0M1427.8 1345.5h0M1459.4 1413.4h0M1453.1 1403.5h0M1438.7 1435.6h0M1420 1391.5h0M1413.1 1426.7h0M1412.9 1391.5h0M1459.7 1436.8h0M1423 1439.7h0M1445.4 1449.6h0M1412.9 1400.6h0M1424.9 1428h0M1459.7 1426h0M1422.2 1429.9h0M1431.9 1422.5h0M1428 1447.9h0M1439.6 1402h0M1413.7 1416h0M1459.5 1408.3h0M1428.5 1383.2h0M1435.6 1412.8h0M1413.1 1413.2h0M1413.2 1443.6h0M1459.7 1391.5h0M1444.4 1440h0M1433.9 1423.9h0M1412.9 1423.3h0M1421.4 1431.6h0M1412.9 1442.8h0M1459.3 1454.9h0M1444.1 1416.3h0M1415.9 1438.9h0M1444.5 1395.3h0M1453.2 1399.9h0M1457.3 1402.9h0M1432.2 1418.9h0M1436 1402h0M1418.7 1453.6h0M1456.2 1342.9h0M1420.7 1343.3h0M1430.6 1379.7h0M1459.3 1438.4h0M1459.3 1439.5h0M1455.1 1450.1h0M1456.8 1433.5h0M1413.5 1420.1h0M1412.8 1463.2h0M1438.6 1464.8h0M1459.8 1464.9h0M1436.3 1278.6h0M1426.7 1301h0M1445.9 1302.7h0M1445.9 1307.6h0M1426.7 1309.3h0M1445.9 1317.6h0M1426.7 1321.7h0M1426.7 1330h0M1445.9 1332.5h0M1428.1 1338.3h0M1444.5 1338.3h0" stroke="#5757f7" stroke-width="10.3" stroke-linecap="round" fill="none"/>
<polyline points="1512.8,1421.2 1497.3,1451.8 1502.7,1424.5 1521.4,1374.6 1514.3,1378.9 1533.4,1427.2 1543.1,1414.9 1503.4,1404.1 1496.7,1394.1 1510.2,1421 1522.7,1378.8 1496.7,1402.9 1543.5,1408.6 1507.8,1364.1 1496.8,1401 1543.1,1448.5 1499.4,1384.7 1528.2,1426.2 1501.8,1414.3 1543.5,1432.7 1509.6,1375.5 1512.5,1413 1535,1456.7 1543.2,1363.6 1539.3,1410.7 1526.3,1404.7 1543.5,1444.3 1541.7,1430 1537.8,1420.7 1497.3,1415.7 1531.1,1407 1543.2,1427.4 1533.5,1411.8 1524.2,1371.8 1534.4,1440.4 1540.9,1381.1 1517.8,1395.6 1543.6,1447.7 1510.5,1389.9 1521.9,1452.6 1543.3,1410.6 1540.5,1443.1 1535.8,1400.9 1512,1379.9 1531.3,1424.9 1524.4,1420.7 1543.3,1420.2 1529.6,1399.7 1518.7,1430.8 1508.3,1372.5 1526.8,1377.1 1527.6,1431.1 1535.3,1372.8 1512,1409.3 1530.5,1447 1496.8,1432.6 1514.9,1418.6 1501.6,1396.5 1543.3,1409.8 1512.1,1412.3 1523.4,1391.4 1532.5,1398.8 1497.3,1447.1 1543.6,1433.7 1498.8,1447 1531.1,1440 1543.7,1419.3 1535.4,1417 1519.6,1433.5 1527.6,1391.1 1515.4,1409.3 1513.1,1387.6 1534.6,1447.8 1507.9,1392.2 1543.1,1458.2 1500.7,1366.1 1543.6,1385.7 1510.9,1441.8 1534.8,1418.6 1527.1,1445.7 1543.5,1438.4 1531.4,1407.9 1528.7,1406.5 1503.5,1434.8 1543.3,1406 1506.4,1411.2 1518.6,1417.9 1497.2,1444 1497.1,1421.4 1543.6,1388.2 1543.4,1440.2 1497.2,1428.8 1522.9,1407 1506.9,1398.6 1497.3,1424.8 1530.2,1408.5 1515,1387.6 1543.4,1388 1537.7,1441.4 1511.4,1455.4 1535.9,1415.6 1513.3,1420.3 1543.4,1436.4 1497.2,1402 1497,1441 1500.4,1393.3 1543.1,1396.1 1543.6,1381.3 1504.1,1417.1 1524.5,1431.4 1502.2,1424.6 1497,1403.4 1529.5,1411.1 1497,1365.1 1537.2,1364.2 1516.8,1406.7 1535.1,1420.3 1502.8,1377.9 1510.6,1419.4 1543.6,1428.9 1522.7,1410 1528.1,1430.3 1503.9,1414.7 1502.7,1439 1529,1440.2 1496.7,1445.6 1507.8,1440.2 1543.6,1409.8 1528.7,1405.3 1501.3,1433.3 1524.5,1444.2 1521.4,1436 1543.5,1402.6 1507.4,1388.5 1534.7,1400.9 1532,1379.5 1538.7,1403.3 1509.5,1411.7 1524.1,1420.1 1518.4,1439.4 1533.5,1375.6 1543.3,1406.1 1543.4,1412.3 1497.3,1436.4 1503.7,1422.9 1518.8,1391.3 1496.9,1434.3 1521.3,1387.5 1543.7,1368.1 1543.2,1394 1510.2,1367.7 1496.7,1454.4 1533.7,1433.1 1520.7,1424.6 1518.1,1423.7 1526.2,1421.6 1497.2,1444.4 1520.6,1386.2 1500.3,1394.9 1517.3,1438.3 1527.1,1420.5 1501.7,1447.5 1525.5,1442.9 1499.3,1373.4 1543.5,1441.1 1526.2,1415.5 1543.2,1424.1 1526.9,1391 1505.2,1406.5 1530.9,1383.1 1500.5,1383.4 1497.2,1392 1497.3,1423 1520.2,1435.8 1498.3,1400 1525.3,1444 1497.2,1444 1519.8,1431.7 1529.2,1435.3 1496.9,1431.8 1517.7,1452.4 1542.8,1421.6 1543.3,1427.3 1522.5,1444.7 1543.5,1455.4 1521.3,1386.8 1506.1,1364.4 1543.6,1441.6 1543.3,1371.7 1543.4,1435.7 1504.7,1443.4 1537.3,1408.7 1543.6,1411.5 1538.5,1449 1525.3,1439.4 1520.6,1431.1 1509.5,1424.4 1516.8,1422.3 1499.5,1432.9 1497.2,1429.4 1496.7,1434.5 1496.8,1446.3 1539.1,1391 1496.7,1414.6 1503.4,1421.5 1508,1435.1 1539.3,1391.3 1526,1428.4 1496.8,1397.8 1530.5,1432.3 1505.1,1425.1 1515.3,1433.5 1538.8,1429.1 1496.9,1401 1543.7,1398.9 1536.5,1416.3 1521.1,1442.8 1526.3,1392.6 1497.3,1394.1 1522.5,1438.8 1523.1,1423.7 1535.8,1441.5 1519.6,1401.9 1525.3,1408.9 1537.4,1451.6 1530.8,1457.2 1513.5,1385.2 1517.2,1424.1 1518.1,1453.9 1525.9,1402.6 1526.8,1425.8 1539,1437.3 1512.7,1398.1 1516,1366.4 1535,1371.1 1497.1,1382 1515.4,1416.4 1497,1427.9 1501.1,1402.1 1518,1412.1 1543.7,1391.4 1540.9,1435.5 1524.9,1415.5 1511,1438.4 1543.3,1450.1 1508.2,1426.7 1501.8,1413.9 1496.7,1460.2 1522.5,1460.2 1543.7,1460.1 1520.2,1228.1 1520.2,1322.6 1496.8,1325 1543.6,1325.9 1520.2,1332.5 1543.6,1335.8 1496.8,1337.5 1520.2,1346.6 1496.8,1346.6 1543.6,1348.2 1527.1,1350.7 1496.8,1354.9 1543.6,1354.9 1512,1359" fill="none" stroke="none" marker-start="url(#mopenf74040)" marker-mid="url(#mopenf74040)" marker-end="url(#mopenf74040)"/>
<path d="M1624.9 1374.5h0M1624.6 1372.7h0M1580.9 1445.1h0M1609.8 1378.4h0M1604.2 1388.4h0M1595.6 1400.4h0M1589.6 1416.6h0M1622.9 1377.3h0M1611.1 1374.4h0M1589.4 1438.7h0M1626.8 1412.4h0M1616.2 1437.7h0M1626.3 1373.9h0M1610.3 1426.4h0M1594.5 1436.8h0M1594.7 1430.2h0M1610.7 1387.3h0M1581.4 1379.4h0M1626.5 1398.9h0M1602.7 1432.6h0M1590.1 1462.3h0M1622.3 1372.7h0M1593.2 1406.9h0M1626.3 1380.8h0M1580.1 1383.9h0M1581.9 1386.6h0M1596.6 1382.1h0M1620.3 1406.5h0M1580.2 1428.4h0M1616.1 1422.4h0M1615.2 1436.5h0M1626.4 1396.5h0M1582.5 1389.8h0M1626.3 1462.2h0M1622.7 1373.4h0M1583.7 1378.8h0M1626.3 1446.2h0M1599.1 1445.6h0M1580.3 1422.9h0M1592.6 1439.9h0M1598.6 1434.8h0M1601.7 1391.2h0M1580 1416.1h0M1614.2 1428.6h0M1613.4 1464.7h0M1580.3 1381.6h0M1586.8 1441.4h0M1626.8 1386.2h0M1626.7 1371.4h0M1626.4 1420.2h0M1580.1 1448.4h0M1580.1 1393.3h0M1615 1417.4h0M1614.9 1449h0M1584.4 1433.6h0M1609.5 1432.5h0M1582 1393h0M1580 1440.1h0M1610.5 1419h0M1580.3 1419h0M1596.1 1425.3h0M1624 1401.3h0M1608.3 1410.6h0M1626.4 1419h0M1613.4 1393h0M1618.6 1441.5h0M1607.7 1438.7h0M1584.7 1451.4h0M1583.9 1378.2h0M1626.3 1431.9h0M1626.6 1441.7h0M1580.4 1413.5h0M1602 1449.3h0M1579.9 1385.3h0M1597.6 1419.2h0M1626.4 1439.3h0M1613.8 1435.3h0M1580.3 1421.6h0M1614.2 1439.4h0M1583.1 1451.2h0M1581.3 1442.2h0M1618.3 1445.7h0M1600.1 1398.7h0M1626.4 1422.8h0M1580 1414.9h0M1597.2 1372h0M1617.6 1428.4h0M1623.3 1410.5h0M1599.1 1391.8h0M1612.1 1407.8h0M1601.7 1418.5h0M1586.9 1414.2h0M1618.5 1380.3h0M1617 1445.4h0M1580.3 1395.2h0M1580.2 1390.5h0M1595.7 1433.5h0M1585.9 1433.4h0M1620.9 1405.2h0M1621.9 1424.4h0M1626.1 1379.1h0M1594.4 1417.2h0M1626.6 1422.6h0M1587.7 1411.4h0M1625.8 1438.7h0M1597.2 1441.5h0M1580.2 1407.3h0M1626.7 1462.8h0M1626.9 1391h0M1619.9 1414.6h0M1581.5 1423.3h0M1592.2 1453.8h0M1589.6 1412.3h0M1580.4 1420.5h0M1606.2 1436.3h0M1619.4 1388.3h0M1602.8 1419.7h0M1607.5 1450.1h0M1613.3 1439.5h0M1609.8 1402.8h0M1587.2 1430.3h0M1593.5 1451.3h0M1626.7 1384.9h0M1619.6 1439.7h0M1626.3 1422.3h0M1588.6 1447.9h0M1587.5 1458.2h0M1622.5 1450h0M1580.1 1405.5h0M1580.2 1420h0M1580.3 1412.1h0M1626.7 1407.7h0M1580.5 1399.4h0M1580.5 1399.1h0M1591.6 1392.7h0M1580.4 1421.2h0M1616.1 1406.9h0M1589.9 1441.8h0M1580.6 1410.6h0M1580 1422h0M1588.1 1419.8h0M1626.3 1373.8h0M1611.1 1443.5h0M1580.3 1417.7h0M1580.2 1389.9h0M1598.6 1408.5h0M1626.4 1424.7h0M1581.6 1421.5h0M1595.7 1438.9h0M1626.6 1396.7h0M1618.5 1390.9h0M1580 1409.8h0M1626.8 1409.4h0M1593.7 1435.1h0M1579.9 1402.8h0M1607.4 1428.6h0M1593.9 1408h0M1623.1 1451.4h0M1589.6 1446.9h0M1626.6 1393.6h0M1588.8 1380h0M1587.7 1375.4h0M1608.1 1396.9h0M1593.2 1420.8h0M1608.6 1407.6h0M1598.3 1416.7h0M1598.8 1420.8h0M1593 1411.2h0M1626.7 1394.1h0M1603.2 1440.5h0M1604.3 1410h0M1626.8 1426.6h0M1626.6 1426.1h0M1599.8 1395.6h0M1606.5 1408.4h0M1603.4 1389.5h0M1580.1 1414.8h0M1593.7 1445h0M1588 1431.5h0M1626.4 1373h0M1613.9 1445.2h0M1626.8 1417.4h0M1580.1 1442.6h0M1592 1410.4h0M1623.9 1382.1h0M1626.8 1420.8h0M1581.6 1447.8h0M1607.5 1425.1h0M1606.5 1431.9h0M1620.8 1422.1h0M1623.9 1419.7h0M1590.3 1442.9h0M1580.2 1404.1h0M1626.2 1436.3h0M1584.3 1394.4h0M1616.3 1425.6h0M1610.5 1446h0M1619.7 1418.8h0M1601 1390.6h0M1618.1 1400.2h0M1596.9 1382.4h0M1594.3 1387.1h0M1626.4 1414h0M1580.3 1437.1h0M1626.4 1423.7h0M1580.4 1391.2h0M1601.7 1423.1h0M1580.3 1426.2h0M1607.7 1394.6h0M1626.7 1412.2h0M1596.5 1442.5h0M1590.2 1410.1h0M1588.4 1421.9h0M1580.5 1435.3h0M1580.3 1438h0M1594.5 1382h0M1608.8 1450.9h0M1611 1451h0M1590.1 1416.7h0M1624.5 1416.5h0M1626.6 1406h0M1591 1406.9h0M1603.4 1413.5h0M1600.8 1423.8h0M1592.8 1375.8h0M1623.3 1420.9h0M1588.2 1448.1h0M1599.1 1406.7h0M1626.4 1446.9h0M1580.5 1389.8h0M1580 1438.9h0M1625.1 1394h0M1626.7 1462.4h0M1579.9 1375.1h0M1604.8 1413h0M1619.3 1407h0M1618.6 1391.1h0M1580 1404.4h0M1594.6 1431.2h0M1580.2 1421.2h0M1618.1 1437.5h0M1586.8 1427.2h0M1580.2 1415.9h0M1625.9 1394.4h0M1611.2 1404.5h0M1593.3 1421.3h0M1587.1 1423.2h0M1579.9 1425h0M1594.6 1376.7h0M1607.5 1424.8h0M1585 1440.5h0M1626.5 1397.5h0M1591.9 1419.1h0M1623.2 1442.8h0M1586.4 1416.1h0M1580.4 1406.1h0M1586.9 1416.8h0M1617.5 1410.7h0M1626.6 1385h0M1622.7 1436.8h0M1615.7 1410.8h0M1626.8 1409.1h0M1580.4 1436.6h0M1602.7 1397.2h0M1580.5 1395.9h0M1613.5 1413.7h0M1626.5 1409.1h0M1597.2 1378.2h0M1614.1 1424.9h0M1609.5 1420.4h0M1614.8 1384h0M1626.4 1397.6h0M1622 1427.7h0M1579.9 1465.7h0M1605.8 1463.4h0M1626.9 1464.3h0M1603.4 1254.6h0M1603.4 1282.8h0M1603.4 1298.5h0M1603.4 1315.1h0M1593.8 1329.2h0M1613 1330h0M1595.2 1332.5h0M1626.8 1338.3h0M1610.3 1340.8h0M1580 1342.4h0M1603.4 1350.7h0M1626.8 1352.4h0M1580 1354.9h0M1592.4 1356.5h0M1613 1359h0" stroke="#f74040" stroke-width="10.3" stroke-linecap="round" fill="none"/>
<path d="M1156.5 1398.8L1213.3 1398.8" stroke="#000" stroke-width="5"/>
<path d="M1240.4 1398.8L1297.2 1398.8" stroke="#000" stroke-width="5"/>
<path d="M1324 1408.7L1380.8 1408.7" stroke="#000" stroke-width="5"/>
<path d="M1407.9 1414.2L1464.7 1414.2" stroke="#000" stroke-width="5"/>
<path d="M1491.8 1411.2L1548.6 1411.2" stroke="#000" stroke-width="5"/>
<path d="M1575 1410.4L1631.8 1410.4" stroke="#000" stroke-width="5"/>
<path d="M1129 1141.1L1129 1477.5" stroke="#000" stroke-width="5.3"/>
<path d="M1114 1475L1660 1475" stroke="#000" stroke-width="5"/>
<text x="1110.9" y="1483.3" font-size="25.3" text-anchor="end">0</text>
<path d="M1114 1392.2L1129 1392.2" stroke="#000" stroke-width="5"/>
<text x="1110.9" y="1400.5" font-size="25.3" text-anchor="end">1</text>
<path d="M1114 1309.3L1129 1309.3" stroke="#000" stroke-width="5"/>
<text x="1110.9" y="1317.6" font-size="25.3" text-anchor="end">2</text>
<path d="M1114 1226.5L1129 1226.5" stroke="#000" stroke-width="5"/>
<text x="1110.9" y="1234.8" font-size="25.3" text-anchor="end">3</text>
<path d="M1114 1143.6L1129 1143.6" stroke="#000" stroke-width="5"/>
<text x="1110.9" y="1151.9" font-size="25.3" text-anchor="end">4</text>
<text transform="translate(1079.8 1309.5) rotate(-90) scale(0.95 1)" font-size="32.9" font-weight="bold" text-anchor="middle"><tspan fill="#aa00dc">IdU</tspan>/<tspan fill="#00c000">CldU</tspan></text>
<text x="1433.8" y="930.1" font-size="18" text-anchor="middle"><tspan font-family="DejaVu Sans" font-weight="bold" letter-spacing="-0.8" font-size="17" dy="-1">∗∗∗</tspan> <tspan font-style="italic" dy="1">P</tspan> = 0.0007</text>
<path d="M1257.5 950.8V940.8H1609V950.8" fill="none" stroke="#000" stroke-width="3"/>
<text x="1340.8" y="975.5" font-size="18" text-anchor="middle"><tspan font-family="DejaVu Sans" font-weight="bold" letter-spacing="-0.8" font-size="17" dy="-1">∗∗∗</tspan> <tspan font-style="italic" dy="1">P</tspan> = 0.0003</text>
<path d="M1257.5 994.9V984.9H1422V994.9" fill="none" stroke="#000" stroke-width="3"/>
<text x="1351.5" y="1019.8" font-size="18" text-anchor="middle"><tspan font-family="DejaVu Sans" font-weight="bold" letter-spacing="-0.8" font-size="17" dy="-1">∗∗</tspan> <tspan font-style="italic" dy="1">P</tspan> = 0.0078</text>
<path d="M1182 1040.4V1031.4H1520V1040.4" fill="none" stroke="#000" stroke-width="3"/>
<text x="1267.3" y="1065.8" font-size="18" text-anchor="middle"><tspan font-family="DejaVu Sans" font-weight="bold" letter-spacing="-0.8" font-size="17" dy="-1">∗</tspan> <tspan font-style="italic" dy="1">P</tspan> = 0.0114</text>
<path d="M1182 1084.5V1075.5H1352.5V1084.5" fill="none" stroke="#000" stroke-width="3"/>
<text x="1224.2" y="1104.8" font-size="23" text-anchor="middle">n.s.</text>
<path d="M1182 1127V1117H1267.3V1127" fill="none" stroke="#000" stroke-width="3"/>
<text x="1392" y="1103" font-size="23" text-anchor="middle">n.s.</text>
<path d="M1351 1127V1117H1433.8V1127" fill="none" stroke="#000" stroke-width="3"/>
<text x="1563.6" y="1103" font-size="23" text-anchor="middle">n.s.</text>
<path d="M1519.5 1127V1117H1608.6V1127" fill="none" stroke="#000" stroke-width="3"/>
<text x="1182" y="1155.3" font-size="27.5" text-anchor="middle">0.92</text>
<text x="1275" y="1155.3" font-size="27.5" text-anchor="middle">0.92</text>
<text x="1351.5" y="1155.3" font-size="27.5" text-anchor="middle">0.81</text>
<text x="1432.8" y="1155.3" font-size="27.5" text-anchor="middle">0.74</text>
<text x="1520" y="1155.3" font-size="27.5" text-anchor="middle">0.77</text>
<text x="1608.6" y="1155.3" font-size="27.5" text-anchor="middle">0.79</text>
<text x="1102.3" y="1516" font-size="25">HU</text>
<text x="1184" y="1519" font-size="32.5" text-anchor="middle" stroke="#000" stroke-width="0.8">−</text>
<text x="1266" y="1518.1" font-size="30" text-anchor="middle" stroke="#000" stroke-width="0.8">+</text>
<text x="1352" y="1519" font-size="32.5" text-anchor="middle" stroke="#000" stroke-width="0.8">−</text>
<text x="1435" y="1518.1" font-size="30" text-anchor="middle" stroke="#000" stroke-width="0.8">+</text>
<text x="1521" y="1519" font-size="32.5" text-anchor="middle" stroke="#000" stroke-width="0.8">−</text>
<text x="1602" y="1518.1" font-size="30" text-anchor="middle" stroke="#000" stroke-width="0.8">+</text>
<path d="M1158.3 1527.9L1286.4 1527.9" stroke="#000" stroke-width="1.9"/>
<path d="M1329 1527.9L1461.9 1527.9" stroke="#000" stroke-width="1.9"/>
<path d="M1493.9 1527.9L1629.3 1527.9" stroke="#000" stroke-width="1.9"/>
<text x="1222.4" y="1556.7" font-size="25.5" text-anchor="middle">WT</text>
<text x="1378" y="1560.5" font-size="24" fill="#5757f7">8<tspan font-size="13.9" dy="-8.6">KO</tspan></text>
<text x="1545" y="1560.5" font-size="24" fill="#f74040">9<tspan font-size="13.9" dy="-8.6">KO</tspan></text>
<text x="1644.5" y="959.3" font-size="16.7">siMus81</text>
<text x="1748.9" y="958" font-size="20" text-anchor="middle" font-weight="bold">-</text>
<text x="1824.9" y="960" font-size="22" text-anchor="middle" font-weight="bold">+</text>
<text x="1916.9" y="959.3" font-size="16.7" text-decoration="underline">kDa</text>
<g clip-path="url(#cd1)">
<rect x="1706" y="967" width="208.5" height="74.5" fill="#f4f4f4"/>
<g filter="url(#b4)">
<rect x="1712" y="1012" width="64" height="22" rx="8" ry="8" fill="#dedede"/>
<rect x="1788" y="990" width="40" height="20" rx="6" ry="6" fill="#e6e6e6"/>
</g><g filter="url(#b3)">
<rect x="1872" y="977" width="41" height="21" rx="8" ry="8" fill="#9c9c9c"/>
<rect x="1876" y="1028" width="37" height="16" rx="6" ry="6" fill="#bcbcbc"/>
<rect x="1706" y="990" width="75" height="22" rx="10" ry="10" fill="#888"/>
</g><g filter="url(#b2)">
<rect x="1707" y="992.5" width="71" height="18" rx="7" ry="7" fill="#000"/>
<rect x="1770" y="999.5" width="15" height="8" rx="4" ry="4" fill="#000"/>
<rect x="1714" y="988.5" width="6" height="7.5" rx="3.8" ry="3.8" fill="#000"/>
<rect x="1769" y="988.5" width="6" height="7.5" rx="3.8" ry="3.8" fill="#000"/>
</g></g>
<g clip-path="url(#cd2)">
<rect x="1706" y="1044.7" width="208.5" height="63.2" fill="#f8f8f8"/>
<g filter="url(#b3)">
<rect x="1877" y="1086.5" width="27" height="11" rx="5.5" ry="5.5" fill="#b0b0b0"/>
</g><g filter="url(#b2)">
<rect x="1707" y="1068.5" width="66" height="11" rx="5.5" ry="5.5" fill="#000"/>
<rect x="1787" y="1066.5" width="72" height="11" rx="5.5" ry="5.5" fill="#000"/>
<rect x="1840" y="1065" width="18.5" height="12" rx="6" ry="6" fill="#000"/>
</g></g>
<rect x="1706" y="967" width="208.5" height="74.5" fill="none" stroke="#000" stroke-width="2.3"/>
<rect x="1706" y="1044.7" width="208.5" height="63.2" fill="none" stroke="#000" stroke-width="2.3"/>
<text x="1644.5" y="1005.6" font-size="16.7">Mus81</text>
<rect x="1698" y="998.2" width="4.8" height="3.2" fill="#000"/>
<text x="1644.5" y="1078.5" font-size="16.7"><tspan font-family="Liberation Serif" font-size="18">β</tspan>-actin</text>
<rect x="1698" y="1071.1" width="4.8" height="3.2" fill="#000"/>
<rect x="1918.5" y="985.4" width="4.8" height="3.2" fill="#000"/>
<text x="1925.7" y="992.8" font-size="16.3">72</text>
<rect x="1918.5" y="1032.2" width="4.8" height="3.2" fill="#000"/>
<text x="1925.7" y="1039.6" font-size="16.3">55</text>
<rect x="1918.5" y="1087.4" width="4.8" height="3.2" fill="#000"/>
<text x="1925.7" y="1094.8" font-size="16.3">43</text>
<svg x="1665" y="1183.6" width="239.6" height="49.8" style="isolation:isolate">
<rect width="239.6" height="49.8" fill="#080c08"/>
<path d="M15 21.9L35 27.9L60.1 23.9L85.1 23.9L105.1 27.9" stroke="#0cff1a" stroke-width="10.3" class="fs" opacity="0.6" filter="url(#fb7)"/>
<path d="M15 21.9L35 27.9L60.1 23.9L85.1 23.9L105.1 27.9" stroke="#0cff1a" stroke-width="7" class="fs" stroke-dasharray="15.8 7" filter="url(#fb5)"/>
<path d="M112.1 26.9L126.2 26.9" stroke="#0cff1a" stroke-width="9.2" class="fs" opacity="0.6" filter="url(#fb7)"/>
<path d="M112.1 26.9L126.2 26.9" stroke="#0cff1a" stroke-width="6.4" class="fs" stroke-dasharray="14.6 6.5" filter="url(#fb4)"/>
<path d="M130.2 27.9L170.2 27.9L210.3 29.9L226.3 34.9" stroke="#de2ade" stroke-width="10.3" class="fs" opacity="0.6" filter="url(#fb7)"/>
<path d="M130.2 27.9L170.2 27.9L210.3 29.9L226.3 34.9" stroke="#de2ade" stroke-width="7" class="fs" stroke-dasharray="15.8 7" filter="url(#fb5)"/>
<path d="M126.2 26.9L130.2 26.9" stroke="#fff" stroke-width="5.2" class="fs" opacity="0.55" filter="url(#fb4)"/>
</svg>
<svg x="1665" y="1238.6" width="239.6" height="50" style="isolation:isolate">
<rect width="239.6" height="50" fill="#050305"/>
<path d="M15 34L40.1 30L70.1 29L100.1 27L122.2 28" stroke="#0aa614" stroke-width="11.5" class="fs" opacity="0.6" filter="url(#fb7)"/>
<path d="M15 34L40.1 30L70.1 29L100.1 27L122.2 28" stroke="#0aa614" stroke-width="7.6" class="fs" stroke-dasharray="17 7.5" filter="url(#fb5)"/>
<path d="M85.1 27L105.1 27" stroke="#0cff1a" stroke-width="6.9" class="fs" opacity="0.6" filter="url(#fb6)"/>
<path d="M85.1 27L105.1 27" stroke="#0cff1a" stroke-width="5.2" class="fs" stroke-dasharray="12.2 5.5" filter="url(#fb3)"/>
<path d="M126.2 28L160.2 29L195.2 29" stroke="#d868dc" stroke-width="11.5" class="fs" opacity="0.6" filter="url(#fb7)"/>
<path d="M126.2 28L160.2 29L195.2 29" stroke="#d868dc" stroke-width="7.6" class="fs" stroke-dasharray="17 7.5" filter="url(#fb5)"/>
<path d="M204.3 28L224.3 29" stroke="#d868dc" stroke-width="11.5" class="fs" opacity="0.6" filter="url(#fb7)"/>
<path d="M204.3 28L224.3 29" stroke="#d868dc" stroke-width="7.6" class="fs" stroke-dasharray="17 7.5" filter="url(#fb5)"/>
<path d="M128.2 28L165.2 30" stroke="#fff" stroke-width="5.2" class="fs" opacity="0.55" filter="url(#fb4)"/>
<path d="M2 50L8 49" stroke="#de2ade" stroke-width="6.9" class="fs" opacity="0.6" filter="url(#fb6)"/>
<path d="M2 50L8 49" stroke="#de2ade" stroke-width="5.2" class="fs" stroke-dasharray="12.2 5.5" filter="url(#fb3)"/>
<path d="M146.2 50L156.2 49" stroke="#0cff1a" stroke-width="4.6" class="fs" opacity="0.6" filter="url(#fb5)"/>
<path d="M146.2 50L156.2 49" stroke="#0cff1a" stroke-width="4" class="fs" stroke-dasharray="9.8 4.5" filter="url(#fb3)"/>
<path d="M187.2 45L188.2 47" stroke="#0cff1a" stroke-width="4.6" class="fs" opacity="0.6" filter="url(#fb5)"/>
<path d="M187.2 45L188.2 47" stroke="#0cff1a" stroke-width="4" class="fs" stroke-dasharray="9.8 4.5" filter="url(#fb3)"/>
</svg>
<svg x="1665" y="1293.6" width="239.6" height="50.4" style="isolation:isolate">
<rect width="239.6" height="50.4" fill="#050805"/>
<path d="M8 23.2L35 26.2L58.1 27.2" stroke="#0cff1a" stroke-width="10.3" class="fs" opacity="0.6" filter="url(#fb7)"/>
<path d="M8 23.2L35 26.2L58.1 27.2" stroke="#0cff1a" stroke-width="7" class="fs" stroke-dasharray="15.8 7" filter="url(#fb5)"/>
<path d="M65.1 27.2L90.1 28.2L118.1 26.2" stroke="#0cff1a" stroke-width="6.9" class="fs" opacity="0.6" filter="url(#fb6)"/>
<path d="M65.1 27.2L90.1 28.2L118.1 26.2" stroke="#0cff1a" stroke-width="5.2" class="fs" stroke-dasharray="12.2 5.5" filter="url(#fb3)"/>
<path d="M65.1 26.2L90.1 28.2L118.1 26.2" stroke="#fff" stroke-width="4.5" class="fs" opacity="0.55" filter="url(#fb3)"/>
<path d="M120.2 25.2L150.2 28.2L175.2 31.2L198.2 22.2L208.3 26.2" stroke="#de2ade" stroke-width="6.9" class="fs" opacity="0.6" filter="url(#fb6)"/>
<path d="M120.2 25.2L150.2 28.2L175.2 31.2L198.2 22.2L208.3 26.2" stroke="#de2ade" stroke-width="5.2" class="fs" stroke-dasharray="12.2 5.5" filter="url(#fb3)"/>
<path d="M122.2 26.2L150.2 30.2L178.2 32.3L200.3 28.2" stroke="#fff" stroke-width="4.5" class="fs" opacity="0.55" filter="url(#fb3)"/>
<path d="M207.3 28.2L208.3 28.2" stroke="#0cff1a" stroke-width="3.4" class="fs" opacity="0.6" filter="url(#fb5)"/>
<path d="M207.3 28.2L208.3 28.2" stroke="#0cff1a" stroke-width="3.4" class="fs" stroke-dasharray="8.6 4" filter="url(#fb2)"/>
<path d="M23 34.3L25 35.3" stroke="#de2ade" stroke-width="4.6" class="fs" opacity="0.6" filter="url(#fb5)"/>
<path d="M23 34.3L25 35.3" stroke="#de2ade" stroke-width="4" class="fs" stroke-dasharray="9.8 4.5" filter="url(#fb3)"/>
<path d="M149.2 46.4L155.2 50.4" stroke="#de2ade" stroke-width="4.6" class="fs" opacity="0.6" filter="url(#fb5)"/>
<path d="M149.2 46.4L155.2 50.4" stroke="#de2ade" stroke-width="4" class="fs" stroke-dasharray="9.8 4.5" filter="url(#fb3)"/>
</svg>
<svg x="1665" y="1349" width="239.6" height="49.6" style="isolation:isolate">
<rect width="239.6" height="49.6" fill="#040604"/>
<path d="M13 25.8L30 25.8L50.1 22.8" stroke="#0cff1a" stroke-width="10.3" class="fs" opacity="0.6" filter="url(#fb7)"/>
<path d="M13 25.8L30 25.8L50.1 22.8" stroke="#0cff1a" stroke-width="7" class="fs" stroke-dasharray="15.8 7" filter="url(#fb5)"/>
<path d="M65.1 24.8L82.1 23.8L96.1 23.8" stroke="#0cff1a" stroke-width="10.3" class="fs" opacity="0.6" filter="url(#fb7)"/>
<path d="M65.1 24.8L82.1 23.8L96.1 23.8" stroke="#0cff1a" stroke-width="7" class="fs" stroke-dasharray="15.8 7" filter="url(#fb5)"/>
<path d="M108.1 23.8L128.2 24.8" stroke="#0aa614" stroke-width="6.9" class="fs" opacity="0.6" filter="url(#fb6)"/>
<path d="M108.1 23.8L128.2 24.8" stroke="#0aa614" stroke-width="5.2" class="fs" stroke-dasharray="12.2 5.5" filter="url(#fb3)"/>
<path d="M132.2 25.8L160.2 27.8L205.3 31.7" stroke="#de2ade" stroke-width="10.3" class="fs" opacity="0.6" filter="url(#fb7)"/>
<path d="M132.2 25.8L160.2 27.8L205.3 31.7" stroke="#de2ade" stroke-width="7" class="fs" stroke-dasharray="15.8 7" filter="url(#fb5)"/>
<path d="M132.2 26.8L145.2 27.8" stroke="#fff" stroke-width="5.2" class="fs" opacity="0.55" filter="url(#fb4)"/>
<path d="M165.2 29.8L200.3 31.7" stroke="#fff" stroke-width="5.2" class="fs" opacity="0.55" filter="url(#fb4)"/>
</svg>
<svg x="1665" y="1404" width="239.6" height="49.6" style="isolation:isolate">
<rect width="239.6" height="49.6" fill="#040404"/>
<path d="M14 14.9L20 17.9" stroke="#8dff9a" stroke-width="10.3" class="fs" opacity="0.6" filter="url(#fb7)"/>
<path d="M14 14.9L20 17.9" stroke="#8dff9a" stroke-width="7" class="fs" filter="url(#fb5)"/>
<path d="M34 23.8L60.1 26.8L78.1 33.7L95.1 29.8L110.1 26.8" stroke="#0cff1a" stroke-width="10.3" class="fs" opacity="0.6" filter="url(#fb7)"/>
<path d="M34 23.8L60.1 26.8L78.1 33.7L95.1 29.8L110.1 26.8" stroke="#0cff1a" stroke-width="7" class="fs" stroke-dasharray="15.8 7" filter="url(#fb5)"/>
<path d="M114.1 25.8L140.2 23.8L170.2 25.8L182.2 32.7L193.2 22.8" stroke="#de2ade" stroke-width="10.3" class="fs" opacity="0.6" filter="url(#fb7)"/>
<path d="M114.1 25.8L140.2 23.8L170.2 25.8L182.2 32.7L193.2 22.8" stroke="#de2ade" stroke-width="7" class="fs" stroke-dasharray="15.8 7" filter="url(#fb5)"/>
<path d="M110.1 26.8L122.2 25.8" stroke="#fff" stroke-width="5.9" class="fs" opacity="0.55" filter="url(#fb4)"/>
<path d="M182.2 31.7L190.2 25.8" stroke="#fff" stroke-width="6.6" class="fs" opacity="0.55" filter="url(#fb4)"/>
</svg>
<svg x="1665" y="1459" width="239.6" height="50" style="isolation:isolate">
<rect width="239.6" height="50" fill="#030303"/>
<path d="M15 29L35 27" stroke="#0cff1a" stroke-width="11.5" class="fs" opacity="0.6" filter="url(#fb7)"/>
<path d="M15 29L35 27" stroke="#0cff1a" stroke-width="7.6" class="fs" stroke-dasharray="17 7.5" filter="url(#fb5)"/>
<path d="M50.1 28L70.1 28" stroke="#0aa614" stroke-width="9.2" class="fs" opacity="0.6" filter="url(#fb7)"/>
<path d="M50.1 28L70.1 28" stroke="#0aa614" stroke-width="6.4" class="fs" stroke-dasharray="14.6 6.5" filter="url(#fb4)"/>
<path d="M80.1 27L95.1 26L106.1 28" stroke="#0cff1a" stroke-width="12.6" class="fs" opacity="0.6" filter="url(#fb7)"/>
<path d="M80.1 27L95.1 26L106.1 28" stroke="#0cff1a" stroke-width="8.2" class="fs" stroke-dasharray="18.2 8" filter="url(#fb5)"/>
<path d="M112.1 28L140.2 29L168.2 29" stroke="#d868dc" stroke-width="11.5" class="fs" opacity="0.6" filter="url(#fb7)"/>
<path d="M112.1 28L140.2 29L168.2 29" stroke="#d868dc" stroke-width="7.6" class="fs" stroke-dasharray="17 7.5" filter="url(#fb5)"/>
<path d="M110.1 28L118.1 28" stroke="#fff" stroke-width="5.2" class="fs" opacity="0.55" filter="url(#fb4)"/>
<path d="M186.2 28L200.3 29" stroke="#de2ade" stroke-width="10.3" class="fs" opacity="0.6" filter="url(#fb7)"/>
<path d="M186.2 28L200.3 29" stroke="#de2ade" stroke-width="7" class="fs" stroke-dasharray="15.8 7" filter="url(#fb5)"/>
<path d="M1 50L8 49" stroke="#de2ade" stroke-width="8" class="fs" opacity="0.6" filter="url(#fb6)"/>
<path d="M1 50L8 49" stroke="#de2ade" stroke-width="5.8" class="fs" stroke-dasharray="13.4 6" filter="url(#fb4)"/>
<path d="M130.2 50L140.2 49" stroke="#0cff1a" stroke-width="4.6" class="fs" opacity="0.6" filter="url(#fb5)"/>
<path d="M130.2 50L140.2 49" stroke="#0cff1a" stroke-width="4" class="fs" stroke-dasharray="9.8 4.5" filter="url(#fb3)"/>
<path d="M168.2 48L172.2 46" stroke="#0cff1a" stroke-width="4.6" class="fs" opacity="0.6" filter="url(#fb5)"/>
<path d="M168.2 48L172.2 46" stroke="#0cff1a" stroke-width="4" class="fs" stroke-dasharray="9.8 4.5" filter="url(#fb3)"/>
</svg>
<text x="1906" y="1171.6" font-size="25">HU</text>
<text x="1924.5" y="1219" font-size="32.5" text-anchor="middle" stroke="#000" stroke-width="0.8">−</text>
<text x="1924.5" y="1271.1" font-size="30" text-anchor="middle" stroke="#000" stroke-width="0.8">+</text>
<text x="1924.5" y="1329" font-size="32.5" text-anchor="middle" stroke="#000" stroke-width="0.8">−</text>
<text x="1924.5" y="1379.1" font-size="30" text-anchor="middle" stroke="#000" stroke-width="0.8">+</text>
<text x="1924.5" y="1440" font-size="32.5" text-anchor="middle" stroke="#000" stroke-width="0.8">−</text>
<text x="1924.5" y="1491.1" font-size="30" text-anchor="middle" stroke="#000" stroke-width="0.8">+</text>
<path d="M1953.5 1184.9L1953.5 1287" stroke="#000" stroke-width="2.2"/>
<path d="M1953.5 1294.6L1953.5 1396.7" stroke="#000" stroke-width="2.2"/>
<path d="M1953.5 1405L1953.5 1507.6" stroke="#000" stroke-width="2.2"/>
<text x="1960.9" y="1242.4" font-size="24">WT</text>
<text x="1961" y="1357" font-size="24" fill="#5757f7">8<tspan font-size="13.9" dy="-8.6">KO</tspan></text>
<text x="1961" y="1467" font-size="24" fill="#f74040">9<tspan font-size="13.9" dy="-8.6">KO</tspan></text>
</svg></body></html>
